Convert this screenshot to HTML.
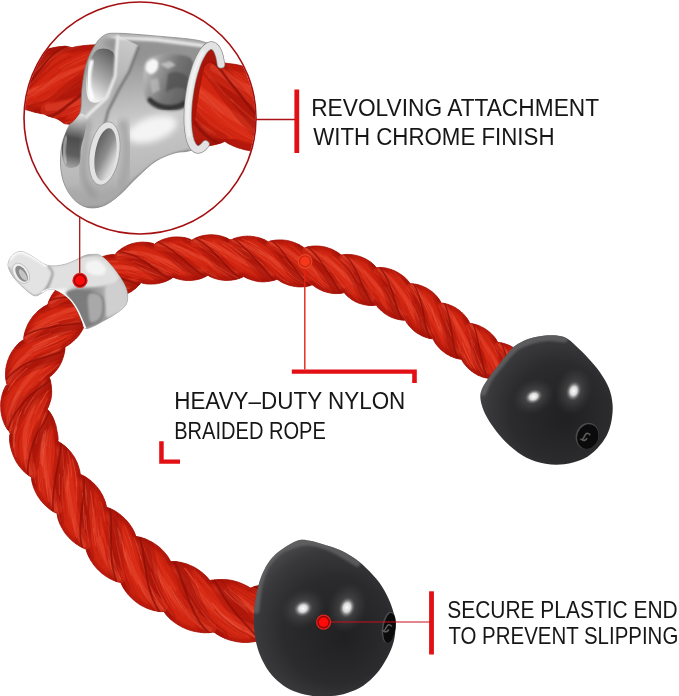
<!DOCTYPE html>
<html><head><meta charset="utf-8"><title>Tricep rope features</title>
<style>html,body{margin:0;padding:0;background:#fff}svg{display:block}</style></head>
<body><svg width="679" height="696" viewBox="0 0 679 696">
<rect width="679" height="696" fill="#fff"/>
<defs>
<clipPath id="insetclip"><circle cx="140" cy="118" r="115.2"/></clipPath>
<radialGradient id="capg1" gradientUnits="userSpaceOnUse" cx="556" cy="408" r="82" fx="566" fy="420">
<stop offset="0" stop-color="#202022"/><stop offset="0.6" stop-color="#2b2b2d"/><stop offset="0.85" stop-color="#39393b"/><stop offset="1" stop-color="#4a4a4c"/></radialGradient>
<radialGradient id="capg2" gradientUnits="userSpaceOnUse" cx="332" cy="625" r="90" fx="345" fy="638">
<stop offset="0" stop-color="#202022"/><stop offset="0.6" stop-color="#2b2b2d"/><stop offset="0.85" stop-color="#39393b"/><stop offset="1" stop-color="#4a4a4c"/></radialGradient>
<radialGradient id="hl"><stop offset="0" stop-color="#fff" stop-opacity="1"/><stop offset="0.45" stop-color="#eee" stop-opacity="0.85"/><stop offset="0.75" stop-color="#aaa" stop-opacity="0.35"/><stop offset="1" stop-color="#777" stop-opacity="0"/></radialGradient>
<radialGradient id="glow"><stop offset="0" stop-color="#8a8a8c" stop-opacity="0.55"/><stop offset="1" stop-color="#555" stop-opacity="0"/></radialGradient>
<linearGradient id="chrome1" gradientUnits="userSpaceOnUse" x1="40" y1="250" x2="70" y2="300"><stop offset="0" stop-color="#f0f0f0"/><stop offset="0.5" stop-color="#d2d2d2"/><stop offset="1" stop-color="#adadad"/></linearGradient>
<linearGradient id="sleeve1" gradientUnits="userSpaceOnUse" x1="66" y1="300" x2="124" y2="282"><stop offset="0" stop-color="#f4f4f4"/><stop offset="0.12" stop-color="#d8d8d8"/><stop offset="0.4" stop-color="#8f8f8f"/><stop offset="0.6" stop-color="#a5a5a5"/><stop offset="0.82" stop-color="#d6d6d6"/><stop offset="1" stop-color="#c4c4c4"/></linearGradient>
<linearGradient id="ich" gradientUnits="userSpaceOnUse" x1="120" y1="30" x2="140" y2="210"><stop offset="0" stop-color="#bcbcbc"/><stop offset="0.2" stop-color="#9c9c9c"/><stop offset="0.5" stop-color="#cacaca"/><stop offset="0.8" stop-color="#b8b8b8"/><stop offset="1" stop-color="#989898"/></linearGradient>
<linearGradient id="iband" gradientUnits="userSpaceOnUse" x1="125" y1="40" x2="90" y2="130"><stop offset="0" stop-color="#c9c9c9"/><stop offset="0.5" stop-color="#b0b0b0"/><stop offset="1" stop-color="#c4c4c4"/></linearGradient>
<linearGradient id="ishoulder" gradientUnits="userSpaceOnUse" x1="146" y1="54" x2="140" y2="104"><stop offset="0" stop-color="#ffffff"/><stop offset="0.35" stop-color="#d8d8d8"/><stop offset="0.75" stop-color="#8a8a8a"/><stop offset="1" stop-color="#b5b5b5"/></linearGradient>
<linearGradient id="ihollow" gradientUnits="userSpaceOnUse" x1="88" y1="95" x2="116" y2="55"><stop offset="0" stop-color="#f2f2f2"/><stop offset="0.4" stop-color="#b0b0b0"/><stop offset="1" stop-color="#5f5f5f"/></linearGradient>
<linearGradient id="ipatch" gradientUnits="userSpaceOnUse" x1="143" y1="70" x2="193" y2="90"><stop offset="0" stop-color="#c2c2c2"/><stop offset="0.25" stop-color="#9a9a9a"/><stop offset="0.55" stop-color="#747474"/><stop offset="1" stop-color="#5d5d5d"/></linearGradient>
<linearGradient id="ilobe" gradientUnits="userSpaceOnUse" x1="78" y1="114" x2="68" y2="168"><stop offset="0" stop-color="#e2e2e2"/><stop offset="0.22" stop-color="#9a9a9a"/><stop offset="0.45" stop-color="#4e4e4e"/><stop offset="0.75" stop-color="#5e5e5e"/><stop offset="1" stop-color="#a8a8a8"/></linearGradient>
<linearGradient id="ihole" gradientUnits="userSpaceOnUse" x1="92" y1="150" x2="116" y2="158"><stop offset="0" stop-color="#5e5e5e"/><stop offset="0.55" stop-color="#8c8c8c"/><stop offset="1" stop-color="#d8d8d8"/></linearGradient>
<filter id="b1" x="-20%" y="-20%" width="140%" height="140%"><feGaussianBlur stdDeviation="1.2"/></filter>
<filter id="b3" x="-30%" y="-30%" width="160%" height="160%"><feGaussianBlur stdDeviation="3"/></filter>
</defs>
<g clip-path="url(#insetclip)">
<clipPath id="rc2"><path d="M5.4 102.1L6.8 102.9L8.3 103.6L9.8 104.3L11.3 104.9L12.8 105.6L14.3 106.2L15.9 106.7L17.4 107.3L19.0 107.8L20.6 108.3L22.3 108.8L23.9 109.2L25.6 109.6L27.3 110.1L29.0 110.6L30.6 111.1L32.3 111.6L33.9 112.0L35.5 112.4L37.1 112.8L38.7 113.1L40.3 113.4L41.8 113.7L43.3 113.9L44.7 114.2L46.4 115.3L48.1 116.1L50.2 116.7L52.2 117.3L54.1 117.8L55.7 118.3L57.0 118.8L58.0 119.4L59.0 119.9L59.9 120.5L60.7 121.1L61.5 121.7L62.3 122.3L63.2 122.9L64.3 123.5L65.3 123.8L66.5 123.9L67.6 124.1L68.9 124.2L70.2 124.4L71.6 124.6L73.0 124.7L74.4 124.8L75.7 125.0L77.1 125.1L78.5 125.2L80.0 125.3L81.4 125.4L82.9 125.5L84.4 125.5L85.9 125.6L87.4 125.7L88.9 125.7L90.4 125.7L91.9 125.7L93.4 125.7L95.0 125.7L96.5 125.7L98.1 125.6L99.6 125.6L101.2 125.5L106.5 44.5L105.1 44.5L103.6 44.5L102.1 44.6L100.7 44.6L99.2 44.6L97.7 44.7L96.2 44.7L94.7 44.8L93.2 44.9L91.7 44.9L90.2 45.0L88.6 45.2L87.1 45.3L85.5 45.4L84.0 45.6L82.4 45.8L80.8 46.0L79.1 46.2L77.5 46.4L75.9 46.7L74.3 47.1L72.6 47.5L70.9 47.4L69.1 46.9L67.4 46.5L65.3 46.2L63.5 46.3L61.4 46.5L59.2 46.7L57.0 47.0L54.9 47.4L52.8 47.8L50.7 48.3L48.7 48.8L46.9 49.3L45.5 49.8L44.5 50.3L43.5 50.8L42.6 51.2L41.3 51.9L39.9 52.7L38.3 53.6L36.9 54.4L35.4 55.3L34.0 56.2L32.7 57.1L31.3 58.0L29.9 59.0L28.6 59.9L27.3 60.9L26.0 61.9L24.7 62.8L23.4 63.7L22.1 64.5L20.8 65.3L19.4 66.1L18.0 66.9L16.6 67.8L15.1 68.6L13.7 69.7L12.2 69.7L10.7 69.9L9.2 70.2L7.7 70.5L6.2 70.9L4.6 71.3Z"/></clipPath>
<path d="M5.4 102.1L6.8 102.9L8.3 103.6L9.8 104.3L11.3 104.9L12.8 105.6L14.3 106.2L15.9 106.7L17.4 107.3L19.0 107.8L20.6 108.3L22.3 108.8L23.9 109.2L25.6 109.6L27.3 110.1L29.0 110.6L30.6 111.1L32.3 111.6L33.9 112.0L35.5 112.4L37.1 112.8L38.7 113.1L40.3 113.4L41.8 113.7L43.3 113.9L44.7 114.2L46.4 115.3L48.1 116.1L50.2 116.7L52.2 117.3L54.1 117.8L55.7 118.3L57.0 118.8L58.0 119.4L59.0 119.9L59.9 120.5L60.7 121.1L61.5 121.7L62.3 122.3L63.2 122.9L64.3 123.5L65.3 123.8L66.5 123.9L67.6 124.1L68.9 124.2L70.2 124.4L71.6 124.6L73.0 124.7L74.4 124.8L75.7 125.0L77.1 125.1L78.5 125.2L80.0 125.3L81.4 125.4L82.9 125.5L84.4 125.5L85.9 125.6L87.4 125.7L88.9 125.7L90.4 125.7L91.9 125.7L93.4 125.7L95.0 125.7L96.5 125.7L98.1 125.6L99.6 125.6L101.2 125.5L106.5 44.5L105.1 44.5L103.6 44.5L102.1 44.6L100.7 44.6L99.2 44.6L97.7 44.7L96.2 44.7L94.7 44.8L93.2 44.9L91.7 44.9L90.2 45.0L88.6 45.2L87.1 45.3L85.5 45.4L84.0 45.6L82.4 45.8L80.8 46.0L79.1 46.2L77.5 46.4L75.9 46.7L74.3 47.1L72.6 47.5L70.9 47.4L69.1 46.9L67.4 46.5L65.3 46.2L63.5 46.3L61.4 46.5L59.2 46.7L57.0 47.0L54.9 47.4L52.8 47.8L50.7 48.3L48.7 48.8L46.9 49.3L45.5 49.8L44.5 50.3L43.5 50.8L42.6 51.2L41.3 51.9L39.9 52.7L38.3 53.6L36.9 54.4L35.4 55.3L34.0 56.2L32.7 57.1L31.3 58.0L29.9 59.0L28.6 59.9L27.3 60.9L26.0 61.9L24.7 62.8L23.4 63.7L22.1 64.5L20.8 65.3L19.4 66.1L18.0 66.9L16.6 67.8L15.1 68.6L13.7 69.7L12.2 69.7L10.7 69.9L9.2 70.2L7.7 70.5L6.2 70.9L4.6 71.3Z" fill="#cf2511" stroke="#a8150a" stroke-width="0.8"/>
<g clip-path="url(#rc2)" fill="none" stroke-linecap="round" stroke-linejoin="round">
<path d="M5.4 102.1L6.8 102.9L8.3 103.6L9.8 104.3L11.3 104.9L12.8 105.6L14.3 106.2L15.9 106.7L17.4 107.3L19.0 107.8L20.6 108.3L22.3 108.8L23.9 109.2L25.6 109.6L27.3 110.1L29.0 110.6L30.6 111.1L32.3 111.6L33.9 112.0L35.5 112.4L37.1 112.8L38.7 113.1L40.3 113.4L41.8 113.7L43.3 113.9L44.7 114.2L46.4 115.3L48.1 116.1L50.2 116.7L52.2 117.3L54.1 117.8L55.7 118.3L57.0 118.8L58.0 119.4L59.0 119.9L59.9 120.5L60.7 121.1L61.5 121.7L62.3 122.3L63.2 122.9L64.3 123.5L65.3 123.8L66.5 123.9L67.6 124.1L68.9 124.2L70.2 124.4L71.6 124.6L73.0 124.7L74.4 124.8L75.7 125.0L77.1 125.1L78.5 125.2L80.0 125.3L81.4 125.4L82.9 125.5L84.4 125.5L85.9 125.6L87.4 125.7L88.9 125.7L90.4 125.7L91.9 125.7L93.4 125.7L95.0 125.7L96.5 125.7L98.1 125.6L99.6 125.6L101.2 125.5" stroke="#8a0f06" stroke-opacity="0.30" stroke-width="9.9" filter="url(#b1)"/>
<path d="M4.6 71.3L6.2 70.9L7.7 70.5L9.2 70.2L10.7 69.9L12.2 69.7L13.7 69.7L15.1 68.6L16.6 67.8L18.0 66.9L19.4 66.1L20.8 65.3L22.1 64.5L23.4 63.7L24.7 62.8L26.0 61.9L27.3 60.9L28.6 59.9L29.9 59.0L31.3 58.0L32.7 57.1L34.0 56.2L35.4 55.3L36.9 54.4L38.3 53.6L39.9 52.7L41.3 51.9L42.6 51.2L43.5 50.8L44.5 50.3L45.5 49.8L46.9 49.3L48.7 48.8L50.7 48.3L52.8 47.8L54.9 47.4L57.0 47.0L59.2 46.7L61.4 46.5L63.5 46.3L65.3 46.2L67.4 46.5L69.1 46.9L70.9 47.4L72.6 47.5L74.3 47.1L75.9 46.7L77.5 46.4L79.1 46.2L80.8 46.0L82.4 45.8L84.0 45.6L85.5 45.4L87.1 45.3L88.6 45.2L90.2 45.0L91.7 44.9L93.2 44.9L94.7 44.8L96.2 44.7L97.7 44.7L99.2 44.6L100.7 44.6L102.1 44.6L103.6 44.5L105.1 44.5L106.5 44.5" stroke="#8a0f06" stroke-opacity="0.38" stroke-width="11.3" filter="url(#b1)"/>
<path d="M-3.2 77.7L1.3 76.3L5.9 74.8" stroke="#e2361f" stroke-opacity="0.45" stroke-width="6.5"/>
<path d="M-3.5 76.7L1.0 75.3L5.6 73.8" stroke="#ec5038" stroke-opacity="0.4" stroke-width="2.9"/>
<path d="M-2.2 78.8L0.7 76.3L3.7 74.1L6.8 71.5L10.1 68.8" stroke="#a01208" stroke-opacity="0.38" stroke-width="10.2"/>
<path d="M-2.2 78.8L0.7 76.3L3.7 74.1L6.8 71.5L10.1 68.8" stroke="#a01208" stroke-opacity="0.50" stroke-width="5.5"/>
<path d="M-4.4 91.4L0.1 89.2L4.6 87.0L9.4 84.6L14.6 81.7L20.3 78.3L26.4 74.3L33.2 69.0L41.5 62.9L50.1 57.1" stroke="#e2361f" stroke-opacity="0.45" stroke-width="6.5"/>
<path d="M-4.8 90.4L-0.3 88.3L4.2 86.0L8.8 83.6L14.0 80.7L19.7 77.4L25.7 73.4L32.6 68.1L40.9 62.0L49.5 56.2" stroke="#ec5038" stroke-opacity="0.4" stroke-width="2.9"/>
<path d="M-1.6 103.4L1.4 101.8L4.4 100.0L7.4 98.2L10.6 96.2L14.1 93.7L17.8 90.5L21.8 86.6L25.9 82.2L30.3 76.9L35.0 70.8L40.4 64.1L45.3 57.4L52.1 50.8L62.4 44.8" stroke="#a01208" stroke-opacity="0.38" stroke-width="15.3"/>
<path d="M-1.6 103.4L1.4 101.8L4.4 100.0L7.4 98.2L10.6 96.2L14.1 93.7L17.8 90.5L21.8 86.6L25.9 82.2L30.3 76.9L35.0 70.8L40.4 64.1L45.3 57.4L52.1 50.8L62.4 44.8" stroke="#a01208" stroke-opacity="0.50" stroke-width="8.2"/>
<path d="M3.4 98.9L8.0 98.4L13.0 98.1L18.8 97.1L25.3 95.5L32.5 93.1L40.6 89.5L49.8 84.5L60.2 78.4L72.3 73.1L84.5 68.8L96.5 65.0L108.4 61.6" stroke="#e2361f" stroke-opacity="0.45" stroke-width="9.9"/>
<path d="M3.2 97.3L7.8 96.8L12.9 96.4L18.5 95.5L24.8 93.9L31.9 91.6L39.9 88.1L49.0 83.1L59.4 76.9L71.7 71.6L83.9 67.3L96.1 63.4L107.9 60.0" stroke="#ec5038" stroke-opacity="0.4" stroke-width="4.4"/>
<path d="M38.6 114.5L44.4 114.1L51.6 111.9L57.6 108.0L62.6 103.5L69.6 97.6L77.5 91.2L85.7 84.6L94.0 78.1L102.3 71.6L110.5 65.4" stroke="#a01208" stroke-opacity="0.38" stroke-width="26.2"/>
<path d="M38.6 114.5L44.4 114.1L51.6 111.9L57.6 108.0L62.6 103.5L69.6 97.6L77.5 91.2L85.7 84.6L94.0 78.1L102.3 71.6L110.5 65.4" stroke="#a01208" stroke-opacity="0.50" stroke-width="14.0"/>
<path d="M48.9 110.3L58.7 109.1L67.1 107.6L78.2 104.3L90.0 100.7L102.2 96.7L114.4 92.1" stroke="#e2361f" stroke-opacity="0.45" stroke-width="16.9"/>
<path d="M48.6 107.5L58.2 106.4L66.5 104.8L77.4 101.6L89.2 98.1L101.2 94.0L113.4 89.5" stroke="#ec5038" stroke-opacity="0.4" stroke-width="7.5"/>
<path d="M7.2 79.5L10.4 76.9L13.8 74.2L17.3 71.4L21.0 68.4" stroke="#a4140a" stroke-opacity="0.18" stroke-width="0.8"/>
<path d="M65.2 92.9L73.4 87.9L82.0 82.9L90.8 78.0L99.5 73.2" stroke="#ee6248" stroke-opacity="0.11" stroke-width="1.4"/>
<path d="M19.3 105.6L27.0 104.8L35.7 103.0L45.3 99.2L56.2 92.1" stroke="#ee6248" stroke-opacity="0.18" stroke-width="1.0"/>
<path d="M41.6 91.6L50.0 85.3L59.5 77.7L70.9 70.6L82.4 64.7" stroke="#ee6248" stroke-opacity="0.15" stroke-width="1.0"/>
<path d="M15.7 102.6L19.4 101.9L23.4 100.8L27.7 99.4L32.3 97.6" stroke="#a4140a" stroke-opacity="0.26" stroke-width="0.7"/>
<path d="M-3.8 98.2L0.7 95.6L5.2 92.8L9.9 90.2" stroke="#a4140a" stroke-opacity="0.09" stroke-width="0.6"/>
<path d="M-1.0 86.7L3.3 83.7L7.7 80.5" stroke="#a4140a" stroke-opacity="0.14" stroke-width="0.7"/>
<path d="M89.1 61.1L95.2 58.4L101.3 55.8L107.2 53.3L113.3 51.3" stroke="#ee6248" stroke-opacity="0.30" stroke-width="1.1"/>
<path d="M65.2 95.7L77.3 88.5L90.1 81.3L102.9 74.2L115.7 67.3" stroke="#ee6248" stroke-opacity="0.10" stroke-width="0.9"/>
<path d="M-4.4 100.1L0.9 97.4L6.3 94.5L12.0 91.5L18.6 87.3" stroke="#a4140a" stroke-opacity="0.24" stroke-width="0.7"/>
<path d="M37.4 80.9L47.1 71.9L60.3 61.6L75.7 54.2L90.0 49.2" stroke="#a4140a" stroke-opacity="0.24" stroke-width="0.9"/>
<path d="M15.3 105.8L20.8 105.8L27.0 105.1L33.8 104.0L41.1 101.7" stroke="#a4140a" stroke-opacity="0.10" stroke-width="0.8"/>
<path d="M13.7 101.8L19.9 100.3L27.0 97.7L34.9 93.8L43.8 87.9" stroke="#ee6248" stroke-opacity="0.22" stroke-width="0.9"/>
<path d="M30.9 75.7L40.0 66.8L49.6 57.0L66.4 47.8L81.9 44.1" stroke="#ee6248" stroke-opacity="0.27" stroke-width="1.1"/>
<path d="M-2.3 95.5L1.6 93.1L5.5 90.5L9.6 87.9L14.1 84.8" stroke="#a4140a" stroke-opacity="0.16" stroke-width="0.4"/>
<path d="M75.5 120.1L85.2 117.1L95.4 113.4L105.9 108.9" stroke="#a4140a" stroke-opacity="0.18" stroke-width="1.2"/>
<path d="M65.5 123.0L74.8 120.6L85.3 117.4L96.3 113.5L107.5 108.6" stroke="#ee6248" stroke-opacity="0.30" stroke-width="1.4"/>
<path d="M-1.1 98.0L2.6 96.0L6.3 93.9L10.2 91.8" stroke="#a4140a" stroke-opacity="0.15" stroke-width="0.6"/>
<path d="M90.7 62.9L100.2 58.5L109.7 54.5" stroke="#a4140a" stroke-opacity="0.15" stroke-width="0.9"/>
<path d="M26.6 89.4L34.7 83.2L44.1 74.8L54.9 65.0L70.2 56.4" stroke="#a4140a" stroke-opacity="0.23" stroke-width="1.4"/>
<path d="M49.8 84.9L60.7 76.3L73.6 68.6L86.5 62.1L99.2 56.4" stroke="#a4140a" stroke-opacity="0.16" stroke-width="0.9"/>
<path d="M7.7 99.3L11.4 98.3L15.6 96.9L20.1 94.8L24.9 92.1" stroke="#a4140a" stroke-opacity="0.10" stroke-width="0.7"/>
<path d="M75.4 108.9L81.8 105.9L88.4 102.7L95.2 99.3L101.9 95.7" stroke="#ee6248" stroke-opacity="0.11" stroke-width="1.4"/>
<path d="M0.4 100.6L5.2 98.3L10.3 96.7L16.1 94.2L22.6 90.5" stroke="#a4140a" stroke-opacity="0.20" stroke-width="0.9"/>
<path d="M-1.6 76.7L2.5 74.6L6.6 72.2L11.1 69.1" stroke="#ee6248" stroke-opacity="0.26" stroke-width="0.7"/>
<path d="M94.3 122.6L105.6 119.4" stroke="#ee6248" stroke-opacity="0.23" stroke-width="1.0"/>
<path d="M-2.5 88.1L0.9 85.8L4.3 83.4L7.8 80.7" stroke="#a4140a" stroke-opacity="0.17" stroke-width="0.6"/>
<path d="M38.0 97.1L48.6 90.6L60.3 81.5L74.5 72.8L89.1 65.2" stroke="#a4140a" stroke-opacity="0.18" stroke-width="1.0"/>
<path d="M35.9 83.3L44.6 75.7L54.4 66.7L68.3 58.4L81.6 53.0" stroke="#a4140a" stroke-opacity="0.13" stroke-width="1.1"/>
<path d="M22.3 99.8L27.5 97.9L33.1 95.2L39.1 91.6L45.8 86.9" stroke="#ee6248" stroke-opacity="0.20" stroke-width="0.9"/>
<path d="M2.3 96.2L5.0 94.5L7.8 93.2L10.7 91.6L13.8 89.7" stroke="#ee6248" stroke-opacity="0.23" stroke-width="0.7"/>
<path d="M98.6 94.6L109.6 88.5" stroke="#a4140a" stroke-opacity="0.22" stroke-width="1.3"/>
<path d="M39.3 88.1L45.9 83.0L52.8 76.8L61.6 70.3L71.3 64.8" stroke="#a4140a" stroke-opacity="0.20" stroke-width="1.1"/>
<path d="M8.3 102.4L12.0 102.2L16.1 101.5L20.7 100.3L25.7 98.4" stroke="#ee6248" stroke-opacity="0.12" stroke-width="0.6"/>
<path d="M8.7 97.2L13.4 95.4L18.7 92.7L24.4 89.2L30.7 84.6" stroke="#a4140a" stroke-opacity="0.20" stroke-width="0.7"/>
<path d="M83.4 79.7L93.8 73.9L104.2 68.3L114.6 63.1" stroke="#a4140a" stroke-opacity="0.18" stroke-width="1.0"/>
<path d="M39.2 69.3L47.5 60.6L61.3 51.7L75.8 46.5L88.8 43.7" stroke="#ee6248" stroke-opacity="0.12" stroke-width="1.5"/>
<path d="M81.6 81.0L94.4 73.9L107.0 67.1" stroke="#ee6248" stroke-opacity="0.26" stroke-width="1.0"/>
<path d="M4.4 92.8L6.7 91.4L9.1 90.0L11.6 88.4L14.3 86.6" stroke="#a4140a" stroke-opacity="0.12" stroke-width="0.8"/>
<path d="M35.1 81.1L42.8 74.1L50.7 66.3L62.7 58.1L75.2 52.7" stroke="#a4140a" stroke-opacity="0.16" stroke-width="1.2"/>
<path d="M15.1 83.0L19.1 79.9L23.4 76.3L27.8 72.0L32.7 67.0" stroke="#a4140a" stroke-opacity="0.11" stroke-width="0.8"/>
<path d="M25.5 105.7L30.3 105.3L35.4 104.3L40.8 102.7L46.7 100.3" stroke="#a4140a" stroke-opacity="0.16" stroke-width="0.9"/>
<path d="M72.5 92.5L83.9 86.0L95.6 79.5L107.2 73.0" stroke="#a4140a" stroke-opacity="0.22" stroke-width="1.0"/>
<path d="M-0.5 85.6L4.0 82.6L8.7 79.0" stroke="#a4140a" stroke-opacity="0.12" stroke-width="0.7"/>
<path d="M91.8 112.7L100.6 109.0L109.3 104.7" stroke="#ee6248" stroke-opacity="0.21" stroke-width="1.5"/>
<path d="M34.6 75.3L42.5 67.5L50.7 59.3L64.6 51.2L77.5 47.1" stroke="#ee6248" stroke-opacity="0.15" stroke-width="1.1"/>
<path d="M68.5 114.1L75.2 111.2L82.1 108.1L89.4 104.7L96.8 101.1" stroke="#ee6248" stroke-opacity="0.23" stroke-width="1.1"/>
<path d="M7.3 95.5L10.0 94.3L12.9 92.8L16.0 91.1L19.3 89.1" stroke="#ee6248" stroke-opacity="0.26" stroke-width="0.7"/>
<path d="M25.8 108.4L31.1 108.7L36.8 108.4L42.8 107.5L49.9 105.3" stroke="#ee6248" stroke-opacity="0.10" stroke-width="1.3"/>
<path d="M59.3 68.3L67.1 63.5L74.8 59.9L82.3 56.6L89.6 53.7" stroke="#ee6248" stroke-opacity="0.28" stroke-width="1.1"/>
<path d="M98.3 59.3L104.3 56.6L110.4 54.1L116.6 52.0" stroke="#ee6248" stroke-opacity="0.21" stroke-width="1.1"/>
<path d="M19.1 97.4L23.3 95.4L27.8 93.1L32.6 90.1L37.8 86.3" stroke="#ee6248" stroke-opacity="0.24" stroke-width="1.2"/>
<path d="M-2.9 79.3L1.1 77.0L5.2 74.8L9.4 71.6" stroke="#ee6248" stroke-opacity="0.10" stroke-width="0.6"/>
<path d="M-0.5 96.9L2.7 95.0L5.8 93.1L9.1 91.3L12.6 89.2" stroke="#a4140a" stroke-opacity="0.17" stroke-width="0.5"/>
<path d="M88.1 64.9L100.4 59.0L112.5 54.0" stroke="#ee6248" stroke-opacity="0.28" stroke-width="1.1"/>
<path d="M62.9 81.2L74.6 74.2L86.5 67.9L98.2 62.0L109.8 56.8" stroke="#a4140a" stroke-opacity="0.24" stroke-width="1.2"/>
<path d="M28.7 108.2L34.8 108.0L41.2 107.0L48.5 104.9L56.2 100.8" stroke="#a4140a" stroke-opacity="0.13" stroke-width="1.4"/>
<path d="M64.0 117.1L74.8 112.6L87.0 107.2L99.8 101.1L112.7 94.1" stroke="#a4140a" stroke-opacity="0.27" stroke-width="1.1"/>
<path d="M62.6 69.4L72.5 63.9L82.1 59.4L91.6 55.4L100.8 51.8" stroke="#ee6248" stroke-opacity="0.17" stroke-width="1.3"/>
<path d="M9.0 79.9L12.7 77.0L16.5 73.9L20.5 70.5L24.6 66.9" stroke="#a4140a" stroke-opacity="0.15" stroke-width="0.8"/>
<path d="M76.8 99.4L88.1 93.2L99.7 86.8L111.3 80.2" stroke="#ee6248" stroke-opacity="0.19" stroke-width="0.9"/>
<path d="M32.5 95.7L38.1 92.5L44.2 88.3L50.8 83.0L58.2 77.0" stroke="#ee6248" stroke-opacity="0.16" stroke-width="1.0"/>
<path d="M12.4 83.9L18.6 79.0L25.4 73.1L32.9 65.3L42.1 56.1" stroke="#a4140a" stroke-opacity="0.17" stroke-width="1.1"/>
<path d="M40.1 63.9L44.8 59.0L50.0 54.2L58.7 49.3L67.5 45.5" stroke="#a4140a" stroke-opacity="0.20" stroke-width="1.2"/>
<path d="M55.1 75.5L68.6 66.7L82.3 60.1L95.6 54.4L108.5 49.8" stroke="#ee6248" stroke-opacity="0.17" stroke-width="1.3"/>
<path d="M-2.7 80.6L1.5 78.1L5.6 75.5L10.1 72.2" stroke="#ee6248" stroke-opacity="0.22" stroke-width="0.8"/>
<path d="M73.2 81.7L81.1 77.2L89.1 72.8L97.1 68.6L104.9 64.5" stroke="#a4140a" stroke-opacity="0.16" stroke-width="1.5"/>
<path d="M24.2 88.8L31.8 82.9L40.7 74.9L50.3 65.5L65.2 55.7" stroke="#ee6248" stroke-opacity="0.15" stroke-width="1.0"/>
<path d="M-3.1 95.1L2.0 91.8L7.2 88.4L13.0 84.3" stroke="#ee6248" stroke-opacity="0.11" stroke-width="0.8"/>
<path d="M25.7 96.3L32.8 92.5L40.7 87.0L49.4 79.8L60.1 71.3" stroke="#a4140a" stroke-opacity="0.13" stroke-width="1.0"/>
<path d="M16.9 82.2L23.7 76.6L31.2 69.2L40.2 60.0L49.9 50.9" stroke="#ee6248" stroke-opacity="0.23" stroke-width="1.0"/>
<path d="M82.4 109.4L90.8 105.5L99.4 101.4L108.0 96.8" stroke="#ee6248" stroke-opacity="0.27" stroke-width="1.0"/>
<path d="M6.6 100.2L12.3 98.9L18.8 96.5L26.2 92.7L34.5 87.2" stroke="#ee6248" stroke-opacity="0.16" stroke-width="0.9"/>
<path d="M2.3 89.5L5.9 87.0L9.7 84.3L13.9 81.1L18.4 77.5" stroke="#ee6248" stroke-opacity="0.22" stroke-width="0.6"/>
<path d="M2.3 79.5L7.4 76.0L12.9 71.8L18.9 67.2L25.1 62.2" stroke="#ee6248" stroke-opacity="0.16" stroke-width="0.5"/>
<path d="M58.4 110.0L65.3 106.7L74.7 101.5L85.0 96.0L95.6 90.2" stroke="#a4140a" stroke-opacity="0.23" stroke-width="1.0"/>
<path d="M-0.3 82.1L2.2 80.6L4.6 79.0L7.1 77.1L9.8 75.0" stroke="#ee6248" stroke-opacity="0.10" stroke-width="0.5"/>
<path d="M-2.2 81.5L0.8 78.7L3.8 76.2L6.8 73.4L10.1 70.4L13.6 67.5" stroke="#8e1007" stroke-opacity="0.8" stroke-width="1.1"/>
<path d="M1.4 103.3L4.4 101.8L7.4 100.5L10.6 99.0L14.1 96.8L17.9 94.1L21.9 90.6L26.2 86.4L30.6 81.4L35.4 75.6L40.7 68.8L45.8 61.9L52.5 54.8L62.4 48.2L72.0 44.1" stroke="#8e1007" stroke-opacity="0.8" stroke-width="1.6"/>
<path d="M44.6 117.0L52.0 115.7L58.0 112.8L62.7 109.3L69.3 104.1L77.1 98.1L85.2 91.8L93.5 85.2L101.8 78.6L110.1 72.1" stroke="#8e1007" stroke-opacity="0.8" stroke-width="2.8"/>
</g>
<ellipse cx="204.7" cy="97.5" rx="15.5" ry="52.5" fill="#a8160b" transform="rotate(8 204.7 97.5)"/>
<clipPath id="rc3"><path d="M204.2 62.2L206.1 63.1L208.2 62.6L210.2 62.4L212.2 62.3L214.1 62.3L215.9 62.3L217.6 62.4L219.2 62.5L220.7 62.6L222.1 62.7L223.5 62.9L224.8 63.0L226.0 63.2L227.2 63.3L228.2 63.5L229.4 63.6L230.7 63.8L231.9 63.9L233.2 64.1L234.6 64.3L235.9 64.5L237.3 64.8L238.7 65.1L240.1 65.4L241.4 65.7L242.9 66.0L244.2 66.4L245.6 66.8L247.0 67.2L248.3 67.6L249.7 68.1L251.0 68.6L252.4 69.1L253.7 69.6L255.0 70.1L256.3 70.7L257.6 71.2L258.9 71.8L260.1 72.4L261.3 73.0L262.6 73.6L263.9 74.3L265.3 75.0L266.6 75.7L268.0 76.4L269.4 77.2L270.9 78.0L272.4 78.9L273.8 79.9L275.3 80.9L267.5 151.8L266.0 151.9L264.6 151.9L263.1 151.9L261.7 151.9L260.2 151.9L258.7 151.8L257.1 151.7L255.5 151.5L253.8 151.3L252.2 151.1L250.5 150.9L248.8 150.6L247.1 150.2L245.6 149.9L243.9 149.5L242.3 149.1L240.8 148.6L239.3 148.2L237.7 147.7L236.3 147.2L234.7 146.6L233.3 146.0L231.8 145.3L230.3 144.6L228.8 143.9L227.3 143.0L225.9 141.9L224.4 141.5L222.6 142.4L220.9 143.1L219.2 143.6L217.4 144.1L215.6 144.5L213.8 144.9L211.8 145.3L209.8 145.6L207.9 145.9L206.0 146.1L204.2 146.4L202.5 146.6L200.8 146.8L199.2 147.1L197.7 147.3L196.3 147.5L195.0 147.7L193.8 147.9L192.8 148.2L191.8 148.4L190.8 148.7L189.8 148.8Z"/></clipPath>
<path d="M204.2 62.2L206.1 63.1L208.2 62.6L210.2 62.4L212.2 62.3L214.1 62.3L215.9 62.3L217.6 62.4L219.2 62.5L220.7 62.6L222.1 62.7L223.5 62.9L224.8 63.0L226.0 63.2L227.2 63.3L228.2 63.5L229.4 63.6L230.7 63.8L231.9 63.9L233.2 64.1L234.6 64.3L235.9 64.5L237.3 64.8L238.7 65.1L240.1 65.4L241.4 65.7L242.9 66.0L244.2 66.4L245.6 66.8L247.0 67.2L248.3 67.6L249.7 68.1L251.0 68.6L252.4 69.1L253.7 69.6L255.0 70.1L256.3 70.7L257.6 71.2L258.9 71.8L260.1 72.4L261.3 73.0L262.6 73.6L263.9 74.3L265.3 75.0L266.6 75.7L268.0 76.4L269.4 77.2L270.9 78.0L272.4 78.9L273.8 79.9L275.3 80.9L267.5 151.8L266.0 151.9L264.6 151.9L263.1 151.9L261.7 151.9L260.2 151.9L258.7 151.8L257.1 151.7L255.5 151.5L253.8 151.3L252.2 151.1L250.5 150.9L248.8 150.6L247.1 150.2L245.6 149.9L243.9 149.5L242.3 149.1L240.8 148.6L239.3 148.2L237.7 147.7L236.3 147.2L234.7 146.6L233.3 146.0L231.8 145.3L230.3 144.6L228.8 143.9L227.3 143.0L225.9 141.9L224.4 141.5L222.6 142.4L220.9 143.1L219.2 143.6L217.4 144.1L215.6 144.5L213.8 144.9L211.8 145.3L209.8 145.6L207.9 145.9L206.0 146.1L204.2 146.4L202.5 146.6L200.8 146.8L199.2 147.1L197.7 147.3L196.3 147.5L195.0 147.7L193.8 147.9L192.8 148.2L191.8 148.4L190.8 148.7L189.8 148.8Z" fill="#cf2511" stroke="#a8150a" stroke-width="0.8"/>
<g clip-path="url(#rc3)" fill="none" stroke-linecap="round" stroke-linejoin="round">
<path d="M204.2 62.2L206.1 63.1L208.2 62.6L210.2 62.4L212.2 62.3L214.1 62.3L215.9 62.3L217.6 62.4L219.2 62.5L220.7 62.6L222.1 62.7L223.5 62.9L224.8 63.0L226.0 63.2L227.2 63.3L228.2 63.5L229.4 63.6L230.7 63.8L231.9 63.9L233.2 64.1L234.6 64.3L235.9 64.5L237.3 64.8L238.7 65.1L240.1 65.4L241.4 65.7L242.9 66.0L244.2 66.4L245.6 66.8L247.0 67.2L248.3 67.6L249.7 68.1L251.0 68.6L252.4 69.1L253.7 69.6L255.0 70.1L256.3 70.7L257.6 71.2L258.9 71.8L260.1 72.4L261.3 73.0L262.6 73.6L263.9 74.3L265.3 75.0L266.6 75.7L268.0 76.4L269.4 77.2L270.9 78.0L272.4 78.9L273.8 79.9L275.3 80.9" stroke="#8a0f06" stroke-opacity="0.30" stroke-width="13.3" filter="url(#b1)"/>
<path d="M189.8 148.8L190.8 148.7L191.8 148.4L192.8 148.2L193.8 147.9L195.0 147.7L196.3 147.5L197.7 147.3L199.2 147.1L200.8 146.8L202.5 146.6L204.2 146.4L206.0 146.1L207.9 145.9L209.8 145.6L211.8 145.3L213.8 144.9L215.6 144.5L217.4 144.1L219.2 143.6L220.9 143.1L222.6 142.4L224.4 141.5L225.9 141.9L227.3 143.0L228.8 143.9L230.3 144.6L231.8 145.3L233.3 146.0L234.7 146.6L236.3 147.2L237.7 147.7L239.3 148.2L240.8 148.6L242.3 149.1L243.9 149.5L245.6 149.9L247.1 150.2L248.8 150.6L250.5 150.9L252.2 151.1L253.8 151.3L255.5 151.5L257.1 151.7L258.7 151.8L260.2 151.9L261.7 151.9L263.1 151.9L264.6 151.9L266.0 151.9L267.5 151.8" stroke="#8a0f06" stroke-opacity="0.38" stroke-width="15.2" filter="url(#b1)"/>
<path d="M194.8 131.2L205.6 135.1" stroke="#e2361f" stroke-opacity="0.45" stroke-width="19.0"/>
<path d="M195.9 128.3L206.6 132.1" stroke="#ec5038" stroke-opacity="0.4" stroke-width="8.5"/>
<path d="M187.4 122.5L193.8 130.0L199.5 136.1L206.9 141.5L215.8 145.8" stroke="#a01208" stroke-opacity="0.38" stroke-width="29.6"/>
<path d="M187.4 122.5L193.8 130.0L199.5 136.1L206.9 141.5L215.8 145.8" stroke="#a01208" stroke-opacity="0.50" stroke-width="15.9"/>
<path d="M197.2 94.6L208.8 103.1L219.6 111.2L230.5 118.2L241.2 124.4L252.0 129.7L262.8 134.1L272.7 137.8" stroke="#e2361f" stroke-opacity="0.45" stroke-width="19.0"/>
<path d="M199.1 92.0L210.7 100.5L221.5 108.6L232.2 115.5L242.7 121.6L253.3 126.8L263.9 131.2L273.8 134.9" stroke="#ec5038" stroke-opacity="0.4" stroke-width="8.5"/>
<path d="M195.9 55.5L205.7 61.3L214.8 69.3L221.3 77.6L226.8 85.7L233.0 93.8L239.3 101.9L245.6 109.9L252.1 117.5L258.7 124.6L265.2 131.0L271.4 136.8L277.7 142.3" stroke="#a01208" stroke-opacity="0.38" stroke-width="24.3"/>
<path d="M195.9 55.5L205.7 61.3L214.8 69.3L221.3 77.6L226.8 85.7L233.0 93.8L239.3 101.9L245.6 109.9L252.1 117.5L258.7 124.6L265.2 131.0L271.4 136.8L277.7 142.3" stroke="#a01208" stroke-opacity="0.50" stroke-width="13.0"/>
<path d="M211.8 69.9L222.9 77.0L232.5 83.3L242.7 89.7L252.8 96.0L262.5 102.2L272.5 108.2" stroke="#e2361f" stroke-opacity="0.45" stroke-width="15.6"/>
<path d="M213.2 67.7L224.3 74.8L233.9 81.2L244.1 87.5L254.1 93.8L263.9 99.9L273.9 106.0" stroke="#ec5038" stroke-opacity="0.4" stroke-width="7.0"/>
<path d="M270.9 76.6L277.7 81.0L284.1 85.7" stroke="#a01208" stroke-opacity="0.38" stroke-width="23.2"/>
<path d="M270.9 76.6L277.7 81.0L284.1 85.7" stroke="#a01208" stroke-opacity="0.50" stroke-width="12.4"/>
<path d="M186.8 122.8L194.9 129.5L202.7 135.1" stroke="#a4140a" stroke-opacity="0.27" stroke-width="1.2"/>
<path d="M228.1 69.3L234.5 74.4L241.4 79.7L248.2 85.2L254.7 90.8" stroke="#ee6248" stroke-opacity="0.23" stroke-width="1.4"/>
<path d="M216.4 64.1L223.6 70.4L229.6 76.4L236.5 82.3L243.4 88.3" stroke="#a4140a" stroke-opacity="0.13" stroke-width="1.2"/>
<path d="M263.8 75.3L273.2 80.1L282.5 85.1" stroke="#a4140a" stroke-opacity="0.13" stroke-width="1.2"/>
<path d="M262.5 79.1L271.0 84.6L279.8 90.2" stroke="#a4140a" stroke-opacity="0.21" stroke-width="1.2"/>
<path d="M196.2 93.1L205.0 101.4L212.9 109.6L221.1 117.1" stroke="#ee6248" stroke-opacity="0.17" stroke-width="1.4"/>
<path d="M247.7 84.7L256.4 92.0L265.0 99.3L273.9 106.6" stroke="#ee6248" stroke-opacity="0.19" stroke-width="1.1"/>
<path d="M237.8 87.1L245.9 94.4L253.9 101.6L261.9 108.5L270.0 115.2" stroke="#a4140a" stroke-opacity="0.16" stroke-width="1.5"/>
<path d="M189.9 113.6L198.1 121.1L206.2 128.0L215.9 134.2" stroke="#ee6248" stroke-opacity="0.22" stroke-width="1.2"/>
<path d="M223.4 65.4L228.1 69.8L233.5 74.0L239.1 78.4L244.7 82.9" stroke="#a4140a" stroke-opacity="0.18" stroke-width="1.3"/>
<path d="M269.8 118.0L274.9 122.3L280.1 126.4" stroke="#ee6248" stroke-opacity="0.21" stroke-width="1.0"/>
<path d="M257.7 127.3L268.7 134.6" stroke="#ee6248" stroke-opacity="0.27" stroke-width="0.9"/>
<path d="M193.4 79.7L206.4 90.6L217.0 101.9L227.5 112.1L238.1 121.2" stroke="#ee6248" stroke-opacity="0.12" stroke-width="1.1"/>
<path d="M208.4 76.5L215.5 83.4L221.3 89.9L227.2 96.1L233.4 102.1" stroke="#ee6248" stroke-opacity="0.18" stroke-width="1.4"/>
<path d="M250.0 100.1L258.0 107.2L266.2 114.0L274.1 120.5" stroke="#a4140a" stroke-opacity="0.25" stroke-width="1.3"/>
<path d="M252.7 133.6L258.4 136.9L263.9 139.9L269.0 142.5L274.2 145.3" stroke="#a4140a" stroke-opacity="0.14" stroke-width="1.2"/>
<path d="M252.5 117.9L258.7 122.7L264.8 127.2L270.6 131.4L276.5 135.6" stroke="#a4140a" stroke-opacity="0.10" stroke-width="1.1"/>
<path d="M250.7 92.3L259.4 100.0L268.5 107.5L277.4 115.0" stroke="#a4140a" stroke-opacity="0.24" stroke-width="1.4"/>
<path d="M192.2 100.2L201.3 108.8" stroke="#ee6248" stroke-opacity="0.20" stroke-width="1.3"/>
<path d="M254.3 133.2L260.6 136.8L266.5 140.1L272.2 143.2L278.1 146.3" stroke="#ee6248" stroke-opacity="0.23" stroke-width="0.9"/>
<path d="M191.7 95.6L199.0 102.1L205.6 108.8L212.1 115.1L219.0 121.0" stroke="#a4140a" stroke-opacity="0.24" stroke-width="0.9"/>
<path d="M211.4 108.8L224.2 120.3L236.8 130.0L249.6 138.0L262.6 144.0" stroke="#ee6248" stroke-opacity="0.13" stroke-width="1.5"/>
<path d="M263.2 82.7L271.3 88.2L279.4 93.8" stroke="#a4140a" stroke-opacity="0.24" stroke-width="1.0"/>
<path d="M232.1 117.8L241.3 125.3L250.8 131.9L260.3 137.5L269.0 142.2" stroke="#ee6248" stroke-opacity="0.10" stroke-width="1.0"/>
<path d="M260.5 78.1L265.3 81.1L270.4 84.4L275.6 87.7L280.6 91.0" stroke="#ee6248" stroke-opacity="0.10" stroke-width="0.9"/>
<path d="M194.6 111.0L204.6 120.6" stroke="#ee6248" stroke-opacity="0.12" stroke-width="1.1"/>
<path d="M215.3 120.7L228.7 130.7L241.7 138.7L255.3 144.8L267.7 148.9" stroke="#ee6248" stroke-opacity="0.09" stroke-width="1.4"/>
<path d="M258.8 94.2L269.0 102.6L279.1 110.9" stroke="#a4140a" stroke-opacity="0.20" stroke-width="1.5"/>
<path d="M194.3 86.5L202.9 94.0" stroke="#ee6248" stroke-opacity="0.28" stroke-width="0.9"/>
<path d="M243.1 73.0L250.6 78.1L257.6 83.4L264.7 88.8L272.3 94.4" stroke="#ee6248" stroke-opacity="0.13" stroke-width="1.2"/>
<path d="M222.9 77.1L232.3 86.5L242.4 95.7L252.3 104.9L262.4 113.4" stroke="#ee6248" stroke-opacity="0.13" stroke-width="1.1"/>
<path d="M201.7 62.3L217.3 73.6L227.8 84.8L239.1 95.4L250.4 105.8" stroke="#a4140a" stroke-opacity="0.11" stroke-width="1.1"/>
<path d="M192.3 83.8L201.0 91.1L208.9 98.9L216.0 106.5L223.3 113.4" stroke="#ee6248" stroke-opacity="0.28" stroke-width="1.1"/>
<path d="M230.3 98.9L240.7 108.6L251.0 117.6L261.6 125.7L271.6 132.9" stroke="#ee6248" stroke-opacity="0.25" stroke-width="1.5"/>
<path d="M230.3 78.2L239.9 86.5L249.5 95.0L258.8 103.3L268.4 111.3" stroke="#a4140a" stroke-opacity="0.21" stroke-width="0.9"/>
<path d="M264.5 132.1L272.3 137.2" stroke="#a4140a" stroke-opacity="0.10" stroke-width="1.5"/>
<path d="M246.9 104.8L257.2 113.8L267.5 122.0L277.5 129.8" stroke="#ee6248" stroke-opacity="0.15" stroke-width="1.0"/>
<path d="M228.4 66.7L239.3 74.5L250.5 82.9L261.0 91.6L272.1 100.5" stroke="#ee6248" stroke-opacity="0.18" stroke-width="0.9"/>
<path d="M233.0 117.8L242.8 125.7L252.8 132.6L262.8 138.4L272.0 143.4" stroke="#ee6248" stroke-opacity="0.25" stroke-width="0.9"/>
<path d="M254.8 106.8L261.8 112.7L268.7 118.3L275.5 123.8" stroke="#ee6248" stroke-opacity="0.22" stroke-width="1.0"/>
<path d="M250.1 89.1L260.7 98.3L271.8 107.5" stroke="#a4140a" stroke-opacity="0.11" stroke-width="1.3"/>
<path d="M193.7 107.0L202.8 115.8L212.3 124.2L222.6 131.4L232.4 137.5" stroke="#ee6248" stroke-opacity="0.28" stroke-width="0.9"/>
<path d="M234.1 87.4L239.3 92.2L244.5 96.9L249.6 101.6L254.7 106.2" stroke="#a4140a" stroke-opacity="0.19" stroke-width="1.5"/>
<path d="M225.3 77.0L236.7 87.6L248.4 98.3L260.0 108.6L271.7 118.2" stroke="#ee6248" stroke-opacity="0.10" stroke-width="1.4"/>
<path d="M188.3 115.3L195.0 123.5L200.8 130.5L207.9 136.9L216.4 142.3L224.2 146.5" stroke="#8e1007" stroke-opacity="0.8" stroke-width="3.2"/>
<path d="M206.4 57.4L215.9 64.7L222.5 72.2L227.9 79.8L234.1 87.4L240.4 95.3L246.6 103.2L252.9 110.9L259.4 118.3L265.8 125.1L272.0 131.5L278.3 137.6" stroke="#8e1007" stroke-opacity="0.8" stroke-width="2.6"/>
<path d="M278.0 77.8L284.6 81.7" stroke="#8e1007" stroke-opacity="0.8" stroke-width="2.5"/>
</g>
<path d="M104.3 35.2C108.5 32.9 110.3 33.2 118.9 33.3C127.5 33.4 144.1 35.0 156.0 36.0C167.9 37.0 182.3 38.2 190.5 39.2C198.7 40.2 201.9 41.2 205.0 42.3C208.1 43.4 209.2 44.7 209.2 45.9C209.2 47.1 206.4 47.7 204.9 49.4C203.5 51.1 202.0 53.3 200.6 56.0C199.2 58.6 197.8 61.9 196.5 65.3C195.3 68.8 194.1 72.7 193.0 76.8C192.0 80.8 191.0 85.2 190.3 89.6C189.5 94.0 188.9 98.5 188.5 102.9C188.0 107.3 187.8 111.8 187.7 115.9C187.7 120.0 187.8 124.1 188.1 127.7C188.4 131.3 188.9 134.6 189.6 137.5C190.2 140.3 191.1 142.7 192.0 144.6C193.0 146.5 196.3 147.5 195.3 148.7C194.3 149.8 189.5 150.8 186.0 151.5C182.5 152.2 179.6 151.4 174.6 153.0C169.6 154.6 162.2 157.0 156.0 161.0C149.8 165.0 143.7 171.2 137.5 176.9C131.3 182.6 124.7 190.6 118.9 195.4C113.2 200.2 108.3 204.0 103.0 206.0C97.7 208.0 91.9 208.5 87.1 207.4C82.2 206.3 77.7 203.2 73.9 199.4C70.2 195.6 66.8 190.3 64.6 184.8C62.4 179.3 61.0 172.9 60.6 166.3C60.2 159.7 60.6 151.6 61.9 145.0C63.2 138.4 66.6 130.4 68.6 126.5C70.6 122.5 71.9 123.9 73.9 121.3C75.9 118.7 79.2 116.0 80.5 110.7C81.8 105.4 80.9 97.0 81.8 89.5C82.7 82.0 83.8 72.8 85.8 65.7C87.8 58.6 90.6 52.1 93.7 47.0C96.8 41.9 100.1 37.5 104.3 35.2Z" fill="url(#ich)" stroke="#7c7c7c" stroke-width="0.7"/>
<clipPath id="sclip"><path d="M104.3 35.2C108.5 32.9 110.3 33.2 118.9 33.3C127.5 33.4 144.1 35.0 156.0 36.0C167.9 37.0 182.3 38.2 190.5 39.2C198.7 40.2 201.9 41.2 205.0 42.3C208.1 43.4 209.2 44.7 209.2 45.9C209.2 47.1 206.4 47.7 204.9 49.4C203.5 51.1 202.0 53.3 200.6 56.0C199.2 58.6 197.8 61.9 196.5 65.3C195.3 68.8 194.1 72.7 193.0 76.8C192.0 80.8 191.0 85.2 190.3 89.6C189.5 94.0 188.9 98.5 188.5 102.9C188.0 107.3 187.8 111.8 187.7 115.9C187.7 120.0 187.8 124.1 188.1 127.7C188.4 131.3 188.9 134.6 189.6 137.5C190.2 140.3 191.1 142.7 192.0 144.6C193.0 146.5 196.3 147.5 195.3 148.7C194.3 149.8 189.5 150.8 186.0 151.5C182.5 152.2 179.6 151.4 174.6 153.0C169.6 154.6 162.2 157.0 156.0 161.0C149.8 165.0 143.7 171.2 137.5 176.9C131.3 182.6 124.7 190.6 118.9 195.4C113.2 200.2 108.3 204.0 103.0 206.0C97.7 208.0 91.9 208.5 87.1 207.4C82.2 206.3 77.7 203.2 73.9 199.4C70.2 195.6 66.8 190.3 64.6 184.8C62.4 179.3 61.0 172.9 60.6 166.3C60.2 159.7 60.6 151.6 61.9 145.0C63.2 138.4 66.6 130.4 68.6 126.5C70.6 122.5 71.9 123.9 73.9 121.3C75.9 118.7 79.2 116.0 80.5 110.7C81.8 105.4 80.9 97.0 81.8 89.5C82.7 82.0 83.8 72.8 85.8 65.7C87.8 58.6 90.6 52.1 93.7 47.0C96.8 41.9 100.1 37.5 104.3 35.2Z"/></clipPath><g clip-path="url(#sclip)">
<path d="M100 40 L120 37 L160 40 L212 47 L205 62 L190 62 L165 56 L150 58 L140 64 L128 60 L110 50 Z" fill="#939393" filter="url(#b3)"/>
<ellipse cx="152" cy="130" rx="26" ry="12" fill="#f4f4f4" filter="url(#b3)" transform="rotate(-18 150 130)"/>
<path d="M190 152 L174 156 L156 164 L137 180 L119 198 L103 209 L87 210" fill="none" stroke="#8f8f8f" stroke-width="6" filter="url(#b1)"/>
<path d="M122 120 C 128 140 130 165 120 190" fill="none" stroke="#a6a6a6" stroke-width="9" filter="url(#b3)"/>
<path d="M70 190 C 80 204 100 206 118 192" fill="none" stroke="#a9a9a9" stroke-width="9" filter="url(#b3)"/>
<path d="M96.0 51.0C99.1 48.2 103.8 48.2 107.0 49.0C110.2 49.8 113.6 51.5 115.0 56.0C116.4 60.5 116.3 70.0 115.5 76.0C114.7 82.0 112.8 87.7 110.0 92.0C107.2 96.3 102.5 100.7 99.0 102.0C95.5 103.3 91.2 103.0 89.0 100.0C86.8 97.0 86.1 89.7 86.0 84.0C85.9 78.3 86.8 71.5 88.5 66.0C90.2 60.5 92.9 53.8 96.0 51.0Z" fill="url(#ihollow)"/>
<path d="M92 60 C 88 75 88 90 93 99" fill="none" stroke="#fff" stroke-width="4" filter="url(#b1)"/>
<path d="M117.6 35.2L138.8 45.8L129.5 71.0L119.0 89.5L108.3 110.7L103.0 131.0L73.9 131.0L89.8 113.4L107.0 97.5L115.0 76.3L116.3 52.4" fill="url(#iband)"/>
<path d="M138.8 45.8 L129.5 71 L119 89.5 L108.3 110.7 L103 131" fill="none" stroke="#6f6f6f" stroke-width="2.2" filter="url(#b1)"/>
<path d="M117.6 35.2 L116.3 52.4 L115 76.3 L107 97.5 L89.8 113.4 L73.9 131" fill="none" stroke="#f4f4f4" stroke-width="2.6" filter="url(#b1)"/>
<path d="M146.0 62.0C148.1 58.3 151.7 57.2 156.0 56.0C160.3 54.8 167.0 54.5 172.0 54.5C177.0 54.5 182.5 54.8 186.0 56.0C189.5 57.2 191.8 58.0 193.0 62.0C194.2 66.0 193.8 74.0 193.5 80.0C193.2 86.0 192.6 93.3 191.0 98.0C189.4 102.7 187.8 105.9 184.0 108.0C180.2 110.1 173.3 110.8 168.0 110.5C162.7 110.2 155.8 108.9 152.0 106.5C148.2 104.1 146.4 100.8 145.0 96.0C143.6 91.2 143.3 83.7 143.5 78.0C143.7 72.3 143.9 65.7 146.0 62.0Z" fill="url(#ipatch)" filter="url(#b1)"/>
<path d="M150 100 C 160 110 180 111 190 98" fill="none" stroke="#353535" stroke-width="5" stroke-linecap="round" filter="url(#b1)"/>
<path d="M168 74 C 174 70 184 72 188 78 L187 90 C 180 86 172 88 166 92 Z" fill="#4d4d4d" opacity="0.7" filter="url(#b1)"/>
<path d="M147.0 63.0C148.2 61.2 151.2 59.2 153.0 59.0C154.8 58.8 157.3 60.2 158.0 62.0C158.7 63.8 158.2 68.0 157.0 70.0C155.8 72.0 152.8 74.0 151.0 74.0C149.2 74.0 146.7 71.8 146.0 70.0C145.3 68.2 145.8 64.8 147.0 63.0Z" fill="#f6f6f6" filter="url(#b1)"/>
<path d="M160 64 L170 61 L176 65 L168 69 Z" fill="#c9c9c9" opacity="0.8" filter="url(#b1)"/>
<path d="M150 80 L158 78 L160 90 L152 94 Z" fill="#bdbdbd" opacity="0.7" filter="url(#b1)"/>
<path d="M106 36 L156 37.5 L209 44.5 L207 48 L156 41.5 L120 39.5 Z" fill="#e6e6e6" filter="url(#b1)"/>
<path d="M81.3 113.8C83.5 113.4 85.4 115.6 86.0 118.6C86.6 121.6 85.8 127.0 85.0 131.8C84.2 136.7 81.9 142.4 81.0 147.7C80.1 153.0 81.0 160.2 79.5 163.6C78.0 167.0 74.5 167.8 72.0 168.0C69.5 168.2 66.3 167.9 64.6 164.5C62.9 161.1 61.6 153.1 61.7 147.7C61.9 142.2 63.7 136.2 65.5 131.8C67.3 127.4 69.9 124.2 72.5 121.2C75.1 118.2 79.0 114.2 81.3 113.8Z" fill="url(#ilobe)"/>
<path d="M66.5 136 C 63.5 146 63.5 156 66 164" fill="none" stroke="#d9d9d9" stroke-width="1.8" filter="url(#b1)"/>
<path d="M88 120 C 88 135 84 150 83 168 C 83 180 88 190 96 196" fill="none" stroke="#8e8e8e" stroke-width="4" filter="url(#b3)"/>
</g>
<path d="M221.0 64.3L220.3 60.0L219.5 56.1L218.4 52.8L217.2 50.0L215.8 47.9L214.2 46.4L212.6 45.6L210.8 45.5L208.9 46.1L207.0 47.3L205.1 49.2L203.1 51.7L201.2 54.9L199.3 58.5L197.5 62.7L195.8 67.4L194.2 72.4L192.7 77.8L191.4 83.5L190.3 89.3L189.4 95.2L188.6 101.2L188.1 107.1L187.8 112.9L187.7 118.4L187.8 123.7L188.2 128.7L188.8 133.3L189.5 137.4L190.5 140.9L191.7 143.9L193.0 146.3L194.5 148.0L196.1 149.1L197.9 149.5L199.7 149.3L201.6 148.3L203.5 146.7L205.5 144.4" fill="none" stroke="#8a8a8a" stroke-width="8.2" stroke-linecap="round"/>
<path d="M221.0 64.3L220.3 60.0L219.5 56.1L218.4 52.8L217.2 50.0L215.8 47.9L214.2 46.4L212.6 45.6L210.8 45.5L208.9 46.1L207.0 47.3L205.1 49.2L203.1 51.7L201.2 54.9L199.3 58.5L197.5 62.7L195.8 67.4L194.2 72.4L192.7 77.8L191.4 83.5L190.3 89.3L189.4 95.2L188.6 101.2L188.1 107.1L187.8 112.9L187.7 118.4L187.8 123.7L188.2 128.7L188.8 133.3L189.5 137.4L190.5 140.9L191.7 143.9L193.0 146.3L194.5 148.0L196.1 149.1L197.9 149.5L199.7 149.3L201.6 148.3L203.5 146.7L205.5 144.4" fill="none" stroke="#e2e2e2" stroke-width="6.8" stroke-linecap="round"/>
<path d="M203.4 51.4L202.5 52.6L201.7 54.0L200.9 55.4L200.1 57.0L199.3 58.7L198.5 60.4L197.7 62.3L197.0 64.2L196.2 66.2L195.5 68.3L194.8 70.4L194.1 72.6L193.5 74.9L192.9 77.3L192.3 79.6L191.7 82.1L191.2 84.5L190.7 87.0L190.3 89.6L189.8 92.1L189.5 94.6L189.1 97.2L188.8 99.8L188.5 102.3L188.3 104.9L188.1 107.4L187.9 109.9L187.8 112.4L187.7 114.8L187.7 117.2L187.7 119.5L187.8 121.8L187.9 124.1L188.0 126.2L188.2 128.3L188.4 130.4L188.6 132.3L188.9 134.2L189.2 135.9" fill="none" stroke="#f8f8f8" stroke-width="2.5" stroke-linecap="round" filter="url(#b1)"/>
<ellipse cx="104.5" cy="153.5" rx="15" ry="32" fill="#e2e2e2" stroke="#9a9a9a" stroke-width="0.8" transform="rotate(9 104.5 153.5)"/>
<ellipse cx="105.5" cy="154.5" rx="10.5" ry="26.5" fill="url(#ihole)" transform="rotate(9 105.5 154.5)"/>
</g>
<circle cx="140" cy="118" r="116" fill="none" stroke="#a50f10" stroke-width="1.6"/>
<clipPath id="rc1"><path d="M265.8 638.4L264.7 639.3L263.5 640.0L261.7 640.5L259.5 640.9L257.6 641.2L255.7 641.5L254.1 641.7L252.7 641.9L251.4 642.1L250.4 642.2L249.1 642.3L248.0 642.4L246.6 642.5L245.2 642.5L243.7 642.5L242.2 642.4L240.6 642.2L238.9 642.0L237.2 641.8L235.5 641.5L233.8 641.1L232.1 640.7L230.3 640.2L228.5 639.7L226.8 639.1L225.0 638.4L223.6 637.7L221.8 636.9L220.0 636.0L218.3 635.0L216.5 633.9L214.8 632.5L212.9 632.1L210.8 632.5L208.7 632.7L206.7 632.7L205.1 632.8L203.1 632.7L201.2 632.5L199.4 632.3L197.6 632.0L195.9 631.7L194.4 631.4L192.7 631.0L191.1 630.6L189.4 630.1L188.0 629.6L186.4 629.0L184.8 628.3L183.2 627.6L181.9 627.0L180.3 626.1L178.8 625.3L177.5 624.5L176.1 623.5L174.7 622.5L173.2 621.5L172.1 620.5L170.7 619.4L169.4 618.2L168.3 617.0L167.0 615.7L165.8 614.3L164.8 612.8L163.6 611.5L161.6 611.6L160.0 611.6L158.1 611.4L156.3 611.0L154.8 610.7L153.0 610.3L151.3 609.8L149.8 609.3L148.1 608.7L146.4 608.0L144.8 607.2L143.4 606.6L141.8 605.8L140.3 604.9L139.0 604.1L137.5 603.1L136.1 602.0L134.9 601.1L133.6 599.9L132.2 598.7L131.0 597.5L129.9 596.4L128.7 595.1L127.5 593.8L126.6 592.5L125.5 591.1L124.5 589.6L123.6 588.3L122.7 586.7L121.9 585.0L121.3 583.4L119.9 582.3L118.1 582.0L116.5 581.5L114.8 580.9L113.2 580.2L111.8 579.6L110.2 578.8L108.7 578.0L107.4 577.2L106.0 576.3L104.5 575.3L103.3 574.4L102.0 573.4L100.7 572.3L99.6 571.3L98.4 570.1L97.2 568.9L96.2 567.8L95.1 566.5L94.0 565.2L93.1 563.9L92.2 562.5L91.2 561.1L90.4 559.8L89.6 558.2L88.7 556.7L88.1 555.2L87.4 553.5L86.8 552.0L86.3 550.1L85.4 548.6L83.7 548.2L82.0 547.4L80.4 546.6L79.0 545.8L77.5 544.8L76.2 544.0L74.9 543.0L73.5 541.9L72.3 540.9L71.1 539.8L70.0 538.7L68.8 537.5L67.7 536.3L66.8 535.2L65.7 533.9L64.8 532.7L63.9 531.3L63.1 530.0L62.3 528.6L61.5 527.2L60.8 525.8L60.1 524.3L59.5 522.9L58.9 521.3L58.3 519.8L57.9 518.2L57.5 516.5L57.2 514.8L56.9 513.1L55.1 512.5L53.6 511.8L52.2 510.9L50.8 510.0L49.5 509.1L48.3 508.1L47.1 507.1L45.9 506.0L44.8 504.9L43.7 503.9L42.7 502.7L41.7 501.5L40.7 500.4L39.8 499.1L38.9 497.8L38.0 496.5L37.2 495.2L36.5 493.8L35.7 492.3L35.0 490.8L34.3 489.3L33.8 487.8L33.2 486.2L32.7 484.6L32.2 482.9L31.9 481.2L31.6 479.4L31.5 477.5L30.3 476.4L28.8 475.5L27.4 474.5L26.1 473.5L24.8 472.3L23.6 471.2L22.4 470.0L21.2 468.6L20.2 467.4L19.1 466.1L18.2 464.7L17.3 463.4L16.4 462.0L15.6 460.6L14.9 459.1L14.2 457.6L13.5 456.1L12.9 454.6L12.3 452.8L11.7 451.1L11.1 449.1L10.6 446.9L10.1 444.7L9.8 442.4L9.6 440.1L9.6 437.9L9.7 435.4L10.2 433.2L9.3 431.6L8.2 430.3L7.3 429.2L6.5 427.9L5.6 426.5L4.9 425.0L4.1 423.3L3.5 421.7L2.9 420.0L2.3 418.2L1.9 416.5L1.5 414.7L1.2 413.0L0.9 411.2L0.8 409.3L0.7 407.5L0.6 405.6L0.7 403.5L0.8 401.5L1.1 399.7L1.5 397.8L1.9 395.7L2.4 393.8L3.1 391.7L3.8 389.9L4.7 388.1L5.7 386.1L7.1 384.5L6.4 382.3L6.0 380.4L5.7 378.5L5.5 376.7L5.5 374.8L5.5 373.0L5.6 371.2L5.7 369.4L6.0 367.6L6.3 365.7L6.8 363.9L7.3 362.1L7.9 360.2L8.6 358.4L9.3 356.6L10.2 354.8L11.1 353.1L12.1 351.4L13.1 349.9L14.3 348.3L15.5 346.8L16.6 345.5L17.9 344.1L19.3 342.8L20.6 341.7L22.2 340.6L23.9 339.8L23.8 337.8L24.0 336.0L24.3 334.3L24.7 332.7L25.2 331.0L25.7 329.5L26.3 327.9L26.9 326.4L27.5 325.0L28.2 323.6L29.0 322.2L29.8 320.9L30.6 319.6L31.5 318.4L32.4 317.1L33.4 315.8L34.5 314.6L35.6 313.4L36.8 312.2L38.0 311.0L39.4 309.8L40.9 308.7L42.3 307.7L43.9 306.6L45.5 305.7L47.4 304.9L48.2 303.3L48.8 301.3L49.5 299.6L50.4 297.9L51.2 296.3L52.2 294.7L53.2 293.2L54.3 291.7L55.3 290.4L56.5 289.0L57.7 287.8L58.9 286.5L60.2 285.4L61.4 284.4L62.8 283.3L64.1 282.3L65.6 281.4L67.0 280.6L68.5 279.8L70.0 279.0L71.5 278.4L73.1 277.8L74.7 277.2L76.3 276.7L78.0 276.4L79.9 276.3L80.7 274.8L81.5 273.2L82.4 271.8L83.3 270.5L84.3 269.2L85.3 268.0L86.5 266.7L87.7 265.6L88.8 264.5L90.1 263.5L91.4 262.5L92.8 261.4L94.2 260.6L95.6 259.7L97.1 258.9L98.7 258.2L100.4 257.4L102.0 256.8L103.7 256.2L105.4 255.8L107.4 255.2L109.2 254.9L111.0 254.7L113.1 254.6L115.1 254.9L116.3 253.1L117.5 251.8L119.0 250.5L120.4 249.4L122.1 248.3L123.6 247.3L125.4 246.4L127.0 245.6L128.8 244.8L130.7 244.1L132.3 243.6L134.0 243.2L135.9 242.8L137.5 242.5L139.4 242.3L141.0 242.2L142.7 242.1L144.4 242.2L146.1 242.3L147.8 242.4L149.5 242.7L151.2 243.0L152.9 243.4L154.7 244.3L156.1 243.0L157.6 242.0L159.1 241.2L160.6 240.5L162.1 239.8L163.7 239.2L165.2 238.7L166.8 238.3L168.2 237.9L169.8 237.6L171.3 237.3L172.9 237.1L174.5 237.0L176.1 236.9L177.6 236.9L179.1 237.0L180.7 237.1L182.3 237.3L183.9 237.5L185.5 237.8L187.0 238.2L188.6 238.7L190.3 239.3L191.9 240.3L193.4 239.2L194.9 238.4L196.5 237.6L198.1 237.0L199.7 236.5L201.3 236.0L202.9 235.6L204.6 235.3L206.2 235.1L207.9 234.9L209.5 234.8L211.2 234.8L212.8 234.8L214.4 234.9L216.0 235.1L217.6 235.3L219.2 235.6L220.8 236.0L222.3 236.4L223.9 236.9L225.4 237.5L226.9 238.1L228.4 238.9L229.9 239.8L231.4 239.8L232.9 239.0L234.4 238.4L235.9 237.9L237.3 237.5L238.7 237.2L240.2 236.9L241.6 236.6L243.0 236.4L244.5 236.3L245.9 236.2L247.4 236.1L248.9 236.2L250.4 236.2L251.9 236.4L253.5 236.6L255.1 236.9L256.8 237.2L258.4 237.6L260.1 238.1L261.8 238.7L263.5 239.3L265.2 240.1L266.7 241.0L268.4 241.9L270.2 241.1L272.0 240.7L273.8 240.4L275.4 240.1L277.2 240.0L278.8 239.9L280.5 239.9L282.0 239.9L283.6 240.1L285.1 240.2L286.6 240.4L288.0 240.7L289.4 241.0L290.8 241.4L292.1 241.8L293.5 242.3L294.9 242.8L296.2 243.3L297.6 243.9L299.0 244.6L300.4 245.4L301.8 246.2L303.2 247.2L304.6 248.0L306.2 247.3L307.9 246.8L309.5 246.5L311.1 246.3L312.8 246.1L314.4 246.0L316.0 246.0L317.7 246.0L319.3 246.1L320.8 246.3L322.3 246.5L323.8 246.8L325.3 247.1L326.8 247.5L328.3 248.0L329.8 248.5L331.4 249.1L332.9 249.8L334.3 250.6L335.9 251.4L337.4 252.3L338.9 253.3L340.2 254.5L341.8 255.0L343.7 254.7L345.6 254.5L347.3 254.4L349.1 254.5L350.9 254.6L352.6 254.8L354.2 255.0L355.9 255.4L357.5 255.8L359.0 256.2L360.6 256.7L362.1 257.3L363.5 257.9L365.0 258.6L366.3 259.3L367.7 260.1L369.0 260.9L370.3 261.8L371.5 262.8L372.7 263.8L373.9 264.9L375.0 266.1L376.1 267.5L377.6 267.7L379.4 267.5L381.0 267.5L382.7 267.7L384.3 267.8L385.9 268.1L387.6 268.4L389.2 268.9L390.7 269.3L392.3 269.9L393.9 270.5L395.4 271.2L396.9 272.0L398.3 272.8L399.7 273.7L401.1 274.6L402.4 275.5L403.7 276.5L405.0 277.6L406.1 278.8L407.3 280.0L408.4 281.3L409.4 282.8L410.6 283.8L412.4 283.8L414.2 284.0L415.8 284.2L417.4 284.6L419.0 285.0L420.6 285.5L422.1 286.1L423.6 286.7L425.0 287.3L426.5 288.1L427.9 288.9L429.2 289.7L430.6 290.7L431.9 291.6L433.2 292.7L434.4 293.8L435.5 294.9L436.7 296.2L437.7 297.4L438.7 298.7L439.7 300.2L440.6 301.7L441.4 303.2L443.2 303.2L444.9 303.5L446.5 303.9L448.0 304.4L449.5 304.9L450.9 305.5L452.3 306.1L453.7 306.8L455.0 307.5L456.3 308.2L457.5 309.1L458.8 309.9L460.0 310.9L461.2 311.9L462.3 313.0L463.5 314.1L464.5 315.2L465.5 316.4L466.5 317.7L467.4 318.9L468.3 320.3L469.1 321.8L469.6 323.5L471.4 323.6L473.1 323.9L474.6 324.2L476.1 324.7L477.5 325.1L478.9 325.7L480.3 326.2L481.6 326.9L482.8 327.5L484.1 328.2L485.3 328.9L486.5 329.7L487.6 330.6L488.8 331.5L489.9 332.4L491.0 333.4L492.0 334.4L493.0 335.5L494.1 336.7L495.0 337.9L496.0 339.2L496.8 340.6L497.6 342.2L499.1 342.6L500.8 342.8L502.4 343.1L504.0 343.5L505.6 344.0L507.1 344.5L508.6 345.1L510.1 345.8L511.5 346.5L512.9 347.3L514.3 348.2L515.7 349.1L516.9 350.1L518.2 351.1L519.3 352.2L520.4 353.2L521.4 354.3L522.4 355.4L523.3 356.6L499.2 390.1L498.0 389.1L496.9 387.9L495.8 386.8L494.8 385.6L493.9 384.5L493.1 383.3L492.2 382.0L491.5 380.7L490.8 379.2L489.6 378.4L488.0 378.3L486.5 378.0L485.0 377.7L483.5 377.3L482.1 376.9L480.7 376.3L479.3 375.8L477.9 375.2L476.6 374.5L475.3 373.7L474.0 372.9L472.8 372.1L471.5 371.2L470.3 370.2L469.2 369.2L468.0 368.1L466.9 367.0L465.9 365.8L464.8 364.6L463.8 363.3L462.9 361.8L462.0 360.3L461.0 359.2L459.1 359.0L457.5 358.6L455.8 358.2L454.3 357.7L452.8 357.1L451.3 356.5L449.9 355.9L448.6 355.1L447.2 354.4L445.9 353.6L444.7 352.7L443.5 351.8L442.3 350.9L441.2 349.9L440.1 348.9L439.1 347.8L438.1 346.7L437.1 345.5L436.2 344.4L435.3 343.1L434.5 341.7L433.7 340.3L432.9 338.7L431.1 338.7L429.5 338.4L427.9 338.0L426.4 337.5L424.9 337.0L423.5 336.5L422.1 335.9L420.8 335.2L419.5 334.5L418.2 333.8L417.0 333.1L415.9 332.3L414.7 331.4L413.6 330.5L412.6 329.6L411.6 328.6L410.6 327.6L409.7 326.6L408.7 325.4L407.8 324.3L406.9 323.1L406.1 321.7L405.4 320.1L403.7 320.2L402.1 320.1L400.6 319.9L399.1 319.6L397.7 319.3L396.3 319.0L394.8 318.5L393.5 318.1L392.2 317.6L390.8 317.0L389.6 316.4L388.3 315.8L387.2 315.1L385.9 314.3L384.8 313.5L383.6 312.7L382.6 311.8L381.5 310.9L380.5 309.9L379.4 308.9L378.4 307.9L377.4 306.7L376.6 305.3L375.2 305.2L373.5 305.4L372.0 305.5L370.6 305.5L369.0 305.4L367.6 305.2L366.2 305.1L364.7 304.8L363.3 304.5L361.8 304.1L360.4 303.7L359.0 303.2L357.6 302.7L356.2 302.1L354.8 301.4L353.5 300.6L352.2 299.9L351.0 299.0L349.8 298.1L348.6 297.2L347.4 296.2L346.3 295.1L345.3 294.0L344.3 292.5L342.6 293.1L341.1 293.3L339.6 293.5L338.2 293.5L336.8 293.6L335.5 293.6L334.1 293.5L332.9 293.4L331.6 293.3L330.4 293.1L329.0 292.8L327.8 292.6L326.5 292.2L325.3 291.8L323.9 291.4L322.6 290.9L321.3 290.3L320.0 289.7L318.7 289.0L317.4 288.3L316.0 287.5L314.7 286.6L313.4 285.6L312.0 284.8L310.4 285.5L308.9 285.9L307.5 286.2L306.0 286.5L304.5 286.7L303.1 286.8L301.6 286.9L300.1 286.9L298.6 286.9L297.2 286.8L295.7 286.6L294.2 286.4L292.7 286.1L291.2 285.8L289.7 285.4L288.2 284.9L286.7 284.4L285.2 283.8L283.7 283.2L282.2 282.5L280.7 281.7L279.4 280.8L278.0 279.7L276.6 279.4L275.0 280.0L273.4 280.4L272.0 280.8L270.5 281.1L269.1 281.3L267.7 281.5L266.4 281.6L265.1 281.8L263.9 281.8L262.7 281.9L261.3 281.8L260.1 281.7L258.9 281.6L257.6 281.4L256.4 281.2L255.1 280.9L253.7 280.5L252.4 280.2L250.9 279.7L249.5 279.2L248.0 278.7L246.5 278.0L245.0 277.2L243.5 276.5L241.9 277.4L240.3 278.1L238.7 278.6L237.1 279.1L235.5 279.5L233.9 279.8L232.4 280.0L230.8 280.2L229.3 280.3L227.8 280.4L226.3 280.4L224.8 280.4L223.4 280.3L221.9 280.1L220.5 279.9L219.1 279.6L217.7 279.3L216.3 278.9L214.9 278.5L213.5 278.0L212.2 277.5L210.8 276.9L209.4 276.2L208.0 275.2L206.6 275.9L205.3 276.7L203.9 277.3L202.6 277.9L201.2 278.4L199.9 278.9L198.5 279.3L197.1 279.6L195.7 279.9L194.3 280.1L192.9 280.3L191.5 280.5L190.1 280.5L188.6 280.6L187.1 280.5L185.7 280.4L184.3 280.3L182.8 280.1L181.3 279.8L179.8 279.5L178.3 279.1L176.9 278.7L175.4 278.2L173.9 277.4L172.4 277.7L171.0 278.7L169.7 279.5L168.3 280.2L167.0 280.8L165.7 281.4L164.3 281.9L163.0 282.3L161.6 282.7L160.3 283.1L159.0 283.3L157.6 283.6L156.3 283.8L155.0 283.9L153.6 284.0L152.3 284.1L150.9 284.1L149.5 284.1L148.1 284.1L146.9 283.9L145.5 283.8L144.2 283.5L142.8 283.2L141.3 282.7L140.3 283.3L139.6 284.4L138.6 285.5L137.8 286.3L136.8 287.2L136.0 288.0L134.9 288.9L134.1 289.6L133.0 290.3L132.1 291.0L131.0 291.7L130.0 292.2L128.9 292.8L127.8 293.4L127.0 293.8L125.8 294.3L124.6 294.7L123.4 295.2L122.3 295.5L121.0 295.9L119.6 296.3L118.2 296.6L116.7 296.9L115.2 297.0L113.8 297.3L113.2 298.9L112.5 300.4L111.7 301.7L111.0 303.0L110.1 304.2L109.2 305.4L108.3 306.6L107.3 307.7L106.3 308.8L105.3 309.8L104.3 310.8L103.2 311.7L102.0 312.6L101.0 313.4L99.8 314.2L98.6 314.9L97.5 315.6L96.2 316.3L94.9 316.9L93.7 317.5L92.4 318.0L91.1 318.5L89.7 318.9L88.2 319.3L86.7 319.5L86.0 320.8L85.6 322.2L85.1 323.6L84.7 324.9L84.1 326.2L83.7 327.3L83.1 328.5L82.6 329.5L82.0 330.6L81.5 331.6L80.8 332.6L80.2 333.5L79.5 334.6L78.8 335.5L77.9 336.5L77.2 337.4L76.3 338.2L75.4 339.2L74.4 340.1L73.4 341.1L72.3 342.0L71.2 342.9L69.9 343.9L68.7 344.8L67.3 345.7L65.7 346.4L65.0 347.7L64.9 349.4L64.7 350.9L64.4 352.5L64.1 353.9L63.8 355.4L63.4 356.7L62.9 358.1L62.5 359.4L62.0 360.7L61.5 361.9L60.9 363.1L60.4 364.3L59.7 365.5L59.1 366.5L58.5 367.5L57.8 368.5L57.1 369.4L56.5 370.3L55.7 371.3L55.0 372.1L54.2 372.9L53.4 373.8L52.5 374.6L51.6 375.5L50.5 376.3L49.2 377.1L49.7 378.5L50.2 379.9L50.5 381.2L50.8 382.5L51.0 383.9L51.2 385.2L51.4 386.4L51.5 387.7L51.5 388.9L51.6 390.1L51.7 391.0L51.7 392.1L51.7 392.9L51.6 394.0L51.6 395.0L51.5 395.8L51.3 396.9L51.2 397.8L51.0 398.9L50.7 400.0L50.4 401.2L50.1 402.1L49.7 403.3L49.3 404.5L48.8 405.8L48.3 407.1L47.6 408.4L47.6 409.7L48.7 410.8L49.6 411.9L50.4 413.0L51.1 414.2L51.8 415.3L52.5 416.5L53.2 417.9L53.8 419.4L54.4 421.0L54.9 422.4L55.3 423.6L55.6 424.4L55.8 424.9L56.0 425.5L56.1 426.2L56.3 426.9L56.4 427.6L56.5 428.4L56.7 429.3L56.9 430.6L57.1 431.7L57.4 433.1L57.7 434.6L57.9 436.0L58.0 437.5L58.1 439.0L58.0 440.7L58.7 441.9L60.2 442.7L61.5 443.5L62.7 444.4L63.8 445.2L64.9 446.1L66.0 447.1L67.0 448.1L68.0 449.0L69.1 450.2L70.0 451.2L70.9 452.2L71.7 453.3L72.5 454.4L73.2 455.5L74.0 456.6L74.7 457.8L75.3 459.0L76.0 460.3L76.6 461.6L77.2 462.8L77.7 464.2L78.2 465.5L78.7 467.0L79.1 468.4L79.5 469.9L79.9 471.5L80.1 473.2L80.6 474.6L82.3 475.2L83.8 476.0L85.2 476.7L86.5 477.6L87.8 478.5L89.0 479.4L90.2 480.3L91.4 481.3L92.5 482.2L93.6 483.3L94.6 484.3L95.6 485.3L96.6 486.4L97.5 487.5L98.4 488.7L99.2 489.8L100.0 491.0L100.8 492.3L101.5 493.5L102.3 494.8L102.9 496.1L103.5 497.4L104.1 498.8L104.6 500.1L105.2 501.6L105.6 503.1L106.0 504.6L106.3 506.2L107.0 507.4L108.7 507.9L110.1 508.5L111.6 509.2L112.9 509.8L114.1 510.5L115.5 511.3L116.6 512.0L117.9 512.9L119.0 513.7L120.0 514.4L121.2 515.4L122.1 516.2L123.1 517.0L124.2 518.1L125.1 518.9L126.1 520.0L127.0 521.0L127.8 522.0L128.8 523.1L129.6 524.2L130.4 525.3L131.2 526.6L132.0 527.7L132.7 528.9L133.4 530.3L134.1 531.6L134.6 532.9L135.3 534.5L135.6 536.1L137.0 536.6L138.7 536.9L140.2 537.2L141.6 537.6L143.1 538.2L144.5 538.6L145.8 539.1L147.2 539.7L148.4 540.3L149.6 540.9L151.0 541.6L152.1 542.2L153.2 542.8L154.5 543.7L155.6 544.4L156.6 545.1L157.8 546.0L158.8 546.8L159.8 547.6L160.9 548.6L161.8 549.5L162.7 550.4L163.8 551.5L164.6 552.5L165.5 553.5L166.3 554.5L167.3 555.8L168.0 556.9L168.7 558.1L169.6 559.5L170.2 560.9L171.3 561.5L173.1 561.5L174.5 561.5L175.9 561.6L177.3 561.7L178.8 562.0L180.1 562.2L181.4 562.5L182.9 562.9L184.1 563.2L185.4 563.5L186.8 564.0L188.0 564.4L189.2 564.9L190.5 565.5L191.7 566.0L192.8 566.5L194.2 567.2L195.3 567.8L196.4 568.5L197.7 569.3L198.7 570.0L199.8 570.8L200.8 571.6L202.1 572.5L203.1 573.4L204.1 574.3L205.3 575.3L206.3 576.3L207.3 577.4L208.2 578.5L209.3 579.9L210.5 580.5L212.0 580.1L213.5 579.9L215.2 579.8L216.6 579.7L217.9 579.6L219.2 579.5L220.4 579.5L221.6 579.5L223.1 579.6L224.2 579.6L225.2 579.6L226.2 579.7L227.1 579.7L228.1 579.8L229.1 580.0L230.1 580.1L231.1 580.3L232.2 580.5L233.6 580.8L234.7 581.1L235.8 581.5L237.0 581.8L238.1 582.2L239.3 582.6L240.6 583.1L241.8 583.6L243.1 584.2L244.4 584.7L245.8 585.4L247.2 586.1L248.7 587.0L250.1 588.1L251.8 587.6L253.7 586.8L255.5 586.2L257.5 585.8L259.2 585.5L260.9 585.2L262.4 584.9L263.6 584.6L264.7 584.4L265.5 584.1L266.7 583.9L268.7 583.8L270.8 583.8Z"/></clipPath>
<path d="M265.8 638.4L264.7 639.3L263.5 640.0L261.7 640.5L259.5 640.9L257.6 641.2L255.7 641.5L254.1 641.7L252.7 641.9L251.4 642.1L250.4 642.2L249.1 642.3L248.0 642.4L246.6 642.5L245.2 642.5L243.7 642.5L242.2 642.4L240.6 642.2L238.9 642.0L237.2 641.8L235.5 641.5L233.8 641.1L232.1 640.7L230.3 640.2L228.5 639.7L226.8 639.1L225.0 638.4L223.6 637.7L221.8 636.9L220.0 636.0L218.3 635.0L216.5 633.9L214.8 632.5L212.9 632.1L210.8 632.5L208.7 632.7L206.7 632.7L205.1 632.8L203.1 632.7L201.2 632.5L199.4 632.3L197.6 632.0L195.9 631.7L194.4 631.4L192.7 631.0L191.1 630.6L189.4 630.1L188.0 629.6L186.4 629.0L184.8 628.3L183.2 627.6L181.9 627.0L180.3 626.1L178.8 625.3L177.5 624.5L176.1 623.5L174.7 622.5L173.2 621.5L172.1 620.5L170.7 619.4L169.4 618.2L168.3 617.0L167.0 615.7L165.8 614.3L164.8 612.8L163.6 611.5L161.6 611.6L160.0 611.6L158.1 611.4L156.3 611.0L154.8 610.7L153.0 610.3L151.3 609.8L149.8 609.3L148.1 608.7L146.4 608.0L144.8 607.2L143.4 606.6L141.8 605.8L140.3 604.9L139.0 604.1L137.5 603.1L136.1 602.0L134.9 601.1L133.6 599.9L132.2 598.7L131.0 597.5L129.9 596.4L128.7 595.1L127.5 593.8L126.6 592.5L125.5 591.1L124.5 589.6L123.6 588.3L122.7 586.7L121.9 585.0L121.3 583.4L119.9 582.3L118.1 582.0L116.5 581.5L114.8 580.9L113.2 580.2L111.8 579.6L110.2 578.8L108.7 578.0L107.4 577.2L106.0 576.3L104.5 575.3L103.3 574.4L102.0 573.4L100.7 572.3L99.6 571.3L98.4 570.1L97.2 568.9L96.2 567.8L95.1 566.5L94.0 565.2L93.1 563.9L92.2 562.5L91.2 561.1L90.4 559.8L89.6 558.2L88.7 556.7L88.1 555.2L87.4 553.5L86.8 552.0L86.3 550.1L85.4 548.6L83.7 548.2L82.0 547.4L80.4 546.6L79.0 545.8L77.5 544.8L76.2 544.0L74.9 543.0L73.5 541.9L72.3 540.9L71.1 539.8L70.0 538.7L68.8 537.5L67.7 536.3L66.8 535.2L65.7 533.9L64.8 532.7L63.9 531.3L63.1 530.0L62.3 528.6L61.5 527.2L60.8 525.8L60.1 524.3L59.5 522.9L58.9 521.3L58.3 519.8L57.9 518.2L57.5 516.5L57.2 514.8L56.9 513.1L55.1 512.5L53.6 511.8L52.2 510.9L50.8 510.0L49.5 509.1L48.3 508.1L47.1 507.1L45.9 506.0L44.8 504.9L43.7 503.9L42.7 502.7L41.7 501.5L40.7 500.4L39.8 499.1L38.9 497.8L38.0 496.5L37.2 495.2L36.5 493.8L35.7 492.3L35.0 490.8L34.3 489.3L33.8 487.8L33.2 486.2L32.7 484.6L32.2 482.9L31.9 481.2L31.6 479.4L31.5 477.5L30.3 476.4L28.8 475.5L27.4 474.5L26.1 473.5L24.8 472.3L23.6 471.2L22.4 470.0L21.2 468.6L20.2 467.4L19.1 466.1L18.2 464.7L17.3 463.4L16.4 462.0L15.6 460.6L14.9 459.1L14.2 457.6L13.5 456.1L12.9 454.6L12.3 452.8L11.7 451.1L11.1 449.1L10.6 446.9L10.1 444.7L9.8 442.4L9.6 440.1L9.6 437.9L9.7 435.4L10.2 433.2L9.3 431.6L8.2 430.3L7.3 429.2L6.5 427.9L5.6 426.5L4.9 425.0L4.1 423.3L3.5 421.7L2.9 420.0L2.3 418.2L1.9 416.5L1.5 414.7L1.2 413.0L0.9 411.2L0.8 409.3L0.7 407.5L0.6 405.6L0.7 403.5L0.8 401.5L1.1 399.7L1.5 397.8L1.9 395.7L2.4 393.8L3.1 391.7L3.8 389.9L4.7 388.1L5.7 386.1L7.1 384.5L6.4 382.3L6.0 380.4L5.7 378.5L5.5 376.7L5.5 374.8L5.5 373.0L5.6 371.2L5.7 369.4L6.0 367.6L6.3 365.7L6.8 363.9L7.3 362.1L7.9 360.2L8.6 358.4L9.3 356.6L10.2 354.8L11.1 353.1L12.1 351.4L13.1 349.9L14.3 348.3L15.5 346.8L16.6 345.5L17.9 344.1L19.3 342.8L20.6 341.7L22.2 340.6L23.9 339.8L23.8 337.8L24.0 336.0L24.3 334.3L24.7 332.7L25.2 331.0L25.7 329.5L26.3 327.9L26.9 326.4L27.5 325.0L28.2 323.6L29.0 322.2L29.8 320.9L30.6 319.6L31.5 318.4L32.4 317.1L33.4 315.8L34.5 314.6L35.6 313.4L36.8 312.2L38.0 311.0L39.4 309.8L40.9 308.7L42.3 307.7L43.9 306.6L45.5 305.7L47.4 304.9L48.2 303.3L48.8 301.3L49.5 299.6L50.4 297.9L51.2 296.3L52.2 294.7L53.2 293.2L54.3 291.7L55.3 290.4L56.5 289.0L57.7 287.8L58.9 286.5L60.2 285.4L61.4 284.4L62.8 283.3L64.1 282.3L65.6 281.4L67.0 280.6L68.5 279.8L70.0 279.0L71.5 278.4L73.1 277.8L74.7 277.2L76.3 276.7L78.0 276.4L79.9 276.3L80.7 274.8L81.5 273.2L82.4 271.8L83.3 270.5L84.3 269.2L85.3 268.0L86.5 266.7L87.7 265.6L88.8 264.5L90.1 263.5L91.4 262.5L92.8 261.4L94.2 260.6L95.6 259.7L97.1 258.9L98.7 258.2L100.4 257.4L102.0 256.8L103.7 256.2L105.4 255.8L107.4 255.2L109.2 254.9L111.0 254.7L113.1 254.6L115.1 254.9L116.3 253.1L117.5 251.8L119.0 250.5L120.4 249.4L122.1 248.3L123.6 247.3L125.4 246.4L127.0 245.6L128.8 244.8L130.7 244.1L132.3 243.6L134.0 243.2L135.9 242.8L137.5 242.5L139.4 242.3L141.0 242.2L142.7 242.1L144.4 242.2L146.1 242.3L147.8 242.4L149.5 242.7L151.2 243.0L152.9 243.4L154.7 244.3L156.1 243.0L157.6 242.0L159.1 241.2L160.6 240.5L162.1 239.8L163.7 239.2L165.2 238.7L166.8 238.3L168.2 237.9L169.8 237.6L171.3 237.3L172.9 237.1L174.5 237.0L176.1 236.9L177.6 236.9L179.1 237.0L180.7 237.1L182.3 237.3L183.9 237.5L185.5 237.8L187.0 238.2L188.6 238.7L190.3 239.3L191.9 240.3L193.4 239.2L194.9 238.4L196.5 237.6L198.1 237.0L199.7 236.5L201.3 236.0L202.9 235.6L204.6 235.3L206.2 235.1L207.9 234.9L209.5 234.8L211.2 234.8L212.8 234.8L214.4 234.9L216.0 235.1L217.6 235.3L219.2 235.6L220.8 236.0L222.3 236.4L223.9 236.9L225.4 237.5L226.9 238.1L228.4 238.9L229.9 239.8L231.4 239.8L232.9 239.0L234.4 238.4L235.9 237.9L237.3 237.5L238.7 237.2L240.2 236.9L241.6 236.6L243.0 236.4L244.5 236.3L245.9 236.2L247.4 236.1L248.9 236.2L250.4 236.2L251.9 236.4L253.5 236.6L255.1 236.9L256.8 237.2L258.4 237.6L260.1 238.1L261.8 238.7L263.5 239.3L265.2 240.1L266.7 241.0L268.4 241.9L270.2 241.1L272.0 240.7L273.8 240.4L275.4 240.1L277.2 240.0L278.8 239.9L280.5 239.9L282.0 239.9L283.6 240.1L285.1 240.2L286.6 240.4L288.0 240.7L289.4 241.0L290.8 241.4L292.1 241.8L293.5 242.3L294.9 242.8L296.2 243.3L297.6 243.9L299.0 244.6L300.4 245.4L301.8 246.2L303.2 247.2L304.6 248.0L306.2 247.3L307.9 246.8L309.5 246.5L311.1 246.3L312.8 246.1L314.4 246.0L316.0 246.0L317.7 246.0L319.3 246.1L320.8 246.3L322.3 246.5L323.8 246.8L325.3 247.1L326.8 247.5L328.3 248.0L329.8 248.5L331.4 249.1L332.9 249.8L334.3 250.6L335.9 251.4L337.4 252.3L338.9 253.3L340.2 254.5L341.8 255.0L343.7 254.7L345.6 254.5L347.3 254.4L349.1 254.5L350.9 254.6L352.6 254.8L354.2 255.0L355.9 255.4L357.5 255.8L359.0 256.2L360.6 256.7L362.1 257.3L363.5 257.9L365.0 258.6L366.3 259.3L367.7 260.1L369.0 260.9L370.3 261.8L371.5 262.8L372.7 263.8L373.9 264.9L375.0 266.1L376.1 267.5L377.6 267.7L379.4 267.5L381.0 267.5L382.7 267.7L384.3 267.8L385.9 268.1L387.6 268.4L389.2 268.9L390.7 269.3L392.3 269.9L393.9 270.5L395.4 271.2L396.9 272.0L398.3 272.8L399.7 273.7L401.1 274.6L402.4 275.5L403.7 276.5L405.0 277.6L406.1 278.8L407.3 280.0L408.4 281.3L409.4 282.8L410.6 283.8L412.4 283.8L414.2 284.0L415.8 284.2L417.4 284.6L419.0 285.0L420.6 285.5L422.1 286.1L423.6 286.7L425.0 287.3L426.5 288.1L427.9 288.9L429.2 289.7L430.6 290.7L431.9 291.6L433.2 292.7L434.4 293.8L435.5 294.9L436.7 296.2L437.7 297.4L438.7 298.7L439.7 300.2L440.6 301.7L441.4 303.2L443.2 303.2L444.9 303.5L446.5 303.9L448.0 304.4L449.5 304.9L450.9 305.5L452.3 306.1L453.7 306.8L455.0 307.5L456.3 308.2L457.5 309.1L458.8 309.9L460.0 310.9L461.2 311.9L462.3 313.0L463.5 314.1L464.5 315.2L465.5 316.4L466.5 317.7L467.4 318.9L468.3 320.3L469.1 321.8L469.6 323.5L471.4 323.6L473.1 323.9L474.6 324.2L476.1 324.7L477.5 325.1L478.9 325.7L480.3 326.2L481.6 326.9L482.8 327.5L484.1 328.2L485.3 328.9L486.5 329.7L487.6 330.6L488.8 331.5L489.9 332.4L491.0 333.4L492.0 334.4L493.0 335.5L494.1 336.7L495.0 337.9L496.0 339.2L496.8 340.6L497.6 342.2L499.1 342.6L500.8 342.8L502.4 343.1L504.0 343.5L505.6 344.0L507.1 344.5L508.6 345.1L510.1 345.8L511.5 346.5L512.9 347.3L514.3 348.2L515.7 349.1L516.9 350.1L518.2 351.1L519.3 352.2L520.4 353.2L521.4 354.3L522.4 355.4L523.3 356.6L499.2 390.1L498.0 389.1L496.9 387.9L495.8 386.8L494.8 385.6L493.9 384.5L493.1 383.3L492.2 382.0L491.5 380.7L490.8 379.2L489.6 378.4L488.0 378.3L486.5 378.0L485.0 377.7L483.5 377.3L482.1 376.9L480.7 376.3L479.3 375.8L477.9 375.2L476.6 374.5L475.3 373.7L474.0 372.9L472.8 372.1L471.5 371.2L470.3 370.2L469.2 369.2L468.0 368.1L466.9 367.0L465.9 365.8L464.8 364.6L463.8 363.3L462.9 361.8L462.0 360.3L461.0 359.2L459.1 359.0L457.5 358.6L455.8 358.2L454.3 357.7L452.8 357.1L451.3 356.5L449.9 355.9L448.6 355.1L447.2 354.4L445.9 353.6L444.7 352.7L443.5 351.8L442.3 350.9L441.2 349.9L440.1 348.9L439.1 347.8L438.1 346.7L437.1 345.5L436.2 344.4L435.3 343.1L434.5 341.7L433.7 340.3L432.9 338.7L431.1 338.7L429.5 338.4L427.9 338.0L426.4 337.5L424.9 337.0L423.5 336.5L422.1 335.9L420.8 335.2L419.5 334.5L418.2 333.8L417.0 333.1L415.9 332.3L414.7 331.4L413.6 330.5L412.6 329.6L411.6 328.6L410.6 327.6L409.7 326.6L408.7 325.4L407.8 324.3L406.9 323.1L406.1 321.7L405.4 320.1L403.7 320.2L402.1 320.1L400.6 319.9L399.1 319.6L397.7 319.3L396.3 319.0L394.8 318.5L393.5 318.1L392.2 317.6L390.8 317.0L389.6 316.4L388.3 315.8L387.2 315.1L385.9 314.3L384.8 313.5L383.6 312.7L382.6 311.8L381.5 310.9L380.5 309.9L379.4 308.9L378.4 307.9L377.4 306.7L376.6 305.3L375.2 305.2L373.5 305.4L372.0 305.5L370.6 305.5L369.0 305.4L367.6 305.2L366.2 305.1L364.7 304.8L363.3 304.5L361.8 304.1L360.4 303.7L359.0 303.2L357.6 302.7L356.2 302.1L354.8 301.4L353.5 300.6L352.2 299.9L351.0 299.0L349.8 298.1L348.6 297.2L347.4 296.2L346.3 295.1L345.3 294.0L344.3 292.5L342.6 293.1L341.1 293.3L339.6 293.5L338.2 293.5L336.8 293.6L335.5 293.6L334.1 293.5L332.9 293.4L331.6 293.3L330.4 293.1L329.0 292.8L327.8 292.6L326.5 292.2L325.3 291.8L323.9 291.4L322.6 290.9L321.3 290.3L320.0 289.7L318.7 289.0L317.4 288.3L316.0 287.5L314.7 286.6L313.4 285.6L312.0 284.8L310.4 285.5L308.9 285.9L307.5 286.2L306.0 286.5L304.5 286.7L303.1 286.8L301.6 286.9L300.1 286.9L298.6 286.9L297.2 286.8L295.7 286.6L294.2 286.4L292.7 286.1L291.2 285.8L289.7 285.4L288.2 284.9L286.7 284.4L285.2 283.8L283.7 283.2L282.2 282.5L280.7 281.7L279.4 280.8L278.0 279.7L276.6 279.4L275.0 280.0L273.4 280.4L272.0 280.8L270.5 281.1L269.1 281.3L267.7 281.5L266.4 281.6L265.1 281.8L263.9 281.8L262.7 281.9L261.3 281.8L260.1 281.7L258.9 281.6L257.6 281.4L256.4 281.2L255.1 280.9L253.7 280.5L252.4 280.2L250.9 279.7L249.5 279.2L248.0 278.7L246.5 278.0L245.0 277.2L243.5 276.5L241.9 277.4L240.3 278.1L238.7 278.6L237.1 279.1L235.5 279.5L233.9 279.8L232.4 280.0L230.8 280.2L229.3 280.3L227.8 280.4L226.3 280.4L224.8 280.4L223.4 280.3L221.9 280.1L220.5 279.9L219.1 279.6L217.7 279.3L216.3 278.9L214.9 278.5L213.5 278.0L212.2 277.5L210.8 276.9L209.4 276.2L208.0 275.2L206.6 275.9L205.3 276.7L203.9 277.3L202.6 277.9L201.2 278.4L199.9 278.9L198.5 279.3L197.1 279.6L195.7 279.9L194.3 280.1L192.9 280.3L191.5 280.5L190.1 280.5L188.6 280.6L187.1 280.5L185.7 280.4L184.3 280.3L182.8 280.1L181.3 279.8L179.8 279.5L178.3 279.1L176.9 278.7L175.4 278.2L173.9 277.4L172.4 277.7L171.0 278.7L169.7 279.5L168.3 280.2L167.0 280.8L165.7 281.4L164.3 281.9L163.0 282.3L161.6 282.7L160.3 283.1L159.0 283.3L157.6 283.6L156.3 283.8L155.0 283.9L153.6 284.0L152.3 284.1L150.9 284.1L149.5 284.1L148.1 284.1L146.9 283.9L145.5 283.8L144.2 283.5L142.8 283.2L141.3 282.7L140.3 283.3L139.6 284.4L138.6 285.5L137.8 286.3L136.8 287.2L136.0 288.0L134.9 288.9L134.1 289.6L133.0 290.3L132.1 291.0L131.0 291.7L130.0 292.2L128.9 292.8L127.8 293.4L127.0 293.8L125.8 294.3L124.6 294.7L123.4 295.2L122.3 295.5L121.0 295.9L119.6 296.3L118.2 296.6L116.7 296.9L115.2 297.0L113.8 297.3L113.2 298.9L112.5 300.4L111.7 301.7L111.0 303.0L110.1 304.2L109.2 305.4L108.3 306.6L107.3 307.7L106.3 308.8L105.3 309.8L104.3 310.8L103.2 311.7L102.0 312.6L101.0 313.4L99.8 314.2L98.6 314.9L97.5 315.6L96.2 316.3L94.9 316.9L93.7 317.5L92.4 318.0L91.1 318.5L89.7 318.9L88.2 319.3L86.7 319.5L86.0 320.8L85.6 322.2L85.1 323.6L84.7 324.9L84.1 326.2L83.7 327.3L83.1 328.5L82.6 329.5L82.0 330.6L81.5 331.6L80.8 332.6L80.2 333.5L79.5 334.6L78.8 335.5L77.9 336.5L77.2 337.4L76.3 338.2L75.4 339.2L74.4 340.1L73.4 341.1L72.3 342.0L71.2 342.9L69.9 343.9L68.7 344.8L67.3 345.7L65.7 346.4L65.0 347.7L64.9 349.4L64.7 350.9L64.4 352.5L64.1 353.9L63.8 355.4L63.4 356.7L62.9 358.1L62.5 359.4L62.0 360.7L61.5 361.9L60.9 363.1L60.4 364.3L59.7 365.5L59.1 366.5L58.5 367.5L57.8 368.5L57.1 369.4L56.5 370.3L55.7 371.3L55.0 372.1L54.2 372.9L53.4 373.8L52.5 374.6L51.6 375.5L50.5 376.3L49.2 377.1L49.7 378.5L50.2 379.9L50.5 381.2L50.8 382.5L51.0 383.9L51.2 385.2L51.4 386.4L51.5 387.7L51.5 388.9L51.6 390.1L51.7 391.0L51.7 392.1L51.7 392.9L51.6 394.0L51.6 395.0L51.5 395.8L51.3 396.9L51.2 397.8L51.0 398.9L50.7 400.0L50.4 401.2L50.1 402.1L49.7 403.3L49.3 404.5L48.8 405.8L48.3 407.1L47.6 408.4L47.6 409.7L48.7 410.8L49.6 411.9L50.4 413.0L51.1 414.2L51.8 415.3L52.5 416.5L53.2 417.9L53.8 419.4L54.4 421.0L54.9 422.4L55.3 423.6L55.6 424.4L55.8 424.9L56.0 425.5L56.1 426.2L56.3 426.9L56.4 427.6L56.5 428.4L56.7 429.3L56.9 430.6L57.1 431.7L57.4 433.1L57.7 434.6L57.9 436.0L58.0 437.5L58.1 439.0L58.0 440.7L58.7 441.9L60.2 442.7L61.5 443.5L62.7 444.4L63.8 445.2L64.9 446.1L66.0 447.1L67.0 448.1L68.0 449.0L69.1 450.2L70.0 451.2L70.9 452.2L71.7 453.3L72.5 454.4L73.2 455.5L74.0 456.6L74.7 457.8L75.3 459.0L76.0 460.3L76.6 461.6L77.2 462.8L77.7 464.2L78.2 465.5L78.7 467.0L79.1 468.4L79.5 469.9L79.9 471.5L80.1 473.2L80.6 474.6L82.3 475.2L83.8 476.0L85.2 476.7L86.5 477.6L87.8 478.5L89.0 479.4L90.2 480.3L91.4 481.3L92.5 482.2L93.6 483.3L94.6 484.3L95.6 485.3L96.6 486.4L97.5 487.5L98.4 488.7L99.2 489.8L100.0 491.0L100.8 492.3L101.5 493.5L102.3 494.8L102.9 496.1L103.5 497.4L104.1 498.8L104.6 500.1L105.2 501.6L105.6 503.1L106.0 504.6L106.3 506.2L107.0 507.4L108.7 507.9L110.1 508.5L111.6 509.2L112.9 509.8L114.1 510.5L115.5 511.3L116.6 512.0L117.9 512.9L119.0 513.7L120.0 514.4L121.2 515.4L122.1 516.2L123.1 517.0L124.2 518.1L125.1 518.9L126.1 520.0L127.0 521.0L127.8 522.0L128.8 523.1L129.6 524.2L130.4 525.3L131.2 526.6L132.0 527.7L132.7 528.9L133.4 530.3L134.1 531.6L134.6 532.9L135.3 534.5L135.6 536.1L137.0 536.6L138.7 536.9L140.2 537.2L141.6 537.6L143.1 538.2L144.5 538.6L145.8 539.1L147.2 539.7L148.4 540.3L149.6 540.9L151.0 541.6L152.1 542.2L153.2 542.8L154.5 543.7L155.6 544.4L156.6 545.1L157.8 546.0L158.8 546.8L159.8 547.6L160.9 548.6L161.8 549.5L162.7 550.4L163.8 551.5L164.6 552.5L165.5 553.5L166.3 554.5L167.3 555.8L168.0 556.9L168.7 558.1L169.6 559.5L170.2 560.9L171.3 561.5L173.1 561.5L174.5 561.5L175.9 561.6L177.3 561.7L178.8 562.0L180.1 562.2L181.4 562.5L182.9 562.9L184.1 563.2L185.4 563.5L186.8 564.0L188.0 564.4L189.2 564.9L190.5 565.5L191.7 566.0L192.8 566.5L194.2 567.2L195.3 567.8L196.4 568.5L197.7 569.3L198.7 570.0L199.8 570.8L200.8 571.6L202.1 572.5L203.1 573.4L204.1 574.3L205.3 575.3L206.3 576.3L207.3 577.4L208.2 578.5L209.3 579.9L210.5 580.5L212.0 580.1L213.5 579.9L215.2 579.8L216.6 579.7L217.9 579.6L219.2 579.5L220.4 579.5L221.6 579.5L223.1 579.6L224.2 579.6L225.2 579.6L226.2 579.7L227.1 579.7L228.1 579.8L229.1 580.0L230.1 580.1L231.1 580.3L232.2 580.5L233.6 580.8L234.7 581.1L235.8 581.5L237.0 581.8L238.1 582.2L239.3 582.6L240.6 583.1L241.8 583.6L243.1 584.2L244.4 584.7L245.8 585.4L247.2 586.1L248.7 587.0L250.1 588.1L251.8 587.6L253.7 586.8L255.5 586.2L257.5 585.8L259.2 585.5L260.9 585.2L262.4 584.9L263.6 584.6L264.7 584.4L265.5 584.1L266.7 583.9L268.7 583.8L270.8 583.8Z" fill="#cf2511" stroke="#a8150a" stroke-width="0.8"/>
<g clip-path="url(#rc1)" fill="none" stroke-linecap="round" stroke-linejoin="round">
<path d="M265.8 638.4L264.7 639.3L263.5 640.0L261.7 640.5L259.5 640.9L257.6 641.2L255.7 641.5L254.1 641.7L252.7 641.9L251.4 642.1L250.4 642.2L249.1 642.3L248.0 642.4L246.6 642.5L245.2 642.5L243.7 642.5L242.2 642.4L240.6 642.2L238.9 642.0L237.2 641.8L235.5 641.5L233.8 641.1L232.1 640.7L230.3 640.2L228.5 639.7L226.8 639.1L225.0 638.4L223.6 637.7L221.8 636.9L220.0 636.0L218.3 635.0L216.5 633.9L214.8 632.5L212.9 632.1L210.8 632.5L208.7 632.7L206.7 632.7L205.1 632.8L203.1 632.7L201.2 632.5L199.4 632.3L197.6 632.0L195.9 631.7L194.4 631.4L192.7 631.0L191.1 630.6L189.4 630.1L188.0 629.6L186.4 629.0L184.8 628.3L183.2 627.6L181.9 627.0L180.3 626.1L178.8 625.3L177.5 624.5L176.1 623.5L174.7 622.5L173.2 621.5L172.1 620.5L170.7 619.4L169.4 618.2L168.3 617.0L167.0 615.7L165.8 614.3L164.8 612.8L163.6 611.5L161.6 611.6L160.0 611.6L158.1 611.4L156.3 611.0L154.8 610.7L153.0 610.3L151.3 609.8L149.8 609.3L148.1 608.7L146.4 608.0L144.8 607.2L143.4 606.6L141.8 605.8L140.3 604.9L139.0 604.1L137.5 603.1L136.1 602.0L134.9 601.1L133.6 599.9L132.2 598.7L131.0 597.5L129.9 596.4L128.7 595.1L127.5 593.8L126.6 592.5L125.5 591.1L124.5 589.6L123.6 588.3L122.7 586.7L121.9 585.0L121.3 583.4L119.9 582.3L118.1 582.0L116.5 581.5L114.8 580.9L113.2 580.2L111.8 579.6L110.2 578.8L108.7 578.0L107.4 577.2L106.0 576.3L104.5 575.3L103.3 574.4L102.0 573.4L100.7 572.3L99.6 571.3L98.4 570.1L97.2 568.9L96.2 567.8L95.1 566.5L94.0 565.2L93.1 563.9L92.2 562.5L91.2 561.1L90.4 559.8L89.6 558.2L88.7 556.7L88.1 555.2L87.4 553.5L86.8 552.0L86.3 550.1L85.4 548.6L83.7 548.2L82.0 547.4L80.4 546.6L79.0 545.8L77.5 544.8L76.2 544.0L74.9 543.0L73.5 541.9L72.3 540.9L71.1 539.8L70.0 538.7L68.8 537.5L67.7 536.3L66.8 535.2L65.7 533.9L64.8 532.7L63.9 531.3L63.1 530.0L62.3 528.6L61.5 527.2L60.8 525.8L60.1 524.3L59.5 522.9L58.9 521.3L58.3 519.8L57.9 518.2L57.5 516.5L57.2 514.8L56.9 513.1L55.1 512.5L53.6 511.8L52.2 510.9L50.8 510.0L49.5 509.1L48.3 508.1L47.1 507.1L45.9 506.0L44.8 504.9L43.7 503.9L42.7 502.7L41.7 501.5L40.7 500.4L39.8 499.1L38.9 497.8L38.0 496.5L37.2 495.2L36.5 493.8L35.7 492.3L35.0 490.8L34.3 489.3L33.8 487.8L33.2 486.2L32.7 484.6L32.2 482.9L31.9 481.2L31.6 479.4L31.5 477.5L30.3 476.4L28.8 475.5L27.4 474.5L26.1 473.5L24.8 472.3L23.6 471.2L22.4 470.0L21.2 468.6L20.2 467.4L19.1 466.1L18.2 464.7L17.3 463.4L16.4 462.0L15.6 460.6L14.9 459.1L14.2 457.6L13.5 456.1L12.9 454.6L12.3 452.8L11.7 451.1L11.1 449.1L10.6 446.9L10.1 444.7L9.8 442.4L9.6 440.1L9.6 437.9L9.7 435.4L10.2 433.2L9.3 431.6L8.2 430.3L7.3 429.2L6.5 427.9L5.6 426.5L4.9 425.0L4.1 423.3L3.5 421.7L2.9 420.0L2.3 418.2L1.9 416.5L1.5 414.7L1.2 413.0L0.9 411.2L0.8 409.3L0.7 407.5L0.6 405.6L0.7 403.5L0.8 401.5L1.1 399.7L1.5 397.8L1.9 395.7L2.4 393.8L3.1 391.7L3.8 389.9L4.7 388.1L5.7 386.1L7.1 384.5L6.4 382.3L6.0 380.4L5.7 378.5L5.5 376.7L5.5 374.8L5.5 373.0L5.6 371.2L5.7 369.4L6.0 367.6L6.3 365.7L6.8 363.9L7.3 362.1L7.9 360.2L8.6 358.4L9.3 356.6L10.2 354.8L11.1 353.1L12.1 351.4L13.1 349.9L14.3 348.3L15.5 346.8L16.6 345.5L17.9 344.1L19.3 342.8L20.6 341.7L22.2 340.6L23.9 339.8L23.8 337.8L24.0 336.0L24.3 334.3L24.7 332.7L25.2 331.0L25.7 329.5L26.3 327.9L26.9 326.4L27.5 325.0L28.2 323.6L29.0 322.2L29.8 320.9L30.6 319.6L31.5 318.4L32.4 317.1L33.4 315.8L34.5 314.6L35.6 313.4L36.8 312.2L38.0 311.0L39.4 309.8L40.9 308.7L42.3 307.7L43.9 306.6L45.5 305.7L47.4 304.9L48.2 303.3L48.8 301.3L49.5 299.6L50.4 297.9L51.2 296.3L52.2 294.7L53.2 293.2L54.3 291.7L55.3 290.4L56.5 289.0L57.7 287.8L58.9 286.5L60.2 285.4L61.4 284.4L62.8 283.3L64.1 282.3L65.6 281.4L67.0 280.6L68.5 279.8L70.0 279.0L71.5 278.4L73.1 277.8L74.7 277.2L76.3 276.7L78.0 276.4L79.9 276.3L80.7 274.8L81.5 273.2L82.4 271.8L83.3 270.5L84.3 269.2L85.3 268.0L86.5 266.7L87.7 265.6L88.8 264.5L90.1 263.5L91.4 262.5L92.8 261.4L94.2 260.6L95.6 259.7L97.1 258.9L98.7 258.2L100.4 257.4L102.0 256.8L103.7 256.2L105.4 255.8L107.4 255.2L109.2 254.9L111.0 254.7L113.1 254.6L115.1 254.9L116.3 253.1L117.5 251.8L119.0 250.5L120.4 249.4L122.1 248.3L123.6 247.3L125.4 246.4L127.0 245.6L128.8 244.8L130.7 244.1L132.3 243.6L134.0 243.2L135.9 242.8L137.5 242.5L139.4 242.3L141.0 242.2L142.7 242.1L144.4 242.2L146.1 242.3L147.8 242.4L149.5 242.7L151.2 243.0L152.9 243.4L154.7 244.3L156.1 243.0L157.6 242.0L159.1 241.2L160.6 240.5L162.1 239.8L163.7 239.2L165.2 238.7L166.8 238.3L168.2 237.9L169.8 237.6L171.3 237.3L172.9 237.1L174.5 237.0L176.1 236.9L177.6 236.9L179.1 237.0L180.7 237.1L182.3 237.3L183.9 237.5L185.5 237.8L187.0 238.2L188.6 238.7L190.3 239.3L191.9 240.3L193.4 239.2L194.9 238.4L196.5 237.6L198.1 237.0L199.7 236.5L201.3 236.0L202.9 235.6L204.6 235.3L206.2 235.1L207.9 234.9L209.5 234.8L211.2 234.8L212.8 234.8L214.4 234.9L216.0 235.1L217.6 235.3L219.2 235.6L220.8 236.0L222.3 236.4L223.9 236.9L225.4 237.5L226.9 238.1L228.4 238.9L229.9 239.8L231.4 239.8L232.9 239.0L234.4 238.4L235.9 237.9L237.3 237.5L238.7 237.2L240.2 236.9L241.6 236.6L243.0 236.4L244.5 236.3L245.9 236.2L247.4 236.1L248.9 236.2L250.4 236.2L251.9 236.4L253.5 236.6L255.1 236.9L256.8 237.2L258.4 237.6L260.1 238.1L261.8 238.7L263.5 239.3L265.2 240.1L266.7 241.0L268.4 241.9L270.2 241.1L272.0 240.7L273.8 240.4L275.4 240.1L277.2 240.0L278.8 239.9L280.5 239.9L282.0 239.9L283.6 240.1L285.1 240.2L286.6 240.4L288.0 240.7L289.4 241.0L290.8 241.4L292.1 241.8L293.5 242.3L294.9 242.8L296.2 243.3L297.6 243.9L299.0 244.6L300.4 245.4L301.8 246.2L303.2 247.2L304.6 248.0L306.2 247.3L307.9 246.8L309.5 246.5L311.1 246.3L312.8 246.1L314.4 246.0L316.0 246.0L317.7 246.0L319.3 246.1L320.8 246.3L322.3 246.5L323.8 246.8L325.3 247.1L326.8 247.5L328.3 248.0L329.8 248.5L331.4 249.1L332.9 249.8L334.3 250.6L335.9 251.4L337.4 252.3L338.9 253.3L340.2 254.5L341.8 255.0L343.7 254.7L345.6 254.5L347.3 254.4L349.1 254.5L350.9 254.6L352.6 254.8L354.2 255.0L355.9 255.4L357.5 255.8L359.0 256.2L360.6 256.7L362.1 257.3L363.5 257.9L365.0 258.6L366.3 259.3L367.7 260.1L369.0 260.9L370.3 261.8L371.5 262.8L372.7 263.8L373.9 264.9L375.0 266.1L376.1 267.5L377.6 267.7L379.4 267.5L381.0 267.5L382.7 267.7L384.3 267.8L385.9 268.1L387.6 268.4L389.2 268.9L390.7 269.3L392.3 269.9L393.9 270.5L395.4 271.2L396.9 272.0L398.3 272.8L399.7 273.7L401.1 274.6L402.4 275.5L403.7 276.5L405.0 277.6L406.1 278.8L407.3 280.0L408.4 281.3L409.4 282.8L410.6 283.8L412.4 283.8L414.2 284.0L415.8 284.2L417.4 284.6L419.0 285.0L420.6 285.5L422.1 286.1L423.6 286.7L425.0 287.3L426.5 288.1L427.9 288.9L429.2 289.7L430.6 290.7L431.9 291.6L433.2 292.7L434.4 293.8L435.5 294.9L436.7 296.2L437.7 297.4L438.7 298.7L439.7 300.2L440.6 301.7L441.4 303.2L443.2 303.2L444.9 303.5L446.5 303.9L448.0 304.4L449.5 304.9L450.9 305.5L452.3 306.1L453.7 306.8L455.0 307.5L456.3 308.2L457.5 309.1L458.8 309.9L460.0 310.9L461.2 311.9L462.3 313.0L463.5 314.1L464.5 315.2L465.5 316.4L466.5 317.7L467.4 318.9L468.3 320.3L469.1 321.8L469.6 323.5L471.4 323.6L473.1 323.9L474.6 324.2L476.1 324.7L477.5 325.1L478.9 325.7L480.3 326.2L481.6 326.9L482.8 327.5L484.1 328.2L485.3 328.9L486.5 329.7L487.6 330.6L488.8 331.5L489.9 332.4L491.0 333.4L492.0 334.4L493.0 335.5L494.1 336.7L495.0 337.9L496.0 339.2L496.8 340.6L497.6 342.2L499.1 342.6L500.8 342.8L502.4 343.1L504.0 343.5L505.6 344.0L507.1 344.5L508.6 345.1L510.1 345.8L511.5 346.5L512.9 347.3L514.3 348.2L515.7 349.1L516.9 350.1L518.2 351.1L519.3 352.2L520.4 353.2L521.4 354.3L522.4 355.4L523.3 356.6" stroke="#8a0f06" stroke-opacity="0.30" stroke-width="7.2" filter="url(#b1)"/>
<path d="M270.8 583.8L268.7 583.8L266.7 583.9L265.5 584.1L264.7 584.4L263.6 584.6L262.4 584.9L260.9 585.2L259.2 585.5L257.5 585.8L255.5 586.2L253.7 586.8L251.8 587.6L250.1 588.1L248.7 587.0L247.2 586.1L245.8 585.4L244.4 584.7L243.1 584.2L241.8 583.6L240.6 583.1L239.3 582.6L238.1 582.2L237.0 581.8L235.8 581.5L234.7 581.1L233.6 580.8L232.2 580.5L231.1 580.3L230.1 580.1L229.1 580.0L228.1 579.8L227.1 579.7L226.2 579.7L225.2 579.6L224.2 579.6L223.1 579.6L221.6 579.5L220.4 579.5L219.2 579.5L217.9 579.6L216.6 579.7L215.2 579.8L213.5 579.9L212.0 580.1L210.5 580.5L209.3 579.9L208.2 578.5L207.3 577.4L206.3 576.3L205.3 575.3L204.1 574.3L203.1 573.4L202.1 572.5L200.8 571.6L199.8 570.8L198.7 570.0L197.7 569.3L196.4 568.5L195.3 567.8L194.2 567.2L192.8 566.5L191.7 566.0L190.5 565.5L189.2 564.9L188.0 564.4L186.8 564.0L185.4 563.5L184.1 563.2L182.9 562.9L181.4 562.5L180.1 562.2L178.8 562.0L177.3 561.7L175.9 561.6L174.5 561.5L173.1 561.5L171.3 561.5L170.2 560.9L169.6 559.5L168.7 558.1L168.0 556.9L167.3 555.8L166.3 554.5L165.5 553.5L164.6 552.5L163.8 551.5L162.7 550.4L161.8 549.5L160.9 548.6L159.8 547.6L158.8 546.8L157.8 546.0L156.6 545.1L155.6 544.4L154.5 543.7L153.2 542.8L152.1 542.2L151.0 541.6L149.6 540.9L148.4 540.3L147.2 539.7L145.8 539.1L144.5 538.6L143.1 538.2L141.6 537.6L140.2 537.2L138.7 536.9L137.0 536.6L135.6 536.1L135.3 534.5L134.6 532.9L134.1 531.6L133.4 530.3L132.7 528.9L132.0 527.7L131.2 526.6L130.4 525.3L129.6 524.2L128.8 523.1L127.8 522.0L127.0 521.0L126.1 520.0L125.1 518.9L124.2 518.1L123.1 517.0L122.1 516.2L121.2 515.4L120.0 514.4L119.0 513.7L117.9 512.9L116.6 512.0L115.5 511.3L114.1 510.5L112.9 509.8L111.6 509.2L110.1 508.5L108.7 507.9L107.0 507.4L106.3 506.2L106.0 504.6L105.6 503.1L105.2 501.6L104.6 500.1L104.1 498.8L103.5 497.4L102.9 496.1L102.3 494.8L101.5 493.5L100.8 492.3L100.0 491.0L99.2 489.8L98.4 488.7L97.5 487.5L96.6 486.4L95.6 485.3L94.6 484.3L93.6 483.3L92.5 482.2L91.4 481.3L90.2 480.3L89.0 479.4L87.8 478.5L86.5 477.6L85.2 476.7L83.8 476.0L82.3 475.2L80.6 474.6L80.1 473.2L79.9 471.5L79.5 469.9L79.1 468.4L78.7 467.0L78.2 465.5L77.7 464.2L77.2 462.8L76.6 461.6L76.0 460.3L75.3 459.0L74.7 457.8L74.0 456.6L73.2 455.5L72.5 454.4L71.7 453.3L70.9 452.2L70.0 451.2L69.1 450.2L68.0 449.0L67.0 448.1L66.0 447.1L64.9 446.1L63.8 445.2L62.7 444.4L61.5 443.5L60.2 442.7L58.7 441.9L58.0 440.7L58.1 439.0L58.0 437.5L57.9 436.0L57.7 434.6L57.4 433.1L57.1 431.7L56.9 430.6L56.7 429.3L56.5 428.4L56.4 427.6L56.3 426.9L56.1 426.2L56.0 425.5L55.8 424.9L55.6 424.4L55.3 423.6L54.9 422.4L54.4 421.0L53.8 419.4L53.2 417.9L52.5 416.5L51.8 415.3L51.1 414.2L50.4 413.0L49.6 411.9L48.7 410.8L47.6 409.7L47.6 408.4L48.3 407.1L48.8 405.8L49.3 404.5L49.7 403.3L50.1 402.1L50.4 401.2L50.7 400.0L51.0 398.9L51.2 397.8L51.3 396.9L51.5 395.8L51.6 395.0L51.6 394.0L51.7 392.9L51.7 392.1L51.7 391.0L51.6 390.1L51.5 388.9L51.5 387.7L51.4 386.4L51.2 385.2L51.0 383.9L50.8 382.5L50.5 381.2L50.2 379.9L49.7 378.5L49.2 377.1L50.5 376.3L51.6 375.5L52.5 374.6L53.4 373.8L54.2 372.9L55.0 372.1L55.7 371.3L56.5 370.3L57.1 369.4L57.8 368.5L58.5 367.5L59.1 366.5L59.7 365.5L60.4 364.3L60.9 363.1L61.5 361.9L62.0 360.7L62.5 359.4L62.9 358.1L63.4 356.7L63.8 355.4L64.1 353.9L64.4 352.5L64.7 350.9L64.9 349.4L65.0 347.7L65.7 346.4L67.3 345.7L68.7 344.8L69.9 343.9L71.2 342.9L72.3 342.0L73.4 341.1L74.4 340.1L75.4 339.2L76.3 338.2L77.2 337.4L77.9 336.5L78.8 335.5L79.5 334.6L80.2 333.5L80.8 332.6L81.5 331.6L82.0 330.6L82.6 329.5L83.1 328.5L83.7 327.3L84.1 326.2L84.7 324.9L85.1 323.6L85.6 322.2L86.0 320.8L86.7 319.5L88.2 319.3L89.7 318.9L91.1 318.5L92.4 318.0L93.7 317.5L94.9 316.9L96.2 316.3L97.5 315.6L98.6 314.9L99.8 314.2L101.0 313.4L102.0 312.6L103.2 311.7L104.3 310.8L105.3 309.8L106.3 308.8L107.3 307.7L108.3 306.6L109.2 305.4L110.1 304.2L111.0 303.0L111.7 301.7L112.5 300.4L113.2 298.9L113.8 297.3L115.2 297.0L116.7 296.9L118.2 296.6L119.6 296.3L121.0 295.9L122.3 295.5L123.4 295.2L124.6 294.7L125.8 294.3L127.0 293.8L127.8 293.4L128.9 292.8L130.0 292.2L131.0 291.7L132.1 291.0L133.0 290.3L134.1 289.6L134.9 288.9L136.0 288.0L136.8 287.2L137.8 286.3L138.6 285.5L139.6 284.4L140.3 283.3L141.3 282.7L142.8 283.2L144.2 283.5L145.5 283.8L146.9 283.9L148.1 284.1L149.5 284.1L150.9 284.1L152.3 284.1L153.6 284.0L155.0 283.9L156.3 283.8L157.6 283.6L159.0 283.3L160.3 283.1L161.6 282.7L163.0 282.3L164.3 281.9L165.7 281.4L167.0 280.8L168.3 280.2L169.7 279.5L171.0 278.7L172.4 277.7L173.9 277.4L175.4 278.2L176.9 278.7L178.3 279.1L179.8 279.5L181.3 279.8L182.8 280.1L184.3 280.3L185.7 280.4L187.1 280.5L188.6 280.6L190.1 280.5L191.5 280.5L192.9 280.3L194.3 280.1L195.7 279.9L197.1 279.6L198.5 279.3L199.9 278.9L201.2 278.4L202.6 277.9L203.9 277.3L205.3 276.7L206.6 275.9L208.0 275.2L209.4 276.2L210.8 276.9L212.2 277.5L213.5 278.0L214.9 278.5L216.3 278.9L217.7 279.3L219.1 279.6L220.5 279.9L221.9 280.1L223.4 280.3L224.8 280.4L226.3 280.4L227.8 280.4L229.3 280.3L230.8 280.2L232.4 280.0L233.9 279.8L235.5 279.5L237.1 279.1L238.7 278.6L240.3 278.1L241.9 277.4L243.5 276.5L245.0 277.2L246.5 278.0L248.0 278.7L249.5 279.2L250.9 279.7L252.4 280.2L253.7 280.5L255.1 280.9L256.4 281.2L257.6 281.4L258.9 281.6L260.1 281.7L261.3 281.8L262.7 281.9L263.9 281.8L265.1 281.8L266.4 281.6L267.7 281.5L269.1 281.3L270.5 281.1L272.0 280.8L273.4 280.4L275.0 280.0L276.6 279.4L278.0 279.7L279.4 280.8L280.7 281.7L282.2 282.5L283.7 283.2L285.2 283.8L286.7 284.4L288.2 284.9L289.7 285.4L291.2 285.8L292.7 286.1L294.2 286.4L295.7 286.6L297.2 286.8L298.6 286.9L300.1 286.9L301.6 286.9L303.1 286.8L304.5 286.7L306.0 286.5L307.5 286.2L308.9 285.9L310.4 285.5L312.0 284.8L313.4 285.6L314.7 286.6L316.0 287.5L317.4 288.3L318.7 289.0L320.0 289.7L321.3 290.3L322.6 290.9L323.9 291.4L325.3 291.8L326.5 292.2L327.8 292.6L329.0 292.8L330.4 293.1L331.6 293.3L332.9 293.4L334.1 293.5L335.5 293.6L336.8 293.6L338.2 293.5L339.6 293.5L341.1 293.3L342.6 293.1L344.3 292.5L345.3 294.0L346.3 295.1L347.4 296.2L348.6 297.2L349.8 298.1L351.0 299.0L352.2 299.9L353.5 300.6L354.8 301.4L356.2 302.1L357.6 302.7L359.0 303.2L360.4 303.7L361.8 304.1L363.3 304.5L364.7 304.8L366.2 305.1L367.6 305.2L369.0 305.4L370.6 305.5L372.0 305.5L373.5 305.4L375.2 305.2L376.6 305.3L377.4 306.7L378.4 307.9L379.4 308.9L380.5 309.9L381.5 310.9L382.6 311.8L383.6 312.7L384.8 313.5L385.9 314.3L387.2 315.1L388.3 315.8L389.6 316.4L390.8 317.0L392.2 317.6L393.5 318.1L394.8 318.5L396.3 319.0L397.7 319.3L399.1 319.6L400.6 319.9L402.1 320.1L403.7 320.2L405.4 320.1L406.1 321.7L406.9 323.1L407.8 324.3L408.7 325.4L409.7 326.6L410.6 327.6L411.6 328.6L412.6 329.6L413.6 330.5L414.7 331.4L415.9 332.3L417.0 333.1L418.2 333.8L419.5 334.5L420.8 335.2L422.1 335.9L423.5 336.5L424.9 337.0L426.4 337.5L427.9 338.0L429.5 338.4L431.1 338.7L432.9 338.7L433.7 340.3L434.5 341.7L435.3 343.1L436.2 344.4L437.1 345.5L438.1 346.7L439.1 347.8L440.1 348.9L441.2 349.9L442.3 350.9L443.5 351.8L444.7 352.7L445.9 353.6L447.2 354.4L448.6 355.1L449.9 355.9L451.3 356.5L452.8 357.1L454.3 357.7L455.8 358.2L457.5 358.6L459.1 359.0L461.0 359.2L462.0 360.3L462.9 361.8L463.8 363.3L464.8 364.6L465.9 365.8L466.9 367.0L468.0 368.1L469.2 369.2L470.3 370.2L471.5 371.2L472.8 372.1L474.0 372.9L475.3 373.7L476.6 374.5L477.9 375.2L479.3 375.8L480.7 376.3L482.1 376.9L483.5 377.3L485.0 377.7L486.5 378.0L488.0 378.3L489.6 378.4L490.8 379.2L491.5 380.7L492.2 382.0L493.1 383.3L493.9 384.5L494.8 385.6L495.8 386.8L496.9 387.9L498.0 389.1L499.2 390.1" stroke="#8a0f06" stroke-opacity="0.38" stroke-width="8.2" filter="url(#b1)"/>
<path d="M276.6 597.9L269.3 594.8L262.6 592.4" stroke="#e2361f" stroke-opacity="0.45" stroke-width="11.7"/>
<path d="M275.9 599.7L268.6 596.6L261.9 594.2" stroke="#ec5038" stroke-opacity="0.4" stroke-width="5.2"/>
<path d="M274.9 600.1L270.4 595.4L265.2 591.3L261.8 587.9L256.6 584.7" stroke="#a01208" stroke-opacity="0.38" stroke-width="18.1"/>
<path d="M274.9 600.1L270.4 595.4L265.2 591.3L261.8 587.9L256.6 584.7" stroke="#a01208" stroke-opacity="0.50" stroke-width="9.7"/>
<path d="M276.9 622.3L269.8 618.0L262.7 613.6L255.8 609.1L248.4 604.8L241.3 600.9L234.8 597.2L228.8 593.7L223.3 590.2L218.1 586.8" stroke="#e2361f" stroke-opacity="0.45" stroke-width="11.7"/>
<path d="M275.8 623.9L268.8 619.6L261.7 615.3L254.7 610.7L247.4 606.5L240.4 602.6L233.8 598.9L227.8 595.3L222.3 591.8L217.0 588.4" stroke="#ec5038" stroke-opacity="0.4" stroke-width="5.2"/>
<path d="M271.0 642.5L266.3 639.5L262.2 636.1L256.6 631.8L252.4 627.1L248.3 622.1L243.7 616.9L239.1 611.6L234.7 606.2L230.6 600.9L227.0 595.7L223.8 590.8L221.1 586.4L218.4 582.3L215.3 578.6" stroke="#a01208" stroke-opacity="0.38" stroke-width="18.0"/>
<path d="M271.0 642.5L266.3 639.5L262.2 636.1L256.6 631.8L252.4 627.1L248.3 622.1L243.7 616.9L239.1 611.6L234.7 606.2L230.6 600.9L227.0 595.7L223.8 590.8L221.1 586.4L218.4 582.3L215.3 578.6" stroke="#a01208" stroke-opacity="0.50" stroke-width="9.6"/>
<path d="M264.0 634.9L255.5 632.2L249.1 629.1L242.1 625.9L234.6 622.1L227.2 617.7L220.2 612.8L214.0 607.3L208.4 601.4L203.0 595.6L197.7 589.8L192.6 584.2L187.5 578.8L182.5 573.8L177.6 569.1" stroke="#e2361f" stroke-opacity="0.45" stroke-width="11.6"/>
<path d="M263.4 636.7L254.8 634.0L248.3 630.9L241.2 627.6L233.7 623.8L226.2 619.3L219.0 614.3L212.7 608.6L207.0 602.7L201.5 596.9L196.3 591.1L191.2 585.5L186.1 580.2L181.1 575.1L176.3 570.5" stroke="#ec5038" stroke-opacity="0.4" stroke-width="5.1"/>
<path d="M219.5 637.1L214.0 633.3L208.8 628.7L204.4 623.4L200.8 617.7L197.7 611.7L194.8 605.4L192.2 599.0L189.8 592.6L187.5 586.3L185.3 580.3L183.1 574.6L180.8 569.4L178.5 564.6L176.0 560.4" stroke="#a01208" stroke-opacity="0.38" stroke-width="17.7"/>
<path d="M219.5 637.1L214.0 633.3L208.8 628.7L204.4 623.4L200.8 617.7L197.7 611.7L194.8 605.4L192.2 599.0L189.8 592.6L187.5 586.3L185.3 580.3L183.1 574.6L180.8 569.4L178.5 564.6L176.0 560.4" stroke="#a01208" stroke-opacity="0.50" stroke-width="9.5"/>
<path d="M210.9 628.0L203.1 623.5L196.7 618.6L190.5 613.2L184.8 607.3L179.4 601.1L174.4 594.7L169.6 588.1L165.2 581.4L161.1 574.7L157.1 568.2L153.3 561.9L149.4 555.9L145.5 550.2L141.5 544.8" stroke="#e2361f" stroke-opacity="0.45" stroke-width="11.4"/>
<path d="M209.9 629.6L202.1 625.1L195.5 620.1L189.2 614.6L183.4 608.6L177.9 602.3L172.9 595.8L168.1 589.1L163.6 582.4L159.5 575.7L155.5 569.2L151.7 562.9L147.9 557.0L144.0 551.3L140.0 545.9" stroke="#ec5038" stroke-opacity="0.4" stroke-width="5.1"/>
<path d="M166.9 617.4L163.3 612.8L160.2 607.7L157.4 602.0L155.0 595.9L152.9 589.4L151.4 582.7L150.1 576.0L149.0 569.4L148.0 563.0L147.1 556.9L146.0 551.1L144.8 545.8L143.3 540.9L141.5 536.4" stroke="#a01208" stroke-opacity="0.38" stroke-width="17.3"/>
<path d="M166.9 617.4L163.3 612.8L160.2 607.7L157.4 602.0L155.0 595.9L152.9 589.4L151.4 582.7L150.1 576.0L149.0 569.4L148.0 563.0L147.1 556.9L146.0 551.1L144.8 545.8L143.3 540.9L141.5 536.4" stroke="#a01208" stroke-opacity="0.50" stroke-width="9.2"/>
<path d="M162.2 607.3L156.2 601.8L150.7 595.9L145.8 589.4L141.3 582.6L137.4 575.6L133.9 568.5L130.7 561.3L127.7 554.2L124.9 547.2L122.1 540.5L119.3 533.9L116.5 527.7L113.7 521.8L110.7 516.2" stroke="#e2361f" stroke-opacity="0.45" stroke-width="11.1"/>
<path d="M161.0 608.7L154.9 603.1L149.3 597.1L144.3 590.5L139.8 583.6L135.8 576.5L132.2 569.3L129.0 562.1L126.0 554.9L123.2 547.9L120.4 541.2L117.6 534.7L114.8 528.5L112.0 522.7L109.1 517.0" stroke="#ec5038" stroke-opacity="0.4" stroke-width="4.9"/>
<path d="M122.4 588.6L120.0 583.6L118.1 578.1L116.6 572.2L115.6 566.0L114.9 559.7L114.5 553.2L114.3 546.8L114.3 540.4L114.2 534.2L114.1 528.3L114.0 522.7L113.5 517.4L112.9 512.5L111.8 508.0" stroke="#a01208" stroke-opacity="0.38" stroke-width="16.4"/>
<path d="M122.4 588.6L120.0 583.6L118.1 578.1L116.6 572.2L115.6 566.0L114.9 559.7L114.5 553.2L114.3 546.8L114.3 540.4L114.2 534.2L114.1 528.3L114.0 522.7L113.5 517.4L112.9 512.5L111.8 508.0" stroke="#a01208" stroke-opacity="0.50" stroke-width="8.8"/>
<path d="M120.0 578.1L115.6 571.9L111.7 565.4L108.2 558.7L105.2 551.7L102.5 544.6L100.2 537.4L98.1 530.3L96.3 523.1L94.5 516.1L92.7 509.1L90.9 502.4L88.8 496.0L86.5 489.7L84.0 483.7" stroke="#e2361f" stroke-opacity="0.45" stroke-width="10.5"/>
<path d="M118.6 579.1L114.2 572.9L110.2 566.3L106.7 559.4L103.6 552.4L100.9 545.2L98.5 538.0L96.4 530.7L94.6 523.5L92.8 516.5L91.0 509.6L89.2 502.9L87.2 496.5L84.9 490.3L82.4 484.4" stroke="#ec5038" stroke-opacity="0.4" stroke-width="4.7"/>
<path d="M86.6 554.9L84.9 549.8L83.9 544.4L83.3 538.7L83.1 532.7L83.3 526.6L83.8 520.4L84.5 514.2L85.2 508.0L85.9 502.0L86.5 496.2L86.8 490.6L86.8 485.3L86.4 480.3L85.6 475.6" stroke="#a01208" stroke-opacity="0.38" stroke-width="15.9"/>
<path d="M86.6 554.9L84.9 549.8L83.9 544.4L83.3 538.7L83.1 532.7L83.3 526.6L83.8 520.4L84.5 514.2L85.2 508.0L85.9 502.0L86.5 496.2L86.8 490.6L86.8 485.3L86.4 480.3L85.6 475.6" stroke="#a01208" stroke-opacity="0.50" stroke-width="8.5"/>
<path d="M85.7 544.6L82.4 538.3L79.5 531.6L77.1 524.8L75.1 517.8L73.4 510.7L71.9 503.6L70.6 496.4L69.4 489.3L68.1 482.3L66.7 475.4L65.3 468.8L63.8 462.5L62.1 456.3L60.3 450.5" stroke="#e2361f" stroke-opacity="0.45" stroke-width="10.2"/>
<path d="M84.2 545.4L80.9 539.0L77.9 532.2L75.5 525.3L73.5 518.2L71.7 511.1L70.3 503.9L69.0 496.7L67.7 489.6L66.4 482.6L65.1 475.8L63.6 469.2L62.1 462.9L60.5 456.8L58.7 451.0" stroke="#ec5038" stroke-opacity="0.4" stroke-width="4.5"/>
<path d="M56.9 519.1L56.0 514.1L55.5 508.9L55.5 503.5L55.9 497.8L56.5 491.9L57.4 485.9L58.4 479.9L59.4 474.0L60.5 468.1L61.5 462.5L62.3 457.2L62.8 452.2L63.0 447.4L62.9 443.0" stroke="#a01208" stroke-opacity="0.38" stroke-width="15.5"/>
<path d="M56.9 519.1L56.0 514.1L55.5 508.9L55.5 503.5L55.9 497.8L56.5 491.9L57.4 485.9L58.4 479.9L59.4 474.0L60.5 468.1L61.5 462.5L62.3 457.2L62.8 452.2L63.0 447.4L62.9 443.0" stroke="#a01208" stroke-opacity="0.50" stroke-width="8.3"/>
<path d="M57.3 509.3L54.7 503.0L52.5 496.5L50.6 489.8L49.0 482.9L47.7 475.8L46.8 468.7L46.1 461.6L45.6 454.6L45.2 447.7L44.8 440.9L44.6 434.6L45.0 429.3L45.9 424.5L46.1 417.9" stroke="#e2361f" stroke-opacity="0.45" stroke-width="10.0"/>
<path d="M55.8 509.9L53.2 503.6L50.9 497.0L49.0 490.2L47.4 483.2L46.1 476.1L45.1 468.9L44.4 461.7L43.9 454.7L43.5 447.8L43.2 441.0L42.9 434.5L43.4 429.1L44.2 424.4L44.5 417.8" stroke="#ec5038" stroke-opacity="0.4" stroke-width="4.4"/>
<path d="M31.0 482.8L30.4 477.7L30.2 472.4L30.7 467.0L31.5 461.3L32.8 455.6L34.3 449.8L36.1 444.1L38.1 438.5L40.3 433.4L42.9 429.1L45.7 425.3L48.0 420.6L49.7 416.0L51.1 412.2" stroke="#a01208" stroke-opacity="0.38" stroke-width="15.3"/>
<path d="M31.0 482.8L30.4 477.7L30.2 472.4L30.7 467.0L31.5 461.3L32.8 455.6L34.3 449.8L36.1 444.1L38.1 438.5L40.3 433.4L42.9 429.1L45.7 425.3L48.0 420.6L49.7 416.0L51.1 412.2" stroke="#a01208" stroke-opacity="0.50" stroke-width="8.2"/>
<path d="M32.0 473.0L29.9 466.4L28.3 459.6L27.3 452.7L26.6 445.6L26.4 438.0L27.3 430.5L29.2 423.6L31.0 416.9L33.1 410.5L35.4 404.4L37.8 398.8L40.2 393.7L42.6 389.0L45.0 384.2" stroke="#e2361f" stroke-opacity="0.45" stroke-width="9.8"/>
<path d="M30.4 473.4L28.3 466.8L26.7 459.9L25.6 452.9L24.9 445.7L24.8 438.0L25.7 430.2L27.6 423.2L29.5 416.5L31.6 409.9L33.9 403.8L36.3 398.1L38.7 393.0L41.1 388.3L43.5 383.5" stroke="#ec5038" stroke-opacity="0.4" stroke-width="4.4"/>
<path d="M8.4 439.4L9.0 433.0L10.8 428.4L13.0 423.6L15.6 418.4L18.7 413.3L22.3 408.5L26.1 403.9L30.2 399.6L34.3 395.8L38.4 392.5L42.2 389.6L45.7 386.9L48.9 384.0L51.7 381.2" stroke="#a01208" stroke-opacity="0.38" stroke-width="15.3"/>
<path d="M8.4 439.4L9.0 433.0L10.8 428.4L13.0 423.6L15.6 418.4L18.7 413.3L22.3 408.5L26.1 403.9L30.2 399.6L34.3 395.8L38.4 392.5L42.2 389.6L45.7 386.9L48.9 384.0L51.7 381.2" stroke="#a01208" stroke-opacity="0.50" stroke-width="8.2"/>
<path d="M12.2 429.2L12.4 422.8L13.2 415.6L14.6 408.4L16.8 401.2L19.8 394.4L23.5 388.1L27.6 382.4L32.0 377.3L36.4 372.5L40.9 368.2L45.3 364.4L49.7 360.7L54.1 356.8L58.3 352.8" stroke="#e2361f" stroke-opacity="0.45" stroke-width="9.8"/>
<path d="M10.5 429.2L10.8 422.6L11.6 415.3L13.1 408.0L15.3 400.6L18.3 393.7L22.1 387.2L26.3 381.4L30.7 376.2L35.3 371.3L39.8 367.0L44.3 363.1L48.7 359.4L53.0 355.6L57.2 351.6" stroke="#ec5038" stroke-opacity="0.4" stroke-width="4.4"/>
<path d="M2.8 389.2L5.6 384.2L9.2 379.6L13.2 375.7L17.7 372.3L22.6 369.0L27.8 366.2L33.1 363.8L38.4 361.9L43.7 360.3L48.7 358.8L53.5 357.3L57.9 355.7L62.0 353.8L65.7 351.8" stroke="#a01208" stroke-opacity="0.38" stroke-width="14.6"/>
<path d="M2.8 389.2L5.6 384.2L9.2 379.6L13.2 375.7L17.7 372.3L22.6 369.0L27.8 366.2L33.1 363.8L38.4 361.9L43.7 360.3L48.7 358.8L53.5 357.3L57.9 355.7L62.0 353.8L65.7 351.8" stroke="#a01208" stroke-opacity="0.50" stroke-width="7.8"/>
<path d="M10.0 381.3L13.1 374.8L16.8 368.7L21.2 362.9L26.2 357.6L31.6 353.1L37.2 349.1L42.9 345.5L48.6 342.1L54.3 338.8L59.8 335.4L65.1 332.1L70.0 329.0L74.7 326.1L79.1 323.4" stroke="#e2361f" stroke-opacity="0.45" stroke-width="9.4"/>
<path d="M8.6 380.6L11.7 374.1L15.5 367.8L20.0 361.8L25.2 356.4L30.7 351.8L36.3 347.8L42.1 344.2L47.8 340.8L53.5 337.4L59.0 334.0L64.2 330.8L69.2 327.7L73.8 324.8L78.2 322.1" stroke="#ec5038" stroke-opacity="0.4" stroke-width="4.2"/>
<path d="M18.6 342.0L22.6 339.1L27.0 336.7L31.8 334.8L36.9 333.1L42.2 331.8L47.7 330.6L53.2 329.6L58.8 328.6L64.1 327.8L69.3 327.1L74.0 326.5L78.4 325.9L82.4 325.3L86.1 324.4" stroke="#a01208" stroke-opacity="0.38" stroke-width="14.4"/>
<path d="M18.6 342.0L22.6 339.1L27.0 336.7L31.8 334.8L36.9 333.1L42.2 331.8L47.7 330.6L53.2 329.6L58.8 328.6L64.1 327.8L69.3 327.1L74.0 326.5L78.4 325.9L82.4 325.3L86.1 324.4" stroke="#a01208" stroke-opacity="0.50" stroke-width="7.7"/>
<path d="M27.4 338.4L32.0 333.9L37.0 329.8L42.2 326.0L47.7 322.4L53.5 319.0L59.5 315.9L65.7 313.4L71.8 311.3L77.9 309.4L83.9 307.8L89.7 306.1L95.3 304.4L100.8 302.4L106.1 300.1" stroke="#e2361f" stroke-opacity="0.45" stroke-width="9.3"/>
<path d="M26.3 337.3L31.0 332.8L36.0 328.6L41.3 324.8L46.8 321.1L52.7 317.6L58.9 314.5L65.1 311.9L71.4 309.8L77.5 308.0L83.5 306.3L89.3 304.6L94.8 302.9L100.3 300.9L105.5 298.7" stroke="#ec5038" stroke-opacity="0.4" stroke-width="4.1"/>
<path d="M42.4 306.2L46.9 303.8L51.9 302.0L57.1 300.7L62.6 300.1L68.1 299.9L73.7 300.1L79.2 300.6L84.7 301.2L90.0 301.8L95.2 302.3L100.1 302.6L104.8 302.6L109.1 302.3L113.0 301.7" stroke="#a01208" stroke-opacity="0.38" stroke-width="14.1"/>
<path d="M42.4 306.2L46.9 303.8L51.9 302.0L57.1 300.7L62.6 300.1L68.1 299.9L73.7 300.1L79.2 300.6L84.7 301.2L90.0 301.8L95.2 302.3L100.1 302.6L104.8 302.6L109.1 302.3L113.0 301.7" stroke="#a01208" stroke-opacity="0.50" stroke-width="7.6"/>
<path d="M51.9 303.8L57.6 299.9L63.6 296.8L69.7 294.3L76.0 292.3L82.3 290.7L88.6 289.4L95.0 288.3L101.2 287.2L107.3 286.2L113.2 285.4L118.8 284.6L124.0 283.9L129.1 283.3L134.0 282.6" stroke="#e2361f" stroke-opacity="0.45" stroke-width="9.1"/>
<path d="M51.0 302.5L56.8 298.6L62.9 295.4L69.2 292.9L75.5 290.8L81.9 289.2L88.3 287.9L94.7 286.8L101.0 285.7L107.1 284.8L113.0 283.9L118.6 283.1L123.9 282.4L128.9 281.8L133.8 281.1" stroke="#ec5038" stroke-opacity="0.4" stroke-width="4.0"/>
<path d="M74.9 275.9L79.3 275.2L83.9 274.8L88.8 274.8L93.9 275.2L99.2 275.9L104.5 276.8L109.7 277.9L114.8 279.2L119.6 280.6L124.2 282.0L128.5 283.4L132.4 284.6L136.1 285.5L139.3 286.3" stroke="#a01208" stroke-opacity="0.38" stroke-width="13.5"/>
<path d="M74.9 275.9L79.3 275.2L83.9 274.8L88.8 274.8L93.9 275.2L99.2 275.9L104.5 276.8L109.7 277.9L114.8 279.2L119.6 280.6L124.2 282.0L128.5 283.4L132.4 284.6L136.1 285.5L139.3 286.3" stroke="#a01208" stroke-opacity="0.50" stroke-width="7.2"/>
<path d="M83.7 276.4L89.3 274.2L95.3 272.2L101.4 270.7L107.7 269.6L114.0 268.9L120.4 268.7L126.5 269.0L132.5 269.6L138.2 270.6L143.8 271.8L149.2 273.0L154.6 274.0L159.8 275.0L165.1 275.7" stroke="#e2361f" stroke-opacity="0.45" stroke-width="8.7"/>
<path d="M83.2 275.1L88.9 272.8L94.9 270.9L101.1 269.3L107.5 268.1L113.9 267.5L120.4 267.3L126.6 267.5L132.7 268.2L138.5 269.2L144.1 270.4L149.5 271.5L154.8 272.6L160.0 273.6L165.3 274.3" stroke="#ec5038" stroke-opacity="0.4" stroke-width="3.9"/>
<path d="M109.8 253.7L114.5 253.6L119.3 254.0L124.2 255.0L129.2 256.5L134.1 258.6L138.7 261.1L143.1 263.9L147.3 266.7L151.3 269.6L155.3 272.3L159.1 274.9L162.8 277.2L166.5 279.1L170.1 280.5" stroke="#a01208" stroke-opacity="0.38" stroke-width="13.1"/>
<path d="M109.8 253.7L114.5 253.6L119.3 254.0L124.2 255.0L129.2 256.5L134.1 258.6L138.7 261.1L143.1 263.9L147.3 266.7L151.3 269.6L155.3 272.3L159.1 274.9L162.8 277.2L166.5 279.1L170.1 280.5" stroke="#a01208" stroke-opacity="0.50" stroke-width="7.0"/>
<path d="M118.6 255.5L125.0 254.5L131.5 254.2L137.9 254.6L144.0 255.6L149.9 257.1L155.7 258.8L161.4 260.8L167.1 262.9L172.7 264.9L178.2 267.0L183.8 268.8L189.2 270.5L194.6 271.9L199.9 273.1" stroke="#e2361f" stroke-opacity="0.45" stroke-width="8.4"/>
<path d="M118.4 254.1L124.8 253.1L131.6 252.8L138.0 253.2L144.3 254.3L150.2 255.7L156.1 257.5L161.9 259.5L167.6 261.5L173.2 263.6L178.7 265.6L184.2 267.5L189.6 269.2L194.9 270.6L200.2 271.7" stroke="#ec5038" stroke-opacity="0.4" stroke-width="3.7"/>
<path d="M150.4 241.6L154.5 242.9L158.6 244.6L162.6 246.8L166.7 249.4L170.7 252.4L174.7 255.6L178.6 259.0L182.5 262.3L186.4 265.7L190.2 268.8L193.9 271.8L197.6 274.3L201.1 276.5L204.5 278.3" stroke="#a01208" stroke-opacity="0.38" stroke-width="13.3"/>
<path d="M150.4 241.6L154.5 242.9L158.6 244.6L162.6 246.8L166.7 249.4L170.7 252.4L174.7 255.6L178.6 259.0L182.5 262.3L186.4 265.7L190.2 268.8L193.9 271.8L197.6 274.3L201.1 276.5L204.5 278.3" stroke="#a01208" stroke-opacity="0.50" stroke-width="7.1"/>
<path d="M157.6 245.9L163.3 246.5L169.0 247.6L174.8 249.0L180.5 250.8L186.1 252.9L191.8 255.2L197.4 257.6L203.0 260.2L208.4 262.8L213.7 265.4L219.0 267.9L224.2 270.2L229.6 272.2L235.1 273.9" stroke="#e2361f" stroke-opacity="0.45" stroke-width="8.5"/>
<path d="M157.8 244.5L163.5 245.1L169.4 246.2L175.1 247.7L180.9 249.5L186.6 251.6L192.4 253.9L198.0 256.3L203.6 258.9L209.0 261.5L214.3 264.1L219.6 266.6L224.8 268.9L230.0 270.9L235.5 272.5" stroke="#ec5038" stroke-opacity="0.4" stroke-width="3.8"/>
<path d="M188.0 237.3L191.9 238.9L195.8 241.0L199.8 243.5L203.7 246.6L207.6 249.9L211.4 253.6L215.0 257.4L218.5 261.3L222.0 265.0L225.4 268.6L228.9 272.0L232.4 274.9L236.1 277.4L239.9 279.5" stroke="#a01208" stroke-opacity="0.38" stroke-width="13.4"/>
<path d="M188.0 237.3L191.9 238.9L195.8 241.0L199.8 243.5L203.7 246.6L207.6 249.9L211.4 253.6L215.0 257.4L218.5 261.3L222.0 265.0L225.4 268.6L228.9 272.0L232.4 274.9L236.1 277.4L239.9 279.5" stroke="#a01208" stroke-opacity="0.50" stroke-width="7.2"/>
<path d="M194.8 242.2L200.6 243.3L206.4 244.9L212.2 247.0L217.8 249.4L223.3 252.2L228.6 255.2L234.0 258.2L239.3 261.3L244.8 264.1L250.2 266.8L255.5 269.2L260.4 271.6L265.1 273.7L269.9 275.7" stroke="#e2361f" stroke-opacity="0.45" stroke-width="8.6"/>
<path d="M195.0 240.8L200.9 241.9L206.9 243.5L212.7 245.6L218.4 248.1L223.9 250.9L229.3 253.9L234.7 257.0L240.0 260.0L245.4 262.8L250.8 265.5L256.1 268.0L261.0 270.3L265.7 272.4L270.4 274.4" stroke="#ec5038" stroke-opacity="0.4" stroke-width="3.8"/>
<path d="M227.0 236.9L230.6 239.0L234.0 241.5L237.5 244.4L240.9 247.7L244.4 251.2L247.9 254.9L251.5 258.8L255.0 262.6L258.4 266.4L261.6 270.1L264.5 273.5L267.4 276.6L270.3 279.3L273.3 281.6" stroke="#a01208" stroke-opacity="0.38" stroke-width="13.4"/>
<path d="M227.0 236.9L230.6 239.0L234.0 241.5L237.5 244.4L240.9 247.7L244.4 251.2L247.9 254.9L251.5 258.8L255.0 262.6L258.4 266.4L261.6 270.1L264.5 273.5L267.4 276.6L270.3 279.3L273.3 281.6" stroke="#a01208" stroke-opacity="0.50" stroke-width="7.2"/>
<path d="M232.9 242.6L238.2 244.3L243.4 246.2L248.8 248.3L254.3 250.8L259.9 253.6L265.3 256.7L270.4 260.2L275.3 263.7L280.2 267.3L285.1 270.7L290.1 273.8L295.2 276.6L300.2 279.0L305.1 281.2" stroke="#e2361f" stroke-opacity="0.45" stroke-width="8.6"/>
<path d="M233.3 241.2L238.6 242.9L243.9 244.8L249.3 247.0L254.9 249.5L260.5 252.3L266.0 255.5L271.2 259.0L276.2 262.6L281.0 266.1L285.9 269.5L290.9 272.5L295.8 275.3L300.8 277.7L305.7 279.9" stroke="#ec5038" stroke-opacity="0.4" stroke-width="3.8"/>
<path d="M264.1 238.4L268.2 240.7L272.0 243.6L275.4 246.9L278.7 250.7L281.7 254.7L284.6 258.8L287.5 263.1L290.4 267.3L293.4 271.3L296.5 275.2L299.5 278.8L302.6 282.0L305.6 284.8L308.6 287.1" stroke="#a01208" stroke-opacity="0.38" stroke-width="13.0"/>
<path d="M264.1 238.4L268.2 240.7L272.0 243.6L275.4 246.9L278.7 250.7L281.7 254.7L284.6 258.8L287.5 263.1L290.4 267.3L293.4 271.3L296.5 275.2L299.5 278.8L302.6 282.0L305.6 284.8L308.6 287.1" stroke="#a01208" stroke-opacity="0.50" stroke-width="7.0"/>
<path d="M270.6 244.5L276.2 246.9L281.5 249.6L286.4 252.6L291.2 255.7L296.0 259.0L300.9 262.4L305.8 265.9L310.6 269.5L315.4 273.0L320.1 276.5L324.8 279.7L329.3 282.8L333.7 285.6L338.0 288.2" stroke="#e2361f" stroke-opacity="0.45" stroke-width="8.4"/>
<path d="M271.2 243.3L276.8 245.6L282.2 248.4L287.2 251.4L292.0 254.6L296.8 257.9L301.7 261.3L306.6 264.8L311.5 268.3L316.2 271.9L320.9 275.3L325.6 278.6L330.1 281.6L334.5 284.4L338.7 287.1" stroke="#ec5038" stroke-opacity="0.4" stroke-width="3.7"/>
<path d="M301.1 244.5L304.4 246.8L307.6 249.7L310.9 252.9L314.0 256.6L317.0 260.5L319.8 264.7L322.7 269.0L325.4 273.2L328.1 277.4L330.7 281.5L333.1 285.3L335.4 288.7L337.8 291.8L340.2 294.5" stroke="#a01208" stroke-opacity="0.38" stroke-width="13.0"/>
<path d="M301.1 244.5L304.4 246.8L307.6 249.7L310.9 252.9L314.0 256.6L317.0 260.5L319.8 264.7L322.7 269.0L325.4 273.2L328.1 277.4L330.7 281.5L333.1 285.3L335.4 288.7L337.8 291.8L340.2 294.5" stroke="#a01208" stroke-opacity="0.50" stroke-width="7.0"/>
<path d="M306.4 250.6L311.6 252.9L316.8 255.5L321.7 258.5L326.7 261.8L331.5 265.3L336.2 269.2L340.7 273.2L344.9 277.4L349.0 281.6L353.1 285.8L357.2 289.8L361.4 293.6L365.8 297.1L370.1 300.1" stroke="#e2361f" stroke-opacity="0.45" stroke-width="8.4"/>
<path d="M306.9 249.3L312.2 251.6L317.5 254.3L322.5 257.3L327.5 260.6L332.4 264.2L337.1 268.1L341.7 272.2L345.9 276.4L350.0 280.6L354.1 284.8L358.1 288.8L362.3 292.6L366.6 295.9L370.9 299.0" stroke="#ec5038" stroke-opacity="0.4" stroke-width="3.7"/>
<path d="M337.9 251.3L341.3 254.0L344.6 257.3L347.6 261.1L350.2 265.2L352.6 269.6L354.8 274.1L356.9 278.8L358.9 283.5L360.9 288.1L363.0 292.6L365.2 296.6L367.5 300.4L369.8 303.7L372.1 306.5" stroke="#a01208" stroke-opacity="0.38" stroke-width="13.0"/>
<path d="M337.9 251.3L341.3 254.0L344.6 257.3L347.6 261.1L350.2 265.2L352.6 269.6L354.8 274.1L356.9 278.8L358.9 283.5L360.9 288.1L363.0 292.6L365.2 296.6L367.5 300.4L369.8 303.7L372.1 306.5" stroke="#a01208" stroke-opacity="0.50" stroke-width="7.0"/>
<path d="M343.1 258.1L348.3 261.1L353.2 264.6L357.8 268.4L362.0 272.4L366.1 276.7L370.1 281.1L374.1 285.6L378.0 290.0L381.7 294.4L385.3 298.7L388.8 302.9L392.4 307.0L396.1 310.8L399.8 314.4" stroke="#e2361f" stroke-opacity="0.45" stroke-width="8.4"/>
<path d="M343.8 256.9L349.1 259.9L354.1 263.4L358.7 267.3L363.0 271.4L367.1 275.7L371.2 280.2L375.2 284.6L379.0 289.1L382.8 293.5L386.4 297.8L389.9 302.0L393.4 306.1L397.0 309.9L400.7 313.4" stroke="#ec5038" stroke-opacity="0.4" stroke-width="3.7"/>
<path d="M374.2 263.7L376.9 266.7L379.4 270.2L381.8 274.1L384.1 278.4L386.1 282.9L387.9 287.5L389.6 292.3L391.1 297.0L392.5 301.7L394.0 306.1L395.6 310.4L397.2 314.3L399.0 317.9L400.9 321.1" stroke="#a01208" stroke-opacity="0.38" stroke-width="12.7"/>
<path d="M374.2 263.7L376.9 266.7L379.4 270.2L381.8 274.1L384.1 278.4L386.1 282.9L387.9 287.5L389.6 292.3L391.1 297.0L392.5 301.7L394.0 306.1L395.6 310.4L397.2 314.3L399.0 317.9L400.9 321.1" stroke="#a01208" stroke-opacity="0.50" stroke-width="6.8"/>
<path d="M378.0 270.9L382.6 274.2L387.0 278.0L391.2 282.1L395.1 286.5L398.8 291.1L402.3 295.8L405.6 300.7L408.8 305.6L411.9 310.4L415.0 315.1L418.0 319.7L421.1 324.2L424.3 328.4L427.8 332.5" stroke="#e2361f" stroke-opacity="0.45" stroke-width="8.2"/>
<path d="M378.8 269.8L383.4 273.2L387.9 277.0L392.2 281.2L396.2 285.6L399.9 290.3L403.4 295.1L406.7 299.9L409.9 304.8L413.1 309.7L416.1 314.4L419.2 319.0L422.2 323.4L425.4 327.6L428.8 331.6" stroke="#ec5038" stroke-opacity="0.4" stroke-width="3.6"/>
<path d="M408.2 279.4L410.6 282.7L412.8 286.4L414.6 290.5L416.2 294.9L417.6 299.5L418.8 304.3L419.9 309.2L420.9 314.1L421.8 318.9L422.8 323.5L423.9 327.9L425.1 332.0L426.7 335.8L428.5 339.3" stroke="#a01208" stroke-opacity="0.38" stroke-width="12.7"/>
<path d="M408.2 279.4L410.6 282.7L412.8 286.4L414.6 290.5L416.2 294.9L417.6 299.5L418.8 304.3L419.9 309.2L420.9 314.1L421.8 318.9L422.8 323.5L423.9 327.9L425.1 332.0L426.7 335.8L428.5 339.3" stroke="#a01208" stroke-opacity="0.50" stroke-width="6.8"/>
<path d="M411.2 286.9L415.3 290.7L419.1 294.9L422.8 299.3L426.2 304.1L429.3 309.1L432.1 314.2L434.9 319.4L437.6 324.5L440.4 329.7L443.3 334.6L446.2 339.5L449.2 344.1L452.5 348.5L456.0 352.7" stroke="#e2361f" stroke-opacity="0.45" stroke-width="8.2"/>
<path d="M412.2 285.9L416.3 289.7L420.2 294.0L423.8 298.5L427.3 303.4L430.4 308.4L433.3 313.5L436.1 318.7L438.8 323.9L441.6 329.0L444.4 333.9L447.3 338.7L450.3 343.3L453.5 347.7L457.0 351.8" stroke="#ec5038" stroke-opacity="0.4" stroke-width="3.6"/>
<path d="M439.9 298.5L441.9 302.0L443.5 305.9L444.9 310.1L446.0 314.6L446.9 319.2L447.8 324.1L448.5 329.0L449.3 333.9L450.1 338.8L450.9 343.5L452.0 348.0L453.3 352.2L454.9 356.1L456.8 359.6" stroke="#a01208" stroke-opacity="0.38" stroke-width="12.7"/>
<path d="M439.9 298.5L441.9 302.0L443.5 305.9L444.9 310.1L446.0 314.6L446.9 319.2L447.8 324.1L448.5 329.0L449.3 333.9L450.1 338.8L450.9 343.5L452.0 348.0L453.3 352.2L454.9 356.1L456.8 359.6" stroke="#a01208" stroke-opacity="0.50" stroke-width="6.8"/>
<path d="M442.0 306.2L445.6 310.4L448.8 314.7L452.0 319.3L455.0 324.2L457.8 329.3L460.5 334.4L463.2 339.6L465.9 344.8L468.8 350.0L471.8 354.9L475.0 359.7L478.3 364.2L481.8 368.5L485.4 372.4" stroke="#e2361f" stroke-opacity="0.45" stroke-width="8.2"/>
<path d="M443.1 305.4L446.6 309.5L449.9 313.9L453.1 318.6L456.2 323.5L459.0 328.6L461.7 333.8L464.4 339.0L467.1 344.2L470.0 349.3L472.9 354.2L476.1 358.9L479.4 363.4L482.8 367.6L486.4 371.5" stroke="#ec5038" stroke-opacity="0.4" stroke-width="3.6"/>
<path d="M468.8 319.0L470.5 322.5L472.0 326.3L473.2 330.4L474.2 334.8L475.2 339.5L476.0 344.3L476.9 349.2L477.9 354.1L478.9 358.9L480.0 363.5L481.3 368.0L482.8 372.1L484.4 375.8L486.1 379.1" stroke="#a01208" stroke-opacity="0.38" stroke-width="12.7"/>
<path d="M468.8 319.0L470.5 322.5L472.0 326.3L473.2 330.4L474.2 334.8L475.2 339.5L476.0 344.3L476.9 349.2L477.9 354.1L478.9 358.9L480.0 363.5L481.3 368.0L482.8 372.1L484.4 375.8L486.1 379.1" stroke="#a01208" stroke-opacity="0.50" stroke-width="6.8"/>
<path d="M470.5 326.6L473.9 330.7L477.0 335.0L480.1 339.4L483.2 344.1L486.2 349.0L489.1 354.0L492.1 359.1L495.0 364.1L497.8 369.2L500.5 374.1L503.4 379.0L506.6 383.7L509.8 388.0" stroke="#e2361f" stroke-opacity="0.45" stroke-width="8.2"/>
<path d="M471.5 325.7L474.9 329.8L478.2 334.2L481.3 338.7L484.3 343.4L487.3 348.3L490.3 353.3L493.2 358.4L496.1 363.5L498.9 368.5L501.7 373.4L504.5 378.2L507.7 382.9L510.9 387.2" stroke="#ec5038" stroke-opacity="0.4" stroke-width="3.6"/>
<path d="M496.6 338.1L498.5 341.5L500.2 345.3L501.7 349.5L503.0 353.9L504.2 358.7L505.1 363.6L505.8 368.5L506.5 373.5L507.3 378.3L508.3 383.0L509.4 387.5L510.7 391.7" stroke="#a01208" stroke-opacity="0.38" stroke-width="12.7"/>
<path d="M496.6 338.1L498.5 341.5L500.2 345.3L501.7 349.5L503.0 353.9L504.2 358.7L505.1 363.6L505.8 368.5L506.5 373.5L507.3 378.3L508.3 383.0L509.4 387.5L510.7 391.7" stroke="#a01208" stroke-opacity="0.50" stroke-width="6.8"/>
<path d="M498.7 345.7L502.4 349.7L506.0 354.1L509.3 358.8L512.3 363.8L515.1 368.8L517.8 373.9" stroke="#e2361f" stroke-opacity="0.45" stroke-width="8.2"/>
<path d="M499.7 344.8L503.4 348.8L507.1 353.3L510.4 358.1L513.5 363.1L516.3 368.1L519.0 373.3" stroke="#ec5038" stroke-opacity="0.4" stroke-width="3.6"/>
<path d="M525.9 358.4L527.7 361.9L529.2 365.7" stroke="#a01208" stroke-opacity="0.38" stroke-width="12.7"/>
<path d="M525.9 358.4L527.7 361.9L529.2 365.7" stroke="#a01208" stroke-opacity="0.50" stroke-width="6.8"/>
<path d="M60.9 327.5L64.3 326.4L67.6 325.3L70.7 324.5L73.7 323.7" stroke="#ee6248" stroke-opacity="0.20" stroke-width="0.7"/>
<path d="M88.7 540.9L87.5 534.6L86.7 528.3L86.1 522.0L85.7 515.6" stroke="#ee6248" stroke-opacity="0.30" stroke-width="1.1"/>
<path d="M94.1 506.2L93.6 502.2L93.1 498.5L92.4 494.7L91.6 491.1" stroke="#a4140a" stroke-opacity="0.28" stroke-width="1.0"/>
<path d="M125.4 585.8L121.3 577.9L118.2 569.5L115.6 560.9L113.6 552.1" stroke="#a4140a" stroke-opacity="0.24" stroke-width="1.1"/>
<path d="M421.6 322.6L423.0 325.7L424.4 328.7L425.9 331.6L427.5 334.4" stroke="#ee6248" stroke-opacity="0.21" stroke-width="0.9"/>
<path d="M175.0 608.3L169.4 599.3L164.5 589.9L160.3 580.3L156.6 570.8" stroke="#ee6248" stroke-opacity="0.39" stroke-width="1.0"/>
<path d="M274.5 269.8L276.9 272.0L279.3 274.1L281.8 276.2L284.4 278.1" stroke="#a4140a" stroke-opacity="0.45" stroke-width="0.9"/>
<path d="M46.4 446.6L46.8 442.3L47.2 438.2L47.7 434.4L48.4 431.0" stroke="#ee6248" stroke-opacity="0.47" stroke-width="0.8"/>
<path d="M18.8 451.9L18.6 447.9L18.5 443.4L18.8 438.9L19.5 434.2" stroke="#a4140a" stroke-opacity="0.21" stroke-width="0.8"/>
<path d="M93.2 264.4L99.0 262.9L105.0 261.9L111.3 261.6L117.7 261.8" stroke="#ee6248" stroke-opacity="0.36" stroke-width="0.9"/>
<path d="M168.6 603.6L164.2 595.9L160.3 587.9L156.8 579.7L153.8 571.6" stroke="#ee6248" stroke-opacity="0.17" stroke-width="1.1"/>
<path d="M249.1 250.3L255.5 254.9L261.7 259.8L267.5 265.0L272.9 270.1" stroke="#a4140a" stroke-opacity="0.42" stroke-width="0.6"/>
<path d="M141.6 560.3L139.7 554.1L137.8 548.2L136.0 542.6L133.9 537.2" stroke="#ee6248" stroke-opacity="0.47" stroke-width="0.9"/>
<path d="M324.4 269.4L329.3 274.8L334.0 280.2L338.3 285.3L342.6 290.2" stroke="#a4140a" stroke-opacity="0.38" stroke-width="0.7"/>
<path d="M55.4 456.6L55.5 450.8L55.6 445.2L55.5 439.8L55.1 434.7" stroke="#a4140a" stroke-opacity="0.35" stroke-width="1.0"/>
<path d="M167.7 570.5L165.0 564.6L162.2 559.2L159.3 554.1L156.2 549.3" stroke="#a4140a" stroke-opacity="0.27" stroke-width="0.9"/>
<path d="M447.1 326.7L448.2 329.8L449.2 332.9L450.2 336.0L451.3 339.0" stroke="#a4140a" stroke-opacity="0.25" stroke-width="0.8"/>
<path d="M436.4 304.6L439.4 311.0L441.9 317.8L444.4 324.7L446.7 331.6" stroke="#a4140a" stroke-opacity="0.15" stroke-width="1.0"/>
<path d="M276.2 274.9L279.2 277.2L282.3 279.3L285.6 281.2L288.9 282.9" stroke="#ee6248" stroke-opacity="0.48" stroke-width="0.9"/>
<path d="M215.7 605.0L210.5 597.6L205.4 590.3L200.6 583.4L195.8 577.1" stroke="#a4140a" stroke-opacity="0.36" stroke-width="0.8"/>
<path d="M259.5 639.2L255.1 637.2L251.9 635.1L248.7 632.8L245.2 630.5" stroke="#ee6248" stroke-opacity="0.45" stroke-width="1.1"/>
<path d="M158.9 269.7L162.3 271.3L165.5 272.9L168.9 274.3L172.1 275.6" stroke="#ee6248" stroke-opacity="0.36" stroke-width="1.0"/>
<path d="M157.0 240.6L163.2 241.5L169.5 243.2L175.7 245.5L181.9 248.4" stroke="#ee6248" stroke-opacity="0.43" stroke-width="0.7"/>
<path d="M414.0 308.7L416.2 313.9L418.4 319.0L420.5 323.9L422.8 328.6" stroke="#ee6248" stroke-opacity="0.17" stroke-width="0.6"/>
<path d="M232.0 635.1L226.7 632.2L221.4 628.8L216.4 624.9L211.6 620.5" stroke="#a4140a" stroke-opacity="0.32" stroke-width="0.8"/>
<path d="M211.4 591.0L207.1 585.2L202.7 579.8L198.2 574.8L193.7 570.3" stroke="#ee6248" stroke-opacity="0.24" stroke-width="1.2"/>
<path d="M90.7 532.9L89.7 523.2L89.0 513.7L88.4 504.3L87.6 495.3" stroke="#a4140a" stroke-opacity="0.22" stroke-width="1.0"/>
<path d="M216.0 265.5L219.3 267.8L222.4 270.0L225.7 272.1L228.9 274.0" stroke="#ee6248" stroke-opacity="0.17" stroke-width="0.8"/>
<path d="M202.9 254.4L207.0 257.2L210.9 260.1L214.8 263.0L218.6 265.8" stroke="#a4140a" stroke-opacity="0.32" stroke-width="0.8"/>
<path d="M152.4 264.1L158.1 267.0L163.6 269.9L169.1 272.5L174.4 274.9" stroke="#ee6248" stroke-opacity="0.17" stroke-width="0.7"/>
<path d="M221.0 240.5L226.7 243.5L232.2 247.1L237.6 251.1L243.0 255.2" stroke="#ee6248" stroke-opacity="0.24" stroke-width="1.0"/>
<path d="M93.6 527.6L93.0 520.5L92.4 513.5L91.9 506.7L91.2 500.2" stroke="#a4140a" stroke-opacity="0.23" stroke-width="0.7"/>
<path d="M310.5 268.5L315.7 273.8L320.9 279.0L326.0 283.7L330.8 287.9" stroke="#a4140a" stroke-opacity="0.15" stroke-width="0.7"/>
<path d="M207.4 265.7L213.5 269.8L219.6 273.5L225.7 276.6L232.0 279.0" stroke="#a4140a" stroke-opacity="0.42" stroke-width="0.9"/>
<path d="M32.6 346.2L38.9 343.3L45.2 340.7L51.6 338.2L57.8 335.8" stroke="#ee6248" stroke-opacity="0.47" stroke-width="1.1"/>
<path d="M55.9 350.7L59.5 348.8L63.1 346.8L66.4 344.6L69.6 342.4" stroke="#ee6248" stroke-opacity="0.20" stroke-width="0.9"/>
<path d="M269.4 601.9L262.1 596.3L253.9 591.0L245.7 587.0L238.7 583.8" stroke="#ee6248" stroke-opacity="0.21" stroke-width="1.0"/>
<path d="M148.8 565.1L146.8 559.2L144.8 553.6L142.9 548.3L140.8 543.2" stroke="#a4140a" stroke-opacity="0.32" stroke-width="1.3"/>
<path d="M398.0 306.6L400.4 311.0L402.8 315.2L405.3 319.2L407.8 322.8" stroke="#ee6248" stroke-opacity="0.43" stroke-width="0.7"/>
<path d="M107.3 279.3L110.8 279.5L114.3 279.7L117.7 280.0L120.9 280.4" stroke="#a4140a" stroke-opacity="0.28" stroke-width="1.0"/>
<path d="M37.9 419.6L40.5 413.8L43.0 408.3L45.4 403.2L47.5 398.8" stroke="#ee6248" stroke-opacity="0.43" stroke-width="1.0"/>
<path d="M226.1 624.4L219.0 618.2L212.8 611.3L207.6 604.1L202.8 596.8" stroke="#a4140a" stroke-opacity="0.15" stroke-width="1.4"/>
<path d="M44.9 366.9L49.9 364.0L54.7 361.0L59.3 357.9L63.5 354.4" stroke="#a4140a" stroke-opacity="0.32" stroke-width="1.0"/>
<path d="M35.1 453.5L36.1 445.5L37.3 437.7L39.5 430.8L42.3 424.6" stroke="#a4140a" stroke-opacity="0.38" stroke-width="1.0"/>
<path d="M422.1 295.3L425.0 300.6L427.6 306.3L429.9 312.2L432.0 318.1" stroke="#ee6248" stroke-opacity="0.28" stroke-width="0.7"/>
<path d="M33.1 333.2L39.1 330.2L45.3 327.6L51.7 325.0L58.2 322.8" stroke="#ee6248" stroke-opacity="0.49" stroke-width="1.0"/>
<path d="M82.3 527.7L81.7 521.7L81.2 515.7L80.9 509.7L80.7 503.7" stroke="#a4140a" stroke-opacity="0.41" stroke-width="1.2"/>
<path d="M253.7 245.3L257.5 247.7L261.4 250.3L265.1 253.1L268.7 256.2" stroke="#a4140a" stroke-opacity="0.31" stroke-width="1.0"/>
<path d="M172.0 262.0L177.0 264.8L181.9 267.6L186.8 270.3L191.5 272.6" stroke="#a4140a" stroke-opacity="0.32" stroke-width="0.8"/>
<path d="M4.6 390.7L7.3 384.7L10.5 379.5L14.2 374.9L18.3 370.5" stroke="#ee6248" stroke-opacity="0.49" stroke-width="0.7"/>
<path d="M373.2 292.5L376.6 297.5L379.8 302.3L383.1 306.7L386.4 310.8" stroke="#a4140a" stroke-opacity="0.20" stroke-width="0.8"/>
<path d="M8.0 390.2L11.9 383.6L16.6 378.0L21.6 373.0L27.1 368.4" stroke="#ee6248" stroke-opacity="0.47" stroke-width="1.1"/>
<path d="M35.5 482.8L34.7 478.2L34.1 473.4L33.8 468.6L33.8 463.6" stroke="#ee6248" stroke-opacity="0.41" stroke-width="0.8"/>
<path d="M66.1 475.5L65.9 469.6L65.6 463.8L65.2 458.3L64.6 453.0" stroke="#a4140a" stroke-opacity="0.22" stroke-width="0.7"/>
<path d="M124.2 263.8L128.4 264.7L132.4 265.8L136.2 267.1L139.9 268.6" stroke="#a4140a" stroke-opacity="0.31" stroke-width="0.9"/>
<path d="M134.8 556.9L133.3 551.6L132.0 546.5L130.5 541.5L129.1 536.8" stroke="#ee6248" stroke-opacity="0.42" stroke-width="0.7"/>
<path d="M34.3 413.7L38.0 406.8L41.7 400.6L45.1 395.2L48.2 390.7" stroke="#ee6248" stroke-opacity="0.45" stroke-width="1.2"/>
<path d="M387.0 300.9L388.8 303.9L390.5 306.8L392.3 309.6L394.1 312.3" stroke="#a4140a" stroke-opacity="0.36" stroke-width="0.8"/>
<path d="M372.6 263.3L377.2 267.1L381.6 271.5L385.9 276.5L389.8 281.9" stroke="#a4140a" stroke-opacity="0.23" stroke-width="0.7"/>
<path d="M222.8 244.2L228.6 248.0L234.2 252.2L239.8 256.5L245.5 260.9" stroke="#ee6248" stroke-opacity="0.42" stroke-width="1.0"/>
<path d="M13.7 447.9L12.9 437.3L14.7 428.3L17.5 420.3L21.1 412.0" stroke="#ee6248" stroke-opacity="0.49" stroke-width="1.0"/>
<path d="M508.9 364.8L510.7 370.1L512.5 375.5L514.3 380.8" stroke="#ee6248" stroke-opacity="0.27" stroke-width="0.6"/>
<path d="M121.1 543.7L120.2 539.5L119.3 535.5L118.4 531.5L117.5 527.8" stroke="#ee6248" stroke-opacity="0.45" stroke-width="1.1"/>
<path d="M279.4 245.0L283.4 248.1L287.3 251.4L291.0 254.8L294.8 258.4" stroke="#a4140a" stroke-opacity="0.45" stroke-width="0.7"/>
<path d="M46.1 494.2L45.0 486.6L44.4 478.6L44.4 470.5L44.8 462.4" stroke="#ee6248" stroke-opacity="0.17" stroke-width="0.9"/>
<path d="M86.7 505.2L86.3 499.7L85.9 494.3L85.2 489.1L84.4 484.0" stroke="#ee6248" stroke-opacity="0.36" stroke-width="1.2"/>
<path d="M39.1 359.0L44.7 356.3L50.1 353.8L55.4 351.2L60.4 348.6" stroke="#ee6248" stroke-opacity="0.49" stroke-width="1.0"/>
<path d="M251.8 610.1L245.8 605.3L240.1 600.7L234.8 596.3L230.1 592.0" stroke="#a4140a" stroke-opacity="0.22" stroke-width="0.9"/>
<path d="M187.9 607.7L185.1 603.2L182.4 598.7L179.9 594.2L177.5 589.6" stroke="#a4140a" stroke-opacity="0.39" stroke-width="1.2"/>
<path d="M341.2 259.3L346.2 264.5L350.8 270.2L355.0 276.1L359.0 282.2" stroke="#ee6248" stroke-opacity="0.44" stroke-width="0.9"/>
<path d="M116.0 578.4L114.1 574.6L112.4 570.7L110.9 566.8L109.6 562.7" stroke="#ee6248" stroke-opacity="0.31" stroke-width="0.8"/>
<path d="M256.9 607.6L251.2 603.0L245.5 598.8L240.2 594.9L235.4 591.2" stroke="#a4140a" stroke-opacity="0.29" stroke-width="1.1"/>
<path d="M87.5 281.9L95.0 281.5L102.4 281.5L109.8 281.7L116.8 282.1" stroke="#ee6248" stroke-opacity="0.47" stroke-width="0.6"/>
<path d="M351.3 257.5L355.8 261.3L359.8 265.6L363.5 270.2L367.0 275.1" stroke="#ee6248" stroke-opacity="0.34" stroke-width="0.6"/>
<path d="M470.5 353.6L473.2 359.7L476.2 365.4L479.4 370.7L482.8 375.5" stroke="#a4140a" stroke-opacity="0.19" stroke-width="0.6"/>
<path d="M97.7 537.2L96.6 527.9L95.8 518.7L94.9 509.8L93.9 501.3" stroke="#a4140a" stroke-opacity="0.36" stroke-width="1.1"/>
<path d="M454.1 322.4L455.6 326.4L457.1 330.5L458.4 334.7L459.8 338.8" stroke="#ee6248" stroke-opacity="0.19" stroke-width="0.9"/>
<path d="M120.7 579.3L117.3 571.1L114.6 562.4L112.4 553.6L110.7 544.7" stroke="#ee6248" stroke-opacity="0.49" stroke-width="0.9"/>
<path d="M131.6 251.6L139.2 253.3L146.4 256.0L153.3 259.1L160.0 262.6" stroke="#ee6248" stroke-opacity="0.30" stroke-width="0.8"/>
<path d="M477.9 326.0L481.0 330.3L483.9 335.0L486.7 340.1L489.3 345.6" stroke="#a4140a" stroke-opacity="0.16" stroke-width="0.8"/>
<path d="M34.9 409.7L38.0 404.2L41.1 399.3L44.1 395.0L46.8 391.2" stroke="#a4140a" stroke-opacity="0.29" stroke-width="1.0"/>
<path d="M16.0 456.6L14.7 449.9L13.8 441.9L14.2 433.4L16.2 426.9" stroke="#ee6248" stroke-opacity="0.33" stroke-width="1.2"/>
<path d="M47.8 310.1L53.0 307.7L58.5 305.8L64.0 304.4L69.5 303.5" stroke="#a4140a" stroke-opacity="0.43" stroke-width="1.0"/>
<path d="M465.4 324.7L466.8 327.8L468.1 330.9L469.3 334.2L470.6 337.5" stroke="#ee6248" stroke-opacity="0.26" stroke-width="0.6"/>
<path d="M199.3 246.1L205.6 249.8L211.7 253.9L217.5 258.3L223.2 262.8" stroke="#ee6248" stroke-opacity="0.40" stroke-width="0.7"/>
<path d="M175.9 249.3L179.0 251.0L182.2 252.7L185.3 254.6L188.5 256.5" stroke="#ee6248" stroke-opacity="0.38" stroke-width="0.8"/>
<path d="M119.2 253.3L125.5 253.4L131.8 254.3L137.9 255.9L143.6 258.0" stroke="#a4140a" stroke-opacity="0.40" stroke-width="0.8"/>
<path d="M488.8 366.6L491.1 371.7L493.3 376.6L495.6 381.2L498.3 385.6" stroke="#ee6248" stroke-opacity="0.18" stroke-width="0.6"/>
<path d="M63.5 295.5L71.9 293.8L80.4 292.9L88.9 292.5L97.3 292.3" stroke="#ee6248" stroke-opacity="0.49" stroke-width="1.0"/>
<path d="M386.5 288.3L389.5 293.8L392.4 299.3L395.2 304.7L398.0 309.8" stroke="#ee6248" stroke-opacity="0.15" stroke-width="0.7"/>
<path d="M107.3 282.7L112.9 282.9L118.2 283.2L123.2 283.7L128.0 284.1" stroke="#ee6248" stroke-opacity="0.20" stroke-width="0.6"/>
<path d="M333.1 256.1L339.0 261.3L344.4 267.1L349.2 273.5L353.7 280.0" stroke="#ee6248" stroke-opacity="0.27" stroke-width="0.8"/>
<path d="M334.8 265.5L337.4 268.5L339.9 271.5L342.3 274.6L344.6 277.7" stroke="#ee6248" stroke-opacity="0.33" stroke-width="0.9"/>
<path d="M352.0 259.9L354.4 262.1L356.6 264.5L358.8 267.1L360.8 269.7" stroke="#ee6248" stroke-opacity="0.43" stroke-width="0.6"/>
<path d="M260.4 260.1L264.5 263.6L268.4 267.2L272.2 270.7L276.0 274.1" stroke="#a4140a" stroke-opacity="0.34" stroke-width="0.6"/>
<path d="M101.2 290.9L108.5 290.7L115.2 290.5L121.4 290.2L127.0 289.8" stroke="#a4140a" stroke-opacity="0.35" stroke-width="0.9"/>
<path d="M40.1 463.5L40.7 455.9L41.5 448.3L42.5 441.0L43.7 434.2" stroke="#ee6248" stroke-opacity="0.45" stroke-width="0.8"/>
<path d="M325.0 254.4L330.1 258.7L335.1 263.4L339.8 268.7L344.1 274.2" stroke="#ee6248" stroke-opacity="0.43" stroke-width="0.7"/>
<path d="M84.5 504.8L84.2 499.2L83.7 493.7L83.2 488.3L82.5 483.1" stroke="#a4140a" stroke-opacity="0.37" stroke-width="0.8"/>
<path d="M64.5 518.0L63.8 513.5L63.2 508.9L62.8 504.2L62.5 499.5" stroke="#ee6248" stroke-opacity="0.16" stroke-width="0.7"/>
<path d="M264.3 266.8L267.0 269.2L269.5 271.4L272.1 273.6L274.7 275.7" stroke="#ee6248" stroke-opacity="0.22" stroke-width="1.0"/>
<path d="M295.6 260.9L299.0 264.2L302.4 267.5L305.7 270.8L309.0 274.0" stroke="#a4140a" stroke-opacity="0.28" stroke-width="1.0"/>
<path d="M292.7 258.5L295.5 261.2L298.3 263.9L301.1 266.6L303.9 269.4" stroke="#a4140a" stroke-opacity="0.20" stroke-width="0.7"/>
<path d="M57.6 308.9L62.0 307.7L66.3 306.8L70.7 306.1L75.1 305.6" stroke="#a4140a" stroke-opacity="0.21" stroke-width="0.9"/>
<path d="M332.9 254.5L337.5 258.2L341.9 262.4L346.1 267.0L349.9 271.9" stroke="#a4140a" stroke-opacity="0.34" stroke-width="0.8"/>
<path d="M35.8 443.6L37.5 435.0L40.5 427.7L43.4 419.7L46.0 412.4" stroke="#ee6248" stroke-opacity="0.42" stroke-width="0.7"/>
<path d="M402.8 281.6L405.6 285.4L408.2 289.5L410.6 293.8L412.9 298.3" stroke="#ee6248" stroke-opacity="0.18" stroke-width="1.0"/>
<path d="M26.3 364.8L31.7 361.2L37.2 358.1L42.8 355.5L48.3 353.0" stroke="#ee6248" stroke-opacity="0.22" stroke-width="0.7"/>
<path d="M112.1 260.1L117.4 260.2L122.5 260.7L127.7 261.7L132.8 263.0" stroke="#ee6248" stroke-opacity="0.43" stroke-width="0.6"/>
<path d="M509.6 350.9L512.4 355.7L514.7 360.7L516.7 365.8L518.7 371.2" stroke="#ee6248" stroke-opacity="0.43" stroke-width="0.6"/>
<path d="M137.7 270.0L141.2 271.4L144.7 272.8L148.2 274.2L151.5 275.5" stroke="#a4140a" stroke-opacity="0.21" stroke-width="0.9"/>
<path d="M303.5 247.5L309.1 251.1L314.7 255.4L319.9 260.2L325.0 265.4" stroke="#ee6248" stroke-opacity="0.45" stroke-width="0.8"/>
<path d="M48.2 341.8L55.0 339.2L61.6 336.4L67.8 333.7L73.4 331.3" stroke="#a4140a" stroke-opacity="0.23" stroke-width="0.6"/>
<path d="M459.6 344.2L461.9 350.3L464.6 356.0L467.5 361.5L470.8 366.4" stroke="#ee6248" stroke-opacity="0.40" stroke-width="0.9"/>
<path d="M35.4 365.7L41.8 362.2L48.1 359.0L54.1 355.9L59.8 352.6" stroke="#a4140a" stroke-opacity="0.27" stroke-width="1.0"/>
<path d="M275.5 600.4L267.0 594.6L260.1 589.8" stroke="#ee6248" stroke-opacity="0.19" stroke-width="0.9"/>
<path d="M40.4 431.3L42.8 426.2L44.8 420.0L46.5 414.5L48.1 409.5" stroke="#ee6248" stroke-opacity="0.20" stroke-width="0.8"/>
<path d="M208.5 244.6L213.2 247.5L217.9 250.6L222.3 253.9L226.7 257.4" stroke="#ee6248" stroke-opacity="0.44" stroke-width="0.8"/>
<path d="M28.6 388.3L32.1 384.9L35.6 381.7L39.1 378.6L42.4 375.9" stroke="#ee6248" stroke-opacity="0.26" stroke-width="1.0"/>
<path d="M429.1 303.8L431.7 310.0L434.1 316.3L436.3 322.8L438.5 329.2" stroke="#ee6248" stroke-opacity="0.38" stroke-width="0.6"/>
<path d="M70.1 322.5L75.9 321.1L81.4 319.9L86.7 318.4L91.7 316.8" stroke="#a4140a" stroke-opacity="0.30" stroke-width="0.9"/>
<path d="M409.1 281.3L412.6 285.2L415.8 289.6L418.8 294.3L421.5 299.3" stroke="#a4140a" stroke-opacity="0.31" stroke-width="0.6"/>
<path d="M410.4 286.1L413.7 291.2L416.8 296.6L419.5 302.4L422.1 308.3" stroke="#ee6248" stroke-opacity="0.48" stroke-width="0.8"/>
<path d="M403.1 276.2L408.2 280.8L412.8 286.1L416.9 292.1L420.5 298.7" stroke="#ee6248" stroke-opacity="0.26" stroke-width="1.0"/>
<path d="M276.5 603.5L268.5 597.5L261.4 592.4L252.6 587.7" stroke="#ee6248" stroke-opacity="0.24" stroke-width="1.3"/>
<path d="M80.1 274.1L87.3 272.3L95.0 271.1L102.9 270.6L111.0 270.8" stroke="#a4140a" stroke-opacity="0.30" stroke-width="1.0"/>
<path d="M56.7 326.7L62.0 324.9L67.2 323.4L72.2 322.1L77.1 321.0" stroke="#ee6248" stroke-opacity="0.22" stroke-width="1.1"/>
<path d="M14.8 446.5L14.5 440.9L14.8 435.2L15.9 430.3L17.4 426.3" stroke="#ee6248" stroke-opacity="0.40" stroke-width="1.0"/>
<path d="M363.9 273.3L367.8 279.0L371.6 284.9L375.3 290.7L378.9 296.3" stroke="#a4140a" stroke-opacity="0.38" stroke-width="0.7"/>
<path d="M240.1 242.1L243.9 244.3L247.8 246.7L251.8 249.2L255.8 252.0" stroke="#ee6248" stroke-opacity="0.29" stroke-width="0.7"/>
<path d="M61.0 342.1L65.4 339.9L69.5 337.6L73.2 335.5L76.6 333.4" stroke="#a4140a" stroke-opacity="0.34" stroke-width="0.8"/>
<path d="M413.3 304.4L415.0 308.5L416.6 312.5L418.2 316.4L419.8 320.3" stroke="#a4140a" stroke-opacity="0.28" stroke-width="0.7"/>
<path d="M28.9 403.7L31.8 399.4L34.7 395.5L37.8 392.0L40.8 388.8" stroke="#a4140a" stroke-opacity="0.24" stroke-width="0.9"/>
<path d="M103.1 288.9L110.6 288.8L117.6 288.7L124.0 288.6L129.6 288.5" stroke="#ee6248" stroke-opacity="0.35" stroke-width="1.0"/>
<path d="M81.2 314.1L85.6 313.4L89.9 312.5L94.0 311.6L98.0 310.6" stroke="#a4140a" stroke-opacity="0.35" stroke-width="0.7"/>
<path d="M269.1 624.7L261.0 618.0L253.0 610.8L244.7 604.1" stroke="#ee6248" stroke-opacity="0.42" stroke-width="0.9"/>
<path d="M4.9 395.5L8.3 387.8L12.9 380.8L18.1 375.0L23.9 369.7" stroke="#a4140a" stroke-opacity="0.36" stroke-width="0.8"/>
<path d="M280.6 246.3L284.5 249.5L288.2 252.9L291.9 256.4L295.7 259.9" stroke="#ee6248" stroke-opacity="0.27" stroke-width="0.6"/>
<path d="M223.0 258.5L228.0 262.5L232.9 266.3L238.0 269.8L243.2 272.9" stroke="#a4140a" stroke-opacity="0.20" stroke-width="0.6"/>
<path d="M128.7 278.5L132.4 279.2L135.8 280.1L139.1 280.8L142.2 281.6" stroke="#ee6248" stroke-opacity="0.30" stroke-width="0.8"/>
<path d="M107.7 559.5L106.3 554.0L105.1 548.4L104.0 542.7L103.1 537.1" stroke="#a4140a" stroke-opacity="0.39" stroke-width="1.0"/>
<path d="M201.5 239.6L206.7 241.6L211.7 244.2L216.6 247.2L221.3 250.4" stroke="#ee6248" stroke-opacity="0.45" stroke-width="0.9"/>
<path d="M226.7 239.6L231.2 241.9L235.6 244.5L239.9 247.4L244.3 250.5" stroke="#a4140a" stroke-opacity="0.43" stroke-width="0.9"/>
<path d="M126.0 560.0L124.3 552.6L122.7 545.3L121.1 538.2L119.6 531.5" stroke="#ee6248" stroke-opacity="0.30" stroke-width="1.1"/>
<path d="M404.1 302.9L406.5 308.1L408.9 313.2L411.3 318.1L413.7 322.7" stroke="#a4140a" stroke-opacity="0.17" stroke-width="1.0"/>
<path d="M223.1 631.6L216.6 627.2L210.9 622.2L205.9 616.6L201.4 610.7" stroke="#ee6248" stroke-opacity="0.37" stroke-width="0.8"/>
<path d="M20.0 462.7L18.7 455.6L18.1 448.1L18.1 439.3L19.8 430.6" stroke="#a4140a" stroke-opacity="0.26" stroke-width="0.8"/>
<path d="M324.3 255.7L329.4 260.2L334.4 265.2L339.0 270.5L343.3 276.1" stroke="#ee6248" stroke-opacity="0.33" stroke-width="0.6"/>
<path d="M237.6 247.7L241.1 250.2L244.6 252.7L248.2 255.4L251.8 258.1" stroke="#ee6248" stroke-opacity="0.28" stroke-width="0.8"/>
<path d="M501.3 350.6L504.1 356.5L506.6 362.8L508.8 369.2L510.9 375.6" stroke="#a4140a" stroke-opacity="0.42" stroke-width="0.7"/>
<path d="M69.4 472.2L69.1 468.3L68.7 464.6L68.3 461.1L67.8 457.6" stroke="#a4140a" stroke-opacity="0.32" stroke-width="0.9"/>
<path d="M518.0 354.2L520.6 358.2L523.0 362.4L525.3 367.1" stroke="#ee6248" stroke-opacity="0.35" stroke-width="0.6"/>
<path d="M220.0 267.5L225.9 271.5L231.9 274.9L238.1 277.7L244.5 279.7" stroke="#ee6248" stroke-opacity="0.40" stroke-width="0.9"/>
<path d="M108.0 274.6L112.2 274.8L116.3 275.2L120.4 275.8L124.3 276.5" stroke="#ee6248" stroke-opacity="0.20" stroke-width="0.9"/>
<path d="M85.3 281.8L93.2 281.3L101.1 281.2L108.9 281.4L116.4 281.8" stroke="#ee6248" stroke-opacity="0.29" stroke-width="0.7"/>
<path d="M197.7 611.7L195.0 607.8L192.5 603.8L190.0 599.8L187.7 595.7" stroke="#ee6248" stroke-opacity="0.33" stroke-width="1.4"/>
<path d="M166.2 586.0L163.2 579.1L160.4 572.3L157.8 565.7L155.2 559.5" stroke="#a4140a" stroke-opacity="0.19" stroke-width="0.8"/>
<path d="M52.5 343.9L56.7 342.2L60.7 340.3L64.6 338.5L68.3 336.7" stroke="#a4140a" stroke-opacity="0.24" stroke-width="0.7"/>
<path d="M268.1 627.3L263.0 623.1L257.2 618.5L252.1 613.8L246.6 609.3" stroke="#a4140a" stroke-opacity="0.17" stroke-width="0.9"/>
<path d="M270.0 640.1L263.9 636.5L255.8 632.2L249.8 627.3L243.1 622.2" stroke="#ee6248" stroke-opacity="0.26" stroke-width="1.1"/>
<path d="M501.8 371.9L503.8 377.8L506.2 383.5L508.8 388.9" stroke="#a4140a" stroke-opacity="0.16" stroke-width="0.6"/>
<path d="M80.5 280.8L88.4 279.9L96.5 279.5L104.6 279.6L112.6 279.9" stroke="#ee6248" stroke-opacity="0.34" stroke-width="1.0"/>
<path d="M80.7 312.5L85.1 311.8L89.3 311.2L93.5 310.4L97.5 309.5" stroke="#ee6248" stroke-opacity="0.26" stroke-width="0.9"/>
<path d="M76.7 500.4L76.6 495.6L76.4 490.9L76.1 486.2L75.8 481.7" stroke="#ee6248" stroke-opacity="0.45" stroke-width="0.8"/>
<path d="M34.5 351.1L40.4 348.4L46.3 345.9L52.1 343.6L57.9 341.2" stroke="#ee6248" stroke-opacity="0.46" stroke-width="1.1"/>
<path d="M382.5 274.1L386.0 278.5L389.1 283.2L392.1 288.1L394.8 293.1" stroke="#ee6248" stroke-opacity="0.34" stroke-width="1.0"/>
<path d="M30.1 422.7L32.4 417.6L34.8 412.7L37.2 408.1L39.7 403.7" stroke="#a4140a" stroke-opacity="0.25" stroke-width="1.1"/>
<path d="M327.4 273.8L331.0 277.7L334.4 281.6L337.6 285.4L340.7 288.9" stroke="#ee6248" stroke-opacity="0.16" stroke-width="0.7"/>
<path d="M248.0 612.2L241.2 606.6L234.7 601.0L228.9 595.5L224.1 590.4" stroke="#ee6248" stroke-opacity="0.42" stroke-width="1.1"/>
<path d="M238.1 634.6L232.9 631.8L227.9 628.7L223.0 625.1L218.3 621.1" stroke="#ee6248" stroke-opacity="0.17" stroke-width="1.2"/>
<path d="M120.7 269.8L126.0 270.8L131.1 272.1L136.0 273.6L140.5 275.2" stroke="#a4140a" stroke-opacity="0.29" stroke-width="0.6"/>
<path d="M421.8 307.7L424.3 314.2L426.6 320.7L429.1 327.0L431.7 333.0" stroke="#a4140a" stroke-opacity="0.17" stroke-width="0.7"/>
<path d="M215.4 623.3L208.2 615.7L202.1 607.5L196.7 599.1L191.7 590.6" stroke="#ee6248" stroke-opacity="0.32" stroke-width="0.8"/>
<path d="M345.9 284.3L347.9 286.9L349.9 289.5L351.9 292.0L354.0 294.4" stroke="#ee6248" stroke-opacity="0.23" stroke-width="1.0"/>
<path d="M471.1 339.6L473.6 346.7L476.3 353.9L479.2 360.9L482.3 367.5" stroke="#ee6248" stroke-opacity="0.46" stroke-width="0.7"/>
<path d="M76.8 486.1L76.1 478.8L75.2 471.8L73.9 465.3L72.3 459.2" stroke="#ee6248" stroke-opacity="0.45" stroke-width="1.1"/>
<path d="M202.3 261.3L206.0 263.8L209.7 266.3L213.2 268.7L216.8 271.0" stroke="#a4140a" stroke-opacity="0.39" stroke-width="0.6"/>
<path d="M151.2 567.1L148.6 559.8L146.1 552.9L143.5 546.3L140.7 540.3" stroke="#ee6248" stroke-opacity="0.24" stroke-width="0.9"/>
<path d="M428.8 306.7L430.2 310.0L431.4 313.3L432.6 316.6L433.7 320.0" stroke="#a4140a" stroke-opacity="0.21" stroke-width="0.9"/>
<path d="M432.2 308.5L434.3 314.1L436.3 319.7L438.2 325.3L440.2 330.9" stroke="#ee6248" stroke-opacity="0.37" stroke-width="0.9"/>
<path d="M48.7 448.0L49.2 441.4L49.6 435.2L50.3 430.0L51.6 426.3" stroke="#ee6248" stroke-opacity="0.23" stroke-width="1.0"/>
<path d="M46.8 497.8L46.0 493.4L45.3 488.8L44.8 484.1L44.5 479.4" stroke="#a4140a" stroke-opacity="0.33" stroke-width="1.2"/>
<path d="M22.3 390.9L27.2 385.6L32.3 380.9L37.3 376.7L42.3 372.9" stroke="#a4140a" stroke-opacity="0.17" stroke-width="1.0"/>
<path d="M478.1 345.7L479.5 349.6L481.0 353.4L482.5 357.3L484.0 361.0" stroke="#a4140a" stroke-opacity="0.15" stroke-width="0.7"/>
<path d="M454.0 326.9L456.3 333.6L458.6 340.4L460.9 347.1L463.6 353.5" stroke="#a4140a" stroke-opacity="0.40" stroke-width="0.9"/>
<path d="M6.5 421.1L7.9 413.4L10.4 405.8L13.9 398.2L18.4 391.3" stroke="#ee6248" stroke-opacity="0.19" stroke-width="1.0"/>
<path d="M248.7 636.0L241.3 631.7L233.3 626.4L225.4 620.3L218.3 613.4" stroke="#ee6248" stroke-opacity="0.26" stroke-width="0.8"/>
<path d="M511.2 369.7L512.7 374.0L514.1 378.3L515.6 382.6" stroke="#a4140a" stroke-opacity="0.30" stroke-width="0.8"/>
<path d="M185.8 244.5L190.0 246.5L194.1 248.7L198.3 251.1L202.4 253.7" stroke="#ee6248" stroke-opacity="0.24" stroke-width="0.8"/>
<path d="M280.3 241.2L286.3 244.6L291.9 248.6L297.5 253.1L303.2 258.1" stroke="#a4140a" stroke-opacity="0.39" stroke-width="0.9"/>
<path d="M192.8 609.4L188.8 603.2L185.1 596.9L181.6 590.5L178.3 584.2" stroke="#a4140a" stroke-opacity="0.28" stroke-width="1.2"/>
<path d="M267.1 260.2L271.7 264.5L276.0 268.8L280.4 272.9L285.0 276.6" stroke="#ee6248" stroke-opacity="0.42" stroke-width="0.9"/>
<path d="M453.8 316.1L455.5 319.5L457.0 323.1L458.4 326.8L459.8 330.6" stroke="#ee6248" stroke-opacity="0.26" stroke-width="0.9"/>
<path d="M208.5 261.3L212.8 264.4L217.0 267.4L221.2 270.3L225.4 272.9" stroke="#ee6248" stroke-opacity="0.19" stroke-width="0.8"/>
<path d="M99.9 522.4L99.1 515.2L98.2 508.2L97.1 501.6L95.7 495.2" stroke="#a4140a" stroke-opacity="0.30" stroke-width="0.7"/>
<path d="M59.6 494.5L59.4 489.4L59.4 484.3L59.3 479.2L59.4 474.2" stroke="#ee6248" stroke-opacity="0.41" stroke-width="1.1"/>
<path d="M34.4 404.5L37.5 399.9L40.5 395.7L43.5 392.0L46.3 388.6" stroke="#a4140a" stroke-opacity="0.35" stroke-width="1.0"/>
<path d="M85.0 529.2L84.2 520.0L83.6 510.9L83.2 501.8L82.6 493.1" stroke="#ee6248" stroke-opacity="0.45" stroke-width="1.2"/>
<path d="M24.8 410.1L29.3 402.6L34.1 395.9L39.1 390.2L44.0 385.1" stroke="#ee6248" stroke-opacity="0.46" stroke-width="0.8"/>
<path d="M406.4 302.0L408.4 306.3L410.3 310.6L412.2 314.8L414.1 318.9" stroke="#ee6248" stroke-opacity="0.37" stroke-width="0.9"/>
<path d="M383.3 285.0L387.2 291.6L390.7 298.2L394.1 304.7L397.6 310.9" stroke="#a4140a" stroke-opacity="0.21" stroke-width="0.7"/>
<path d="M40.4 398.3L43.0 394.5L45.6 391.2L48.0 387.9L50.3 384.4" stroke="#a4140a" stroke-opacity="0.31" stroke-width="0.7"/>
<path d="M194.7 613.7L191.6 609.3L188.7 604.9L185.9 600.3L183.3 595.7" stroke="#a4140a" stroke-opacity="0.27" stroke-width="1.4"/>
<path d="M472.0 325.6L474.1 329.5L476.1 333.6L478.0 337.9L479.8 342.3" stroke="#ee6248" stroke-opacity="0.35" stroke-width="0.9"/>
<path d="M98.5 275.0L103.4 274.9L108.2 275.0L112.9 275.4L117.5 275.8" stroke="#a4140a" stroke-opacity="0.16" stroke-width="1.0"/>
<path d="M98.6 528.1L98.0 522.1L97.4 516.1L96.8 510.4L96.1 504.7" stroke="#a4140a" stroke-opacity="0.19" stroke-width="0.8"/>
<path d="M436.4 317.6L437.9 322.0L439.4 326.4L441.0 330.8L442.6 335.0" stroke="#ee6248" stroke-opacity="0.23" stroke-width="0.6"/>
<path d="M96.3 515.7L95.4 507.0L94.2 498.8L92.6 491.1L90.4 483.9" stroke="#a4140a" stroke-opacity="0.29" stroke-width="1.2"/>
<path d="M104.2 268.8L109.0 268.8L113.9 269.1L118.7 269.7L123.4 270.5" stroke="#a4140a" stroke-opacity="0.27" stroke-width="0.8"/>
<path d="M63.5 469.1L63.3 463.4L63.1 458.0L62.7 452.8L62.1 447.7" stroke="#ee6248" stroke-opacity="0.40" stroke-width="0.8"/>
<path d="M163.1 576.3L159.8 568.3L156.7 560.8L153.4 553.7L150.0 547.1" stroke="#a4140a" stroke-opacity="0.22" stroke-width="1.1"/>
<path d="M233.7 247.5L236.6 249.6L239.5 251.7L242.4 253.9L245.4 256.1" stroke="#a4140a" stroke-opacity="0.29" stroke-width="0.9"/>
<path d="M52.9 477.7L53.0 471.3L53.3 465.1L53.6 458.9L53.9 452.9" stroke="#ee6248" stroke-opacity="0.19" stroke-width="0.8"/>
<path d="M192.9 620.2L187.3 613.2L182.1 605.6L177.4 597.7L173.1 589.5" stroke="#a4140a" stroke-opacity="0.35" stroke-width="0.8"/>
<path d="M267.9 254.7L271.3 257.8L274.5 260.9L277.6 264.1L280.7 267.2" stroke="#ee6248" stroke-opacity="0.21" stroke-width="1.0"/>
<path d="M493.9 371.9L495.6 376.0L497.4 380.0L499.4 383.8L501.7 387.5" stroke="#a4140a" stroke-opacity="0.31" stroke-width="0.9"/>
<path d="M94.6 282.4L102.0 282.3L109.3 282.5L116.3 282.9L122.7 283.4" stroke="#ee6248" stroke-opacity="0.34" stroke-width="0.8"/>
<path d="M201.0 269.0L205.1 271.3L209.1 273.5L213.1 275.5L217.1 277.2" stroke="#ee6248" stroke-opacity="0.43" stroke-width="0.9"/>
<path d="M43.9 346.6L49.2 344.4L54.5 342.3L59.6 340.1L64.5 337.8" stroke="#ee6248" stroke-opacity="0.31" stroke-width="0.8"/>
<path d="M87.6 501.1L86.8 493.7L85.8 486.6L84.4 479.8L82.5 473.4" stroke="#a4140a" stroke-opacity="0.37" stroke-width="1.0"/>
<path d="M280.3 270.0L285.6 274.7L291.2 278.9L296.7 282.5L302.2 285.4" stroke="#ee6248" stroke-opacity="0.24" stroke-width="0.6"/>
<path d="M503.2 348.0L506.1 353.2L508.7 358.7L510.9 364.5L512.9 370.3" stroke="#ee6248" stroke-opacity="0.22" stroke-width="0.8"/>
<path d="M164.2 601.4L160.3 594.5L156.9 587.4L153.9 580.1L151.2 572.8" stroke="#ee6248" stroke-opacity="0.34" stroke-width="1.1"/>
<path d="M39.9 350.6L46.5 347.7L53.0 345.0L59.3 342.3L65.3 339.3" stroke="#a4140a" stroke-opacity="0.32" stroke-width="0.8"/>
<path d="M206.9 267.0L211.7 270.1L216.5 273.0L221.2 275.5L226.1 277.7" stroke="#a4140a" stroke-opacity="0.28" stroke-width="0.9"/>
<path d="M246.1 607.1L240.2 602.3L234.6 597.5L229.5 592.9L225.1 588.6" stroke="#ee6248" stroke-opacity="0.25" stroke-width="1.1"/>
<path d="M346.8 254.8L351.3 258.0L355.5 261.8L359.3 265.9L362.8 270.3" stroke="#a4140a" stroke-opacity="0.34" stroke-width="1.0"/>
<path d="M199.6 624.8L192.8 617.4L186.7 609.1L181.2 600.3L176.3 591.2" stroke="#a4140a" stroke-opacity="0.33" stroke-width="1.3"/>
<path d="M430.5 326.8L433.4 333.6L436.7 339.9L440.2 345.6L444.1 350.8" stroke="#ee6248" stroke-opacity="0.17" stroke-width="0.6"/>
<path d="M270.4 596.1L265.6 593.5L262.7 591.1L258.8 588.7L253.9 586.6" stroke="#a4140a" stroke-opacity="0.36" stroke-width="1.1"/>
<path d="M14.8 385.5L18.3 381.3L22.1 377.6L26.0 374.1L30.1 370.9" stroke="#a4140a" stroke-opacity="0.37" stroke-width="0.7"/>
<path d="M78.2 285.0L81.8 284.6L85.5 284.3L89.1 284.1L92.8 284.0" stroke="#a4140a" stroke-opacity="0.38" stroke-width="0.8"/>
<path d="M370.3 271.5L373.1 275.2L375.7 279.0L378.3 283.0L380.8 287.0" stroke="#a4140a" stroke-opacity="0.44" stroke-width="0.8"/>
<path d="M472.3 355.7L474.6 360.6L477.0 365.4L479.5 369.8L482.2 373.8" stroke="#ee6248" stroke-opacity="0.40" stroke-width="0.8"/>
<path d="M199.0 268.3L204.6 271.5L209.9 274.3L215.2 276.7L220.6 278.6" stroke="#ee6248" stroke-opacity="0.18" stroke-width="0.7"/>
<path d="M127.0 256.9L134.3 258.5L141.2 261.0L147.7 263.9L153.9 266.9" stroke="#a4140a" stroke-opacity="0.20" stroke-width="1.0"/>
<path d="M476.7 364.0L478.2 366.8L479.8 369.5L481.4 372.1L483.1 374.5" stroke="#ee6248" stroke-opacity="0.15" stroke-width="0.7"/>
<path d="M219.4 626.8L213.6 622.0L208.8 616.8L204.5 611.3L200.6 605.7" stroke="#a4140a" stroke-opacity="0.29" stroke-width="0.9"/>
<path d="M117.0 274.8L120.9 275.4L124.6 276.0L128.2 276.8L131.7 277.5" stroke="#a4140a" stroke-opacity="0.41" stroke-width="1.0"/>
<path d="M440.9 311.1L442.8 315.9L444.5 320.7L446.3 325.7L448.0 330.7" stroke="#ee6248" stroke-opacity="0.23" stroke-width="1.0"/>
<path d="M48.0 448.7L48.7 440.5L49.4 432.9L50.7 427.3L52.3 422.3" stroke="#a4140a" stroke-opacity="0.20" stroke-width="1.1"/>
<path d="M226.2 242.2L230.2 244.6L234.2 247.2L238.1 250.1L242.0 253.0" stroke="#ee6248" stroke-opacity="0.31" stroke-width="0.6"/>
<path d="M102.5 565.0L99.8 557.6L97.5 549.9L95.8 542.0L94.6 533.9" stroke="#a4140a" stroke-opacity="0.41" stroke-width="0.8"/>
<path d="M222.9 237.6L227.7 239.4L232.4 241.8L236.9 244.4L241.4 247.4" stroke="#a4140a" stroke-opacity="0.45" stroke-width="0.6"/>
<path d="M40.8 483.2L40.4 479.1L40.1 475.0L40.1 470.8L40.1 466.6" stroke="#ee6248" stroke-opacity="0.32" stroke-width="0.7"/>
<path d="M41.4 453.8L42.0 448.3L42.7 442.9L43.4 437.7L44.3 433.0" stroke="#ee6248" stroke-opacity="0.36" stroke-width="0.9"/>
<path d="M286.4 255.4L290.7 259.8L295.2 264.2L299.7 268.5L304.1 272.8" stroke="#ee6248" stroke-opacity="0.25" stroke-width="0.6"/>
<path d="M462.3 342.4L464.9 349.5L467.8 356.2L471.0 362.6L474.7 368.3" stroke="#ee6248" stroke-opacity="0.48" stroke-width="1.0"/>
<path d="M25.3 459.3L25.3 452.6L25.7 445.7L26.6 438.4L28.6 431.4" stroke="#ee6248" stroke-opacity="0.30" stroke-width="0.8"/>
<path d="M475.9 337.8L478.6 344.7L481.3 351.7L484.0 358.8L486.9 365.8" stroke="#a4140a" stroke-opacity="0.30" stroke-width="1.0"/>
<path d="M133.6 567.6L131.4 559.5L129.4 551.6L127.5 544.0L125.6 536.7" stroke="#ee6248" stroke-opacity="0.17" stroke-width="1.0"/>
<path d="M91.6 299.7L96.2 299.4L100.8 299.0L105.1 298.5L109.3 297.9" stroke="#ee6248" stroke-opacity="0.23" stroke-width="0.9"/>
<path d="M511.4 351.3L514.8 356.9L517.5 362.7L520.0 368.9L522.3 375.4" stroke="#ee6248" stroke-opacity="0.17" stroke-width="0.6"/>
<path d="M461.2 349.4L463.0 353.5L465.0 357.4L467.0 361.1L469.3 364.6" stroke="#a4140a" stroke-opacity="0.40" stroke-width="0.7"/>
<path d="M90.2 292.2L94.6 292.1L98.8 292.0L103.0 291.9L107.1 291.7" stroke="#ee6248" stroke-opacity="0.24" stroke-width="0.6"/>
<path d="M263.5 255.6L267.3 258.9L270.8 262.3L274.3 265.7L277.6 269.0" stroke="#a4140a" stroke-opacity="0.19" stroke-width="0.7"/>
<path d="M18.4 447.0L18.4 442.1L18.8 437.0L19.8 432.1L21.3 427.8" stroke="#a4140a" stroke-opacity="0.18" stroke-width="1.0"/>
<path d="M141.1 602.4L136.4 596.6L132.3 590.3L128.8 583.6L125.8 576.6" stroke="#a4140a" stroke-opacity="0.41" stroke-width="0.9"/>
<path d="M261.8 608.8L254.4 602.3L246.4 596.7L239.2 591.7L232.9 587.2" stroke="#a4140a" stroke-opacity="0.35" stroke-width="1.3"/>
<path d="M443.9 315.6L445.9 320.9L447.8 326.3L449.6 331.8L451.5 337.2" stroke="#ee6248" stroke-opacity="0.39" stroke-width="0.9"/>
<path d="M129.8 274.3L135.0 275.7L139.7 277.2L144.2 278.7L148.7 279.9" stroke="#a4140a" stroke-opacity="0.23" stroke-width="0.6"/>
<path d="M488.8 361.7L490.4 365.8L492.0 369.7L493.6 373.5L495.3 377.2" stroke="#a4140a" stroke-opacity="0.44" stroke-width="0.6"/>
<path d="M190.3 598.9L187.4 593.8L184.5 588.7L181.8 583.6L179.2 578.8" stroke="#a4140a" stroke-opacity="0.32" stroke-width="1.2"/>
<path d="M156.4 610.1L151.3 604.0L146.6 597.3L142.7 590.0L139.3 582.4" stroke="#ee6248" stroke-opacity="0.18" stroke-width="1.0"/>
<path d="M257.5 240.8L264.2 244.2L270.6 248.4L276.5 253.4L281.8 258.7" stroke="#a4140a" stroke-opacity="0.44" stroke-width="0.9"/>
<path d="M53.4 337.4L58.1 335.6L62.7 333.7L67.1 332.0L71.2 330.4" stroke="#ee6248" stroke-opacity="0.36" stroke-width="0.9"/>
<path d="M433.3 299.7L436.4 305.3L439.0 311.2L441.4 317.4L443.6 323.7" stroke="#a4140a" stroke-opacity="0.15" stroke-width="0.8"/>
<path d="M248.7 267.2L252.0 269.5L255.3 271.7L258.4 273.7L261.3 275.7" stroke="#a4140a" stroke-opacity="0.26" stroke-width="1.0"/>
<path d="M260.0 641.1L251.2 637.0L243.5 632.2L234.5 626.4L225.7 619.5" stroke="#a4140a" stroke-opacity="0.28" stroke-width="0.9"/>
<path d="M242.1 239.0L245.9 240.6L249.8 242.4L253.8 244.5L258.0 247.0" stroke="#ee6248" stroke-opacity="0.36" stroke-width="0.9"/>
<path d="M397.8 306.3L400.6 311.4L403.4 316.3L406.4 320.8L409.4 324.9" stroke="#a4140a" stroke-opacity="0.27" stroke-width="1.0"/>
<path d="M131.5 546.1L130.0 540.7L128.4 535.6L126.7 530.6L124.8 526.0" stroke="#ee6248" stroke-opacity="0.39" stroke-width="0.8"/>
<path d="M109.1 555.3L107.3 546.6L105.9 537.9L104.7 529.4L103.7 521.1" stroke="#a4140a" stroke-opacity="0.19" stroke-width="1.2"/>
<path d="M102.5 296.0L108.2 295.5L113.5 294.9L118.5 294.1L123.1 293.2" stroke="#ee6248" stroke-opacity="0.22" stroke-width="1.0"/>
<path d="M288.8 272.8L292.4 275.8L296.0 278.6L299.6 281.2L303.1 283.5" stroke="#ee6248" stroke-opacity="0.38" stroke-width="0.8"/>
<path d="M60.6 498.9L60.4 493.6L60.3 488.3L60.2 482.9L60.2 477.6" stroke="#a4140a" stroke-opacity="0.45" stroke-width="0.7"/>
<path d="M296.9 251.5L301.4 255.3L305.9 259.3L310.4 263.7L314.8 268.2" stroke="#ee6248" stroke-opacity="0.38" stroke-width="0.7"/>
<path d="M43.3 440.4L44.8 432.6L47.2 426.7L49.2 419.1L50.5 412.3" stroke="#a4140a" stroke-opacity="0.21" stroke-width="1.2"/>
<path d="M328.0 274.8L330.8 278.0L333.5 281.0L336.0 283.9L338.5 286.8" stroke="#a4140a" stroke-opacity="0.22" stroke-width="0.9"/>
<path d="M293.4 267.5L297.1 271.0L300.8 274.4L304.5 277.6L308.0 280.6" stroke="#a4140a" stroke-opacity="0.42" stroke-width="0.8"/>
<path d="M172.6 614.6L169.4 610.8L166.4 606.7L163.6 602.5L161.0 598.0" stroke="#ee6248" stroke-opacity="0.19" stroke-width="1.2"/>
<path d="M246.0 634.8L237.7 629.9L229.2 624.0L221.1 617.1L214.2 609.3" stroke="#a4140a" stroke-opacity="0.33" stroke-width="1.4"/>
<path d="M238.2 596.0L233.7 592.4L229.6 589.0L226.3 586.0L223.0 583.1" stroke="#a4140a" stroke-opacity="0.39" stroke-width="1.3"/>
<path d="M89.9 307.1L94.3 306.5L98.5 305.9L102.6 305.0L106.6 303.9" stroke="#a4140a" stroke-opacity="0.34" stroke-width="1.1"/>
<path d="M252.4 610.0L246.0 604.8L239.8 599.9L234.2 595.2L229.2 590.7" stroke="#ee6248" stroke-opacity="0.24" stroke-width="1.0"/>
<path d="M44.0 494.0L42.7 486.3L42.0 478.1L41.9 469.8L42.2 461.4" stroke="#ee6248" stroke-opacity="0.18" stroke-width="1.1"/>
<path d="M139.2 267.5L144.3 269.7L149.3 271.8L154.2 273.9L158.9 275.8" stroke="#ee6248" stroke-opacity="0.50" stroke-width="0.6"/>
<path d="M458.4 348.5L460.4 353.0L462.6 357.2L465.0 361.2L467.6 364.8" stroke="#ee6248" stroke-opacity="0.37" stroke-width="0.6"/>
<path d="M376.6 271.8L379.4 275.3L382.0 278.9L384.6 282.7L387.0 286.7" stroke="#a4140a" stroke-opacity="0.42" stroke-width="0.8"/>
<path d="M418.9 292.8L422.6 299.4L425.9 306.5L428.7 313.7L431.2 321.0" stroke="#ee6248" stroke-opacity="0.25" stroke-width="0.6"/>
<path d="M507.0 358.6L509.3 364.7L511.4 370.9L513.5 377.2L515.6 383.3" stroke="#a4140a" stroke-opacity="0.37" stroke-width="0.6"/>
<path d="M449.3 340.8L451.3 345.9L453.6 350.7L456.2 355.3L459.2 359.6" stroke="#a4140a" stroke-opacity="0.23" stroke-width="0.8"/>
<path d="M44.0 342.7L48.8 340.7L53.7 338.9L58.4 336.9L63.0 335.0" stroke="#a4140a" stroke-opacity="0.17" stroke-width="0.6"/>
<path d="M227.4 633.9L221.2 630.1L215.0 625.5L209.6 620.4L204.9 614.8" stroke="#a4140a" stroke-opacity="0.18" stroke-width="1.2"/>
<path d="M133.0 255.7L137.2 257.0L141.3 258.4L145.3 260.1L149.2 261.9" stroke="#ee6248" stroke-opacity="0.17" stroke-width="0.9"/>
<path d="M242.2 248.7L247.5 252.5L253.0 256.6L258.4 260.8L263.5 265.1" stroke="#ee6248" stroke-opacity="0.48" stroke-width="1.0"/>
<path d="M249.0 248.1L253.4 251.0L257.8 254.2L262.0 257.6L266.1 261.1" stroke="#ee6248" stroke-opacity="0.48" stroke-width="1.0"/>
<path d="M88.5 284.5L96.4 284.3L104.2 284.3L111.8 284.5L118.9 284.8" stroke="#a4140a" stroke-opacity="0.34" stroke-width="1.0"/>
<path d="M35.4 388.7L40.7 383.6L45.7 378.8L50.1 374.7L54.1 370.8" stroke="#a4140a" stroke-opacity="0.41" stroke-width="1.1"/>
<path d="M380.5 269.1L384.3 272.9L387.9 277.1L391.2 281.7L394.2 286.5" stroke="#a4140a" stroke-opacity="0.38" stroke-width="0.7"/>
<path d="M503.8 350.4L505.9 354.4L507.8 358.7L509.5 363.1L511.1 367.6" stroke="#a4140a" stroke-opacity="0.39" stroke-width="1.0"/>
<path d="M272.7 627.7L268.1 624.0L263.6 620.2L258.7 616.1L254.2 612.0" stroke="#ee6248" stroke-opacity="0.41" stroke-width="1.2"/>
<path d="M74.8 287.9L81.2 287.2L87.7 286.8L94.1 286.6L100.6 286.5" stroke="#ee6248" stroke-opacity="0.34" stroke-width="0.9"/>
<path d="M49.2 346.4L53.7 344.6L58.1 342.7L62.3 340.7L66.4 338.6" stroke="#a4140a" stroke-opacity="0.44" stroke-width="0.6"/>
<path d="M306.4 247.5L310.9 250.2L315.4 253.4L319.7 257.0L323.8 260.9" stroke="#a4140a" stroke-opacity="0.22" stroke-width="1.0"/>
<path d="M213.9 240.7L219.9 243.8L225.6 247.5L231.1 251.6L236.7 256.0" stroke="#ee6248" stroke-opacity="0.34" stroke-width="0.6"/>
<path d="M176.8 243.6L182.4 245.9L187.9 248.7L193.5 251.9L199.0 255.3" stroke="#a4140a" stroke-opacity="0.31" stroke-width="0.9"/>
<path d="M375.6 291.1L378.7 296.1L381.7 300.9L384.7 305.4L387.8 309.6" stroke="#ee6248" stroke-opacity="0.29" stroke-width="0.9"/>
<path d="M288.8 246.3L293.0 249.5L297.3 252.9L301.6 256.6L305.9 260.6" stroke="#a4140a" stroke-opacity="0.20" stroke-width="1.0"/>
<path d="M388.3 287.3L390.0 290.3L391.6 293.3L393.2 296.3L394.7 299.3" stroke="#ee6248" stroke-opacity="0.47" stroke-width="0.6"/>
<path d="M33.4 362.3L37.5 360.0L41.6 357.9L45.7 356.0L49.8 354.1" stroke="#a4140a" stroke-opacity="0.20" stroke-width="0.9"/>
<path d="M212.4 241.8L217.1 244.4L221.7 247.3L226.2 250.5L230.6 254.0" stroke="#ee6248" stroke-opacity="0.42" stroke-width="0.9"/>
<path d="M87.8 293.8L93.7 293.7L99.4 293.5L104.9 293.2L110.1 292.9" stroke="#ee6248" stroke-opacity="0.38" stroke-width="0.7"/>
<path d="M356.4 273.1L360.7 279.7L365.0 286.3L369.4 292.6L373.6 298.5" stroke="#ee6248" stroke-opacity="0.31" stroke-width="1.0"/>
<path d="M198.0 260.3L202.4 263.2L206.7 266.1L210.9 268.9L215.0 271.5" stroke="#a4140a" stroke-opacity="0.43" stroke-width="0.7"/>
<path d="M371.9 298.7L373.7 301.1L375.5 303.3L377.3 305.3L379.1 307.3" stroke="#ee6248" stroke-opacity="0.19" stroke-width="0.9"/>
<path d="M201.3 584.4L197.5 579.4L193.9 574.8L190.4 570.6L186.5 566.7" stroke="#a4140a" stroke-opacity="0.21" stroke-width="1.0"/>
<path d="M403.6 296.6L405.9 301.4L408.1 306.3L410.2 311.0L412.3 315.7" stroke="#ee6248" stroke-opacity="0.35" stroke-width="0.7"/>
<path d="M76.6 537.4L75.3 532.9L74.3 528.4L73.4 523.7L72.8 519.0" stroke="#ee6248" stroke-opacity="0.35" stroke-width="1.2"/>
<path d="M8.3 371.5L11.8 366.4L16.0 361.5L20.6 357.2L25.6 353.5" stroke="#a4140a" stroke-opacity="0.28" stroke-width="1.1"/>
<path d="M465.0 348.7L467.4 354.6L470.1 360.2L473.0 365.4L476.2 370.1" stroke="#ee6248" stroke-opacity="0.39" stroke-width="0.6"/>
<path d="M505.7 346.9L509.4 352.6L512.6 358.9L515.2 365.5L517.6 372.3" stroke="#a4140a" stroke-opacity="0.39" stroke-width="0.7"/>
<path d="M69.1 515.9L68.4 507.3L68.0 498.5L67.8 489.7L67.7 481.1" stroke="#ee6248" stroke-opacity="0.48" stroke-width="0.9"/>
<path d="M211.8 268.4L216.8 271.6L221.8 274.4L226.8 276.9L232.0 278.8" stroke="#ee6248" stroke-opacity="0.31" stroke-width="0.7"/>
<path d="M137.3 252.6L141.1 253.8L144.8 255.1L148.5 256.7L152.0 258.3" stroke="#a4140a" stroke-opacity="0.35" stroke-width="1.0"/>
<path d="M149.0 570.1L146.2 561.4L143.4 553.1L140.5 545.3L137.5 538.2" stroke="#a4140a" stroke-opacity="0.21" stroke-width="0.9"/>
<path d="M50.9 323.6L56.7 321.5L62.6 319.7L68.3 318.4L73.9 317.3" stroke="#ee6248" stroke-opacity="0.44" stroke-width="1.1"/>
<path d="M377.5 294.9L380.4 299.6L383.3 304.0L386.2 308.1L389.2 312.0" stroke="#a4140a" stroke-opacity="0.33" stroke-width="0.8"/>
<path d="M30.5 412.5L32.4 408.9L34.4 405.5L36.4 402.3L38.5 399.3" stroke="#ee6248" stroke-opacity="0.20" stroke-width="1.0"/>
<path d="M96.0 546.0L95.2 541.8L94.4 537.4L93.8 533.1L93.4 528.7" stroke="#ee6248" stroke-opacity="0.49" stroke-width="1.0"/>
<path d="M124.2 569.3L121.5 559.6L119.4 549.9L117.5 540.5L115.7 531.4" stroke="#a4140a" stroke-opacity="0.27" stroke-width="0.9"/>
<path d="M341.9 258.9L345.2 262.1L348.2 265.4L351.1 268.9L353.7 272.5" stroke="#ee6248" stroke-opacity="0.45" stroke-width="0.8"/>
<path d="M160.5 261.9L166.7 265.3L172.8 268.6L178.7 271.6L184.6 274.3" stroke="#ee6248" stroke-opacity="0.21" stroke-width="1.0"/>
<path d="M255.7 598.9L248.7 594.3L242.4 590.4L236.7 586.9L231.8 583.9" stroke="#a4140a" stroke-opacity="0.33" stroke-width="0.9"/>
<path d="M27.6 447.2L28.9 437.8L31.8 429.0L35.5 420.7L39.0 412.9" stroke="#ee6248" stroke-opacity="0.33" stroke-width="0.8"/>
<path d="M341.9 279.3L344.9 283.4L347.8 287.4L350.9 291.2L354.0 294.8" stroke="#ee6248" stroke-opacity="0.17" stroke-width="0.7"/>
<path d="M42.4 466.4L43.0 457.6L43.9 449.0L44.9 440.6L46.0 433.0" stroke="#ee6248" stroke-opacity="0.49" stroke-width="1.0"/>
<path d="M318.1 280.2L321.7 283.4L325.2 286.2L328.6 288.9L331.9 291.2" stroke="#ee6248" stroke-opacity="0.39" stroke-width="0.8"/>
<path d="M12.5 442.1L12.5 435.3L13.6 429.6L15.2 425.0L17.0 419.7" stroke="#a4140a" stroke-opacity="0.34" stroke-width="1.1"/>
<path d="M117.5 255.4L124.0 255.7L130.6 256.7L137.0 258.4L142.9 260.7" stroke="#ee6248" stroke-opacity="0.16" stroke-width="1.0"/>
<path d="M45.6 320.5L52.6 317.6L59.9 315.2L67.1 313.5L74.3 312.4" stroke="#a4140a" stroke-opacity="0.17" stroke-width="0.7"/>
<path d="M10.2 416.5L12.3 410.1L15.1 403.9L18.5 397.8L22.5 392.3" stroke="#a4140a" stroke-opacity="0.41" stroke-width="1.0"/>
<path d="M48.9 502.0L47.5 494.7L46.5 487.0L46.1 479.0L46.1 471.0" stroke="#ee6248" stroke-opacity="0.34" stroke-width="1.1"/>
<path d="M54.6 505.3L54.0 501.4L53.5 497.5L53.2 493.4L52.9 489.3" stroke="#ee6248" stroke-opacity="0.45" stroke-width="0.7"/>
<path d="M56.3 517.7L54.1 511.2L52.4 504.3L51.3 497.2L50.5 489.8" stroke="#ee6248" stroke-opacity="0.29" stroke-width="0.8"/>
<path d="M25.4 356.1L30.9 352.7L36.5 349.9L42.1 347.4L47.8 345.1" stroke="#ee6248" stroke-opacity="0.19" stroke-width="1.0"/>
<path d="M131.2 575.3L129.4 569.6L127.8 563.8L126.3 558.0L125.0 552.3" stroke="#ee6248" stroke-opacity="0.39" stroke-width="1.0"/>
<path d="M89.7 533.5L89.0 527.5L88.5 521.4L88.1 515.4L87.8 509.5" stroke="#a4140a" stroke-opacity="0.22" stroke-width="1.2"/>
<path d="M132.7 261.1L137.1 262.6L141.4 264.3L145.5 266.1L149.5 267.9" stroke="#ee6248" stroke-opacity="0.32" stroke-width="1.0"/>
<path d="M134.3 589.2L130.4 580.9L127.2 572.3L124.6 563.4L122.5 554.6" stroke="#a4140a" stroke-opacity="0.23" stroke-width="0.9"/>
<path d="M51.5 324.8L58.5 322.3L65.4 320.3L72.2 318.8L78.7 317.6" stroke="#a4140a" stroke-opacity="0.35" stroke-width="0.7"/>
<path d="M456.9 341.5L458.5 345.8L460.1 350.0L462.0 354.1L464.0 358.0" stroke="#ee6248" stroke-opacity="0.46" stroke-width="0.6"/>
<path d="M223.7 242.1L229.6 245.6L235.3 249.7L241.0 254.0L246.9 258.4" stroke="#ee6248" stroke-opacity="0.41" stroke-width="0.7"/>
<path d="M101.9 290.6L107.1 290.5L112.2 290.3L116.9 290.2L121.3 290.0" stroke="#ee6248" stroke-opacity="0.38" stroke-width="1.0"/>
<path d="M32.8 462.9L33.2 454.1L34.2 445.3L35.8 436.7L38.5 429.2" stroke="#a4140a" stroke-opacity="0.36" stroke-width="1.0"/>
<path d="M380.2 300.1L381.8 302.6L383.4 304.9L385.0 307.2L386.7 309.4" stroke="#ee6248" stroke-opacity="0.35" stroke-width="0.9"/>
<path d="M181.8 607.8L178.5 602.4L175.4 597.0L172.5 591.4L169.8 585.8" stroke="#ee6248" stroke-opacity="0.32" stroke-width="1.2"/>
<path d="M106.8 276.8L113.1 277.2L119.2 277.8L124.9 278.8L130.3 279.7" stroke="#ee6248" stroke-opacity="0.15" stroke-width="0.7"/>
<path d="M7.4 420.5L9.0 413.6L11.3 406.6L14.5 399.7L18.6 393.3" stroke="#a4140a" stroke-opacity="0.30" stroke-width="0.8"/>
<path d="M247.2 243.8L249.9 245.4L252.7 247.1L255.6 248.9L258.4 250.9" stroke="#a4140a" stroke-opacity="0.28" stroke-width="0.9"/>
<path d="M82.7 547.9L80.6 542.4L78.9 536.8L77.5 531.0L76.6 525.0" stroke="#a4140a" stroke-opacity="0.18" stroke-width="0.8"/>
<path d="M73.7 300.6L81.1 300.0L88.4 299.6L95.5 299.2L102.3 298.7" stroke="#ee6248" stroke-opacity="0.37" stroke-width="0.8"/>
<path d="M258.5 242.5L263.6 245.3L268.6 248.6L273.2 252.4L277.5 256.5" stroke="#ee6248" stroke-opacity="0.16" stroke-width="0.8"/>
<path d="M100.2 535.2L99.4 528.0L98.7 520.9L98.0 514.1L97.2 507.4" stroke="#a4140a" stroke-opacity="0.27" stroke-width="1.3"/>
<path d="M117.9 263.3L125.0 264.4L131.8 266.1L138.3 268.3L144.4 270.8" stroke="#a4140a" stroke-opacity="0.26" stroke-width="0.8"/>
<path d="M87.3 533.0L86.8 528.8L86.4 524.5L86.1 520.2L85.8 516.0" stroke="#ee6248" stroke-opacity="0.25" stroke-width="1.0"/>
<path d="M253.0 617.2L248.1 613.0L243.1 608.9L238.2 604.8L233.6 600.8" stroke="#a4140a" stroke-opacity="0.37" stroke-width="1.1"/>
<path d="M248.3 241.4L255.0 244.9L261.9 249.2L268.5 254.3L274.4 259.9" stroke="#ee6248" stroke-opacity="0.48" stroke-width="0.7"/>
<path d="M110.9 282.9L117.5 283.3L123.6 283.8L129.3 284.3L134.5 284.8" stroke="#a4140a" stroke-opacity="0.28" stroke-width="0.9"/>
<path d="M459.7 326.5L461.6 331.7L463.4 337.0L465.2 342.4L467.1 347.7" stroke="#ee6248" stroke-opacity="0.29" stroke-width="0.8"/>
<path d="M447.1 305.5L450.2 310.3L453.0 315.6L455.6 321.2L457.9 327.2" stroke="#ee6248" stroke-opacity="0.36" stroke-width="0.6"/>
<path d="M117.7 570.0L116.3 565.9L115.2 561.8L114.1 557.6L113.2 553.5" stroke="#a4140a" stroke-opacity="0.41" stroke-width="1.0"/>
<path d="M148.0 261.8L152.3 263.9L156.4 266.0L160.5 268.1L164.6 270.2" stroke="#ee6248" stroke-opacity="0.35" stroke-width="0.9"/>
<path d="M77.8 532.2L76.5 524.2L75.6 516.1L75.2 507.8L74.9 499.6" stroke="#ee6248" stroke-opacity="0.17" stroke-width="0.8"/>
<path d="M88.4 533.0L87.5 525.3L86.9 517.5L86.5 509.9L86.0 502.4" stroke="#a4140a" stroke-opacity="0.42" stroke-width="0.9"/>
<path d="M333.2 257.6L336.9 260.9L340.5 264.6L343.8 268.4L346.9 272.5" stroke="#ee6248" stroke-opacity="0.29" stroke-width="0.7"/>
<path d="M6.7 425.9L7.9 416.9L10.6 408.0L14.6 399.3L19.8 391.3" stroke="#ee6248" stroke-opacity="0.47" stroke-width="1.1"/>
<path d="M81.3 302.5L87.9 302.1L94.3 301.6L100.5 301.0L106.4 300.1" stroke="#ee6248" stroke-opacity="0.33" stroke-width="1.0"/>
<path d="M8.0 433.4L8.6 428.8L9.5 424.1L10.6 418.9L12.2 413.7" stroke="#a4140a" stroke-opacity="0.43" stroke-width="1.0"/>
<path d="M146.3 568.1L144.0 561.0L141.9 554.2L139.7 547.8L137.5 541.7" stroke="#a4140a" stroke-opacity="0.41" stroke-width="1.3"/>
<path d="M242.1 264.5L247.7 268.4L253.2 271.9L258.3 275.1L263.0 278.0" stroke="#a4140a" stroke-opacity="0.41" stroke-width="1.0"/>
<path d="M449.7 320.1L451.0 323.4L452.2 326.8L453.4 330.2L454.5 333.7" stroke="#a4140a" stroke-opacity="0.31" stroke-width="0.8"/>
<path d="M393.1 271.8L398.1 276.3L402.5 281.3L406.5 286.9L410.1 292.9" stroke="#ee6248" stroke-opacity="0.39" stroke-width="0.8"/>
<path d="M235.1 248.2L238.7 250.8L242.4 253.6L246.1 256.4L249.9 259.2" stroke="#ee6248" stroke-opacity="0.46" stroke-width="0.8"/>
<path d="M248.4 247.5L254.9 251.9L261.3 256.8L267.4 262.1L273.0 267.5" stroke="#a4140a" stroke-opacity="0.26" stroke-width="0.9"/>
<path d="M149.6 272.0L153.5 273.6L157.4 275.2L161.1 276.7L164.9 278.0" stroke="#ee6248" stroke-opacity="0.22" stroke-width="0.7"/>
<path d="M415.2 289.7L418.2 294.6L421.0 299.9L423.5 305.5L425.8 311.1" stroke="#a4140a" stroke-opacity="0.27" stroke-width="0.6"/>
<path d="M325.4 256.2L329.2 259.6L332.9 263.2L336.4 267.0L339.8 271.0" stroke="#ee6248" stroke-opacity="0.38" stroke-width="0.6"/>
<path d="M145.1 242.2L152.3 242.8L159.4 244.3L166.5 246.8L173.5 250.0" stroke="#a4140a" stroke-opacity="0.27" stroke-width="0.6"/>
<path d="M280.9 271.9L284.4 275.0L288.1 277.7L291.7 280.3L295.4 282.5" stroke="#a4140a" stroke-opacity="0.24" stroke-width="1.0"/>
<path d="M283.4 258.2L288.8 263.7L294.3 269.0L299.8 274.1L305.2 278.8" stroke="#ee6248" stroke-opacity="0.47" stroke-width="0.9"/>
<path d="M343.6 268.2L348.0 274.1L352.1 280.0L356.0 285.9L360.0 291.6" stroke="#a4140a" stroke-opacity="0.19" stroke-width="0.8"/>
<path d="M51.5 446.0L51.7 441.4L51.8 437.0L51.9 432.9L52.2 429.4" stroke="#ee6248" stroke-opacity="0.17" stroke-width="0.9"/>
<path d="M155.1 255.7L161.9 259.2L168.5 262.8L175.0 266.5L181.5 270.0" stroke="#ee6248" stroke-opacity="0.31" stroke-width="1.0"/>
<path d="M177.4 259.7L181.4 262.1L185.4 264.4L189.3 266.7L193.2 269.0" stroke="#ee6248" stroke-opacity="0.37" stroke-width="0.6"/>
<path d="M249.2 637.4L243.4 634.2L237.1 630.6L230.7 626.3L224.4 621.4" stroke="#ee6248" stroke-opacity="0.37" stroke-width="0.8"/>
<path d="M48.5 481.0L48.5 476.4L48.6 471.7L48.8 467.1L49.0 462.6" stroke="#ee6248" stroke-opacity="0.16" stroke-width="1.2"/>
<path d="M209.9 248.6L212.8 250.5L215.7 252.6L218.5 254.7L221.3 256.9" stroke="#ee6248" stroke-opacity="0.31" stroke-width="1.0"/>
<path d="M39.9 458.3L40.7 450.7L41.6 443.3L42.7 436.2L44.4 430.3" stroke="#ee6248" stroke-opacity="0.33" stroke-width="1.1"/>
<path d="M175.1 590.8L173.0 586.6L171.0 582.5L169.1 578.4L167.4 574.4" stroke="#ee6248" stroke-opacity="0.17" stroke-width="1.1"/>
<path d="M465.8 332.1L467.0 335.4L468.1 338.8L469.3 342.1L470.5 345.5" stroke="#a4140a" stroke-opacity="0.31" stroke-width="0.7"/>
<path d="M480.2 364.3L482.1 368.1L484.0 371.6L486.0 374.9L488.0 378.0" stroke="#ee6248" stroke-opacity="0.36" stroke-width="0.9"/>
<path d="M24.3 396.4L27.3 392.7L30.4 389.3L33.6 386.1L36.7 383.2" stroke="#ee6248" stroke-opacity="0.42" stroke-width="0.7"/>
<path d="M50.0 460.4L50.3 456.5L50.6 452.6L50.9 448.8L51.1 445.1" stroke="#ee6248" stroke-opacity="0.25" stroke-width="0.8"/>
<path d="M39.0 373.2L41.9 371.2L44.7 369.3L47.4 367.5L50.1 365.9" stroke="#ee6248" stroke-opacity="0.37" stroke-width="0.7"/>
<path d="M413.4 306.5L414.9 310.0L416.3 313.4L417.7 316.7L419.1 320.0" stroke="#ee6248" stroke-opacity="0.41" stroke-width="0.7"/>
<path d="M108.4 291.5L112.1 291.4L115.7 291.2L119.3 290.9L122.5 290.7" stroke="#a4140a" stroke-opacity="0.16" stroke-width="0.6"/>
<path d="M79.9 497.5L79.5 491.1L79.0 484.9L78.3 478.9L77.3 473.1" stroke="#a4140a" stroke-opacity="0.20" stroke-width="0.8"/>
<path d="M129.4 271.0L134.5 272.5L139.2 274.2L143.9 275.9L148.4 277.5" stroke="#a4140a" stroke-opacity="0.35" stroke-width="0.7"/>
<path d="M57.2 502.9L56.5 494.9L56.2 486.8L56.1 478.6L56.3 470.5" stroke="#a4140a" stroke-opacity="0.41" stroke-width="0.8"/>
<path d="M49.3 330.5L55.4 328.2L61.4 326.1L67.3 324.3L72.9 322.9" stroke="#ee6248" stroke-opacity="0.19" stroke-width="1.0"/>
<path d="M194.7 591.8L189.8 583.7L185.1 576.0L180.3 568.9L175.7 562.6" stroke="#a4140a" stroke-opacity="0.30" stroke-width="1.2"/>
<path d="M44.8 349.6L51.8 346.7L58.5 343.7L65.0 340.5L70.7 337.3" stroke="#ee6248" stroke-opacity="0.26" stroke-width="0.8"/>
<path d="M29.6 368.2L32.9 366.0L36.2 363.9L39.6 362.1L42.9 360.4" stroke="#a4140a" stroke-opacity="0.21" stroke-width="0.8"/>
<path d="M68.1 294.0L73.6 293.1L79.1 292.5L84.6 292.2L90.1 292.0" stroke="#ee6248" stroke-opacity="0.17" stroke-width="0.9"/>
<path d="M193.4 240.9L197.3 242.5L201.3 244.3L205.2 246.4L209.0 248.7" stroke="#ee6248" stroke-opacity="0.44" stroke-width="0.6"/>
<path d="M155.1 258.5L159.5 260.8L163.8 263.2L168.1 265.5L172.3 267.9" stroke="#ee6248" stroke-opacity="0.49" stroke-width="0.8"/>
<path d="M241.7 250.8L246.8 254.5L252.0 258.4L257.1 262.4L261.9 266.3" stroke="#a4140a" stroke-opacity="0.19" stroke-width="0.7"/>
<path d="M71.4 282.7L76.3 281.5L81.3 280.6L86.5 280.0L91.7 279.6" stroke="#ee6248" stroke-opacity="0.45" stroke-width="0.8"/>
<path d="M63.3 508.1L62.7 500.5L62.5 492.7L62.4 484.9L62.3 477.1" stroke="#ee6248" stroke-opacity="0.21" stroke-width="1.1"/>
<path d="M326.4 265.6L331.5 271.1L336.2 276.7L340.5 282.2L344.7 287.6" stroke="#ee6248" stroke-opacity="0.40" stroke-width="1.0"/>
<path d="M115.4 573.9L112.8 567.2L110.6 560.0L108.9 552.8L107.4 545.5" stroke="#ee6248" stroke-opacity="0.39" stroke-width="0.7"/>
<path d="M122.1 555.2L120.0 545.5L118.1 536.1L116.1 527.3L114.2 519.1" stroke="#a4140a" stroke-opacity="0.42" stroke-width="0.8"/>
<path d="M116.5 581.7L113.1 575.5L110.1 568.9L107.7 562.1L105.7 555.1" stroke="#a4140a" stroke-opacity="0.31" stroke-width="1.2"/>
<path d="M104.5 520.8L103.8 516.1L103.0 511.4L102.2 506.9L101.1 502.5" stroke="#ee6248" stroke-opacity="0.30" stroke-width="1.0"/>
<path d="M501.1 344.1L503.3 347.5L505.5 351.1L507.5 354.9L509.3 358.9" stroke="#ee6248" stroke-opacity="0.29" stroke-width="0.7"/>
<path d="M112.5 260.1L120.5 260.5L128.5 261.8L136.1 264.1L143.2 267.0" stroke="#a4140a" stroke-opacity="0.41" stroke-width="0.6"/>
<path d="M169.6 242.6L176.1 244.9L182.6 247.8L189.0 251.3L195.4 255.2" stroke="#ee6248" stroke-opacity="0.19" stroke-width="0.7"/>
<path d="M36.9 329.5L40.6 327.8L44.3 326.2L48.1 324.6L52.0 323.1" stroke="#ee6248" stroke-opacity="0.26" stroke-width="1.1"/>
<path d="M87.8 510.0L87.5 504.6L87.1 499.3L86.6 494.1L85.9 489.1" stroke="#ee6248" stroke-opacity="0.16" stroke-width="0.8"/>
<path d="M83.4 300.0L90.5 299.7L97.5 299.2L104.1 298.6L110.2 297.7" stroke="#ee6248" stroke-opacity="0.32" stroke-width="1.0"/>
<path d="M405.4 289.0L406.9 291.8L408.5 294.6L409.9 297.5L411.3 300.5" stroke="#ee6248" stroke-opacity="0.41" stroke-width="0.7"/>
<path d="M84.4 273.0L91.5 271.6L98.9 270.8L106.5 270.6L114.3 271.0" stroke="#ee6248" stroke-opacity="0.33" stroke-width="0.7"/>
<path d="M113.9 252.7L118.6 252.1L123.4 251.8L128.3 252.1L133.2 252.8" stroke="#ee6248" stroke-opacity="0.25" stroke-width="0.6"/>
<path d="M126.5 271.4L133.8 273.4L140.4 275.6L146.8 277.8L153.0 279.6" stroke="#ee6248" stroke-opacity="0.36" stroke-width="0.7"/>
<path d="M115.6 579.8L111.9 572.5L108.9 564.7L106.5 556.7L104.6 548.4" stroke="#a4140a" stroke-opacity="0.20" stroke-width="1.0"/>
<path d="M187.3 239.2L193.4 241.1L199.7 243.7L205.9 247.0L211.9 250.9" stroke="#a4140a" stroke-opacity="0.33" stroke-width="0.9"/>
<path d="M502.8 359.1L505.3 365.8L507.5 372.7L509.8 379.4L512.4 385.9" stroke="#ee6248" stroke-opacity="0.38" stroke-width="1.0"/>
<path d="M252.1 244.7L257.4 247.9L262.7 251.6L267.7 255.7L272.3 260.0" stroke="#ee6248" stroke-opacity="0.26" stroke-width="0.9"/>
<path d="M115.1 563.5L112.7 553.9L110.8 544.3L109.3 534.8L107.9 525.7" stroke="#ee6248" stroke-opacity="0.22" stroke-width="1.0"/>
<path d="M394.8 300.3L397.9 306.3L401.0 312.1L404.2 317.5L407.6 322.4" stroke="#ee6248" stroke-opacity="0.24" stroke-width="1.0"/>
<path d="M152.5 591.0L148.7 582.3L145.5 573.4L142.8 564.7L140.2 556.2" stroke="#ee6248" stroke-opacity="0.38" stroke-width="1.0"/>
<path d="M101.0 515.8L100.4 511.1L99.7 506.5L98.8 502.0L97.8 497.8" stroke="#a4140a" stroke-opacity="0.37" stroke-width="1.0"/>
<path d="M223.8 239.9L227.7 241.9L231.6 244.1L235.3 246.6L239.1 249.3" stroke="#a4140a" stroke-opacity="0.27" stroke-width="0.9"/>
<path d="M413.1 285.2L417.2 290.6L420.8 296.7L424.1 303.2L426.9 310.0" stroke="#ee6248" stroke-opacity="0.48" stroke-width="0.8"/>
<path d="M361.6 274.1L364.7 278.9L367.9 283.7L371.0 288.6L374.1 293.2" stroke="#ee6248" stroke-opacity="0.20" stroke-width="0.7"/>
<path d="M60.6 521.4L59.1 516.7L57.9 511.7L57.0 506.7L56.3 501.4" stroke="#ee6248" stroke-opacity="0.46" stroke-width="0.7"/>
<path d="M103.3 537.6L102.1 528.3L101.1 519.2L100.0 510.5L98.6 502.2" stroke="#ee6248" stroke-opacity="0.16" stroke-width="1.2"/>
<path d="M270.5 246.9L274.9 250.4L279.1 254.2L283.0 258.1L286.9 262.1" stroke="#a4140a" stroke-opacity="0.26" stroke-width="1.0"/>
<path d="M305.6 277.3L309.0 280.2L312.4 283.0L316.0 285.5L319.6 287.8" stroke="#a4140a" stroke-opacity="0.29" stroke-width="0.9"/>
<path d="M314.9 273.5L318.4 277.1L322.0 280.4L325.4 283.6L328.8 286.6" stroke="#ee6248" stroke-opacity="0.44" stroke-width="0.9"/>
<path d="M464.0 355.5L465.8 358.9L467.7 362.2L469.7 365.2L471.9 368.1" stroke="#ee6248" stroke-opacity="0.40" stroke-width="0.9"/>
<path d="M201.0 266.8L204.7 269.0L208.2 271.2L211.7 273.2L215.2 275.0" stroke="#ee6248" stroke-opacity="0.32" stroke-width="0.7"/>
<path d="M151.1 264.3L154.9 266.3L158.7 268.2L162.4 270.1L166.1 271.9" stroke="#ee6248" stroke-opacity="0.50" stroke-width="0.7"/>
<path d="M248.9 604.4L242.8 599.7L237.2 595.3L232.0 591.2L227.5 587.3" stroke="#ee6248" stroke-opacity="0.46" stroke-width="1.0"/>
<path d="M468.3 333.8L469.5 337.0L470.6 340.4L471.8 343.8L473.0 347.1" stroke="#ee6248" stroke-opacity="0.27" stroke-width="0.9"/>
<path d="M93.5 545.0L91.9 536.0L90.8 526.9L90.1 517.9L89.5 509.0" stroke="#ee6248" stroke-opacity="0.19" stroke-width="0.7"/>
<path d="M285.1 272.9L290.3 277.1L295.5 280.9L300.7 284.0L305.8 286.6" stroke="#a4140a" stroke-opacity="0.35" stroke-width="0.9"/>
<path d="M243.5 632.9L236.0 628.3L228.5 622.8L221.6 616.6L215.3 609.7" stroke="#a4140a" stroke-opacity="0.35" stroke-width="0.9"/>
<path d="M462.5 352.0L464.0 355.2L465.6 358.3L467.2 361.3L469.0 364.1" stroke="#ee6248" stroke-opacity="0.25" stroke-width="0.9"/>
<path d="M415.6 304.3L417.2 308.2L418.8 312.0L420.3 315.8L421.7 319.5" stroke="#ee6248" stroke-opacity="0.20" stroke-width="1.0"/>
<path d="M340.6 267.1L344.1 271.3L347.3 275.8L350.4 280.2L353.4 284.6" stroke="#ee6248" stroke-opacity="0.26" stroke-width="0.6"/>
<path d="M356.4 275.1L358.8 278.7L361.2 282.4L363.6 286.1L366.0 289.6" stroke="#ee6248" stroke-opacity="0.24" stroke-width="0.7"/>
<path d="M24.7 345.3L30.8 341.5L37.3 338.3L43.9 335.5L50.6 332.9" stroke="#ee6248" stroke-opacity="0.26" stroke-width="1.0"/>
<path d="M468.5 351.1L470.1 355.1L471.9 358.9L473.8 362.6L475.7 366.1" stroke="#ee6248" stroke-opacity="0.22" stroke-width="0.9"/>
<path d="M68.9 484.7L68.7 479.3L68.5 474.1L68.2 469.1L67.8 464.2" stroke="#ee6248" stroke-opacity="0.41" stroke-width="1.1"/>
<path d="M183.8 616.6L177.6 608.4L172.1 599.5L167.3 590.1L163.0 580.7" stroke="#ee6248" stroke-opacity="0.18" stroke-width="1.1"/>
<path d="M472.4 325.0L474.9 329.2L477.1 333.7L479.1 338.4L481.2 343.3" stroke="#a4140a" stroke-opacity="0.20" stroke-width="0.6"/>
<path d="M444.9 303.7L447.0 306.9L449.0 310.3L450.9 313.8L452.6 317.5" stroke="#a4140a" stroke-opacity="0.24" stroke-width="0.5"/>
<path d="M176.1 247.5L179.6 249.2L183.2 251.1L186.7 253.1L190.2 255.2" stroke="#a4140a" stroke-opacity="0.20" stroke-width="0.9"/>
<path d="M431.8 327.6L433.2 331.3L434.8 334.8L436.5 338.2L438.2 341.4" stroke="#ee6248" stroke-opacity="0.16" stroke-width="1.0"/>
<path d="M435.1 318.6L436.3 322.1L437.6 325.7L438.8 329.2L440.1 332.6" stroke="#ee6248" stroke-opacity="0.35" stroke-width="0.7"/>
<path d="M13.8 438.6L14.3 432.7L15.7 428.2L17.3 423.8L19.0 419.1" stroke="#ee6248" stroke-opacity="0.33" stroke-width="0.9"/>
<path d="M517.6 354.7L520.5 359.7L523.3 365.1L525.8 370.9" stroke="#a4140a" stroke-opacity="0.33" stroke-width="0.8"/>
<path d="M434.7 329.2L435.9 332.3L437.2 335.4L438.6 338.3L440.0 341.1" stroke="#a4140a" stroke-opacity="0.15" stroke-width="0.8"/>
<path d="M173.4 266.4L177.8 268.8L182.1 271.1L186.4 273.1L190.7 274.9" stroke="#ee6248" stroke-opacity="0.35" stroke-width="0.6"/>
<path d="M39.6 380.5L45.0 375.8L49.9 371.8L54.4 368.1L58.7 364.1" stroke="#ee6248" stroke-opacity="0.43" stroke-width="1.1"/>
<path d="M469.4 325.5L471.5 330.0L473.6 334.7L475.5 339.6L477.4 344.7" stroke="#a4140a" stroke-opacity="0.35" stroke-width="0.8"/>
<path d="M245.9 245.2L248.7 246.9L251.5 248.7L254.4 250.7L257.3 252.7" stroke="#a4140a" stroke-opacity="0.25" stroke-width="0.8"/>
<path d="M209.4 258.5L212.9 261.0L216.3 263.6L219.7 266.1L223.1 268.6" stroke="#a4140a" stroke-opacity="0.26" stroke-width="0.9"/>
<path d="M489.7 353.7L491.5 358.2L493.2 362.8L494.9 367.3L496.6 371.7" stroke="#a4140a" stroke-opacity="0.30" stroke-width="0.8"/>
<path d="M310.0 276.4L313.8 279.9L317.7 283.2L321.6 286.1L325.3 288.7" stroke="#ee6248" stroke-opacity="0.35" stroke-width="0.7"/>
<path d="M241.5 603.8L236.9 599.9L232.7 596.2L228.8 592.6L225.2 589.1" stroke="#a4140a" stroke-opacity="0.30" stroke-width="1.0"/>
<path d="M6.5 427.2L7.2 420.7L8.6 414.1L10.8 407.5L13.7 400.9" stroke="#a4140a" stroke-opacity="0.18" stroke-width="0.7"/>
<path d="M133.1 265.0L139.3 267.2L145.2 269.7L150.9 272.2L156.4 274.6" stroke="#ee6248" stroke-opacity="0.16" stroke-width="0.8"/>
<path d="M54.4 516.0L52.0 509.6L50.2 502.8L48.9 495.8L48.0 488.4" stroke="#a4140a" stroke-opacity="0.27" stroke-width="0.8"/>
<path d="M154.4 267.3L160.4 270.3L166.4 273.1L172.3 275.6L178.0 277.6" stroke="#a4140a" stroke-opacity="0.28" stroke-width="0.9"/>
<path d="M66.8 521.2L65.5 513.3L64.8 505.1L64.4 496.8L64.2 488.4" stroke="#a4140a" stroke-opacity="0.21" stroke-width="0.8"/>
<path d="M274.6 621.8L270.1 617.9L265.6 614.0L261.1 610.2" stroke="#a4140a" stroke-opacity="0.36" stroke-width="0.9"/>
<path d="M198.6 587.8L195.1 582.5L191.6 577.4L188.1 572.6L184.7 568.3" stroke="#ee6248" stroke-opacity="0.49" stroke-width="1.2"/>
<path d="M5.1 413.8L6.6 407.2L8.9 400.3L12.2 393.8L16.2 387.7" stroke="#ee6248" stroke-opacity="0.16" stroke-width="1.1"/>
<path d="M31.8 353.2L38.7 349.8L45.7 346.8L52.6 344.0L59.3 341.1" stroke="#a4140a" stroke-opacity="0.33" stroke-width="0.8"/>
<path d="M151.3 606.1L147.5 601.3L144.1 596.1L140.9 590.4L138.3 584.7" stroke="#a4140a" stroke-opacity="0.36" stroke-width="0.9"/>
<path d="M187.4 616.6L182.7 610.4L178.3 603.7L174.3 596.8L170.7 589.7" stroke="#a4140a" stroke-opacity="0.31" stroke-width="0.9"/>
<path d="M216.6 242.1L222.0 245.2L227.2 248.8L232.3 252.7L237.4 256.7" stroke="#a4140a" stroke-opacity="0.34" stroke-width="0.8"/>
<path d="M37.3 431.2L40.7 423.5L43.6 415.5L46.3 408.4L48.6 402.1" stroke="#a4140a" stroke-opacity="0.32" stroke-width="0.7"/>
<path d="M16.6 421.8L18.5 416.5L20.9 411.4L23.5 406.5L26.4 401.8" stroke="#ee6248" stroke-opacity="0.36" stroke-width="0.8"/>
<path d="M40.3 490.7L39.2 485.4L38.5 480.1L38.0 474.6L37.9 469.0" stroke="#ee6248" stroke-opacity="0.32" stroke-width="1.2"/>
<path d="M500.5 351.7L503.5 358.6L506.2 365.8L508.6 373.1L511.1 380.3" stroke="#ee6248" stroke-opacity="0.34" stroke-width="0.8"/>
<path d="M485.5 363.9L487.1 367.6L488.8 371.2L490.5 374.7L492.1 377.9" stroke="#ee6248" stroke-opacity="0.21" stroke-width="0.8"/>
<path d="M371.3 264.3L374.0 266.8L376.6 269.5L379.2 272.4L381.7 275.5" stroke="#a4140a" stroke-opacity="0.44" stroke-width="0.8"/>
<path d="M234.0 242.0L240.1 245.7L246.3 249.8L252.6 254.4L259.0 259.2" stroke="#a4140a" stroke-opacity="0.35" stroke-width="0.6"/>
<path d="M405.4 304.2L408.0 309.8L410.6 315.3L413.1 320.5L415.7 325.3" stroke="#a4140a" stroke-opacity="0.20" stroke-width="0.9"/>
<path d="M177.1 585.7L175.2 581.8L173.2 577.9L171.4 574.2L169.7 570.5" stroke="#a4140a" stroke-opacity="0.30" stroke-width="0.9"/>
<path d="M308.3 251.7L313.9 256.2L319.2 261.1L324.4 266.4L329.4 271.9" stroke="#ee6248" stroke-opacity="0.48" stroke-width="1.0"/>
<path d="M37.9 432.3L40.9 425.6L43.6 417.9L46.0 411.3L48.1 405.2" stroke="#ee6248" stroke-opacity="0.28" stroke-width="0.8"/>
<path d="M512.4 353.8L515.6 360.0L518.2 366.4L520.8 373.3" stroke="#ee6248" stroke-opacity="0.48" stroke-width="0.9"/>
<path d="M120.8 560.7L119.0 552.6L117.3 544.6L115.8 536.8L114.4 529.3" stroke="#ee6248" stroke-opacity="0.15" stroke-width="0.9"/>
<path d="M408.6 282.3L410.8 285.0L412.8 287.7L414.8 290.7L416.6 293.7" stroke="#a4140a" stroke-opacity="0.30" stroke-width="0.8"/>
<path d="M27.3 364.8L34.4 360.4L41.5 356.7L48.6 353.5L55.5 350.3" stroke="#ee6248" stroke-opacity="0.45" stroke-width="0.8"/>
<path d="M115.8 278.5L120.2 279.1L124.5 279.7L128.6 280.4L132.6 281.0" stroke="#a4140a" stroke-opacity="0.36" stroke-width="0.9"/>
<path d="M46.3 456.7L46.8 451.5L47.3 446.4L47.8 441.4L48.2 436.6" stroke="#a4140a" stroke-opacity="0.15" stroke-width="0.7"/>
<path d="M159.5 262.7L164.4 265.4L169.3 268.0L174.1 270.5L178.8 272.8" stroke="#a4140a" stroke-opacity="0.44" stroke-width="0.8"/>
<path d="M342.5 265.9L346.6 270.9L350.4 276.2L353.9 281.5L357.4 286.7" stroke="#ee6248" stroke-opacity="0.19" stroke-width="1.0"/>
<path d="M384.2 274.6L387.8 279.3L391.1 284.2L394.1 289.3L396.8 294.6" stroke="#ee6248" stroke-opacity="0.21" stroke-width="0.7"/>
<path d="M11.8 446.5L10.9 439.1L11.3 432.2L12.7 427.0L14.3 421.4" stroke="#a4140a" stroke-opacity="0.40" stroke-width="1.0"/>
<path d="M9.4 425.6L11.4 416.8L14.7 408.1L19.1 399.7L24.6 392.1" stroke="#a4140a" stroke-opacity="0.22" stroke-width="0.8"/>
<path d="M491.9 343.2L493.5 346.3L495.0 349.6L496.4 352.9L497.9 356.3" stroke="#ee6248" stroke-opacity="0.42" stroke-width="0.9"/>
<path d="M70.3 315.9L76.2 314.9L81.8 314.0L87.2 313.1L92.4 312.1" stroke="#ee6248" stroke-opacity="0.19" stroke-width="1.1"/>
<path d="M41.3 464.4L42.0 455.0L43.0 445.8L44.2 437.1L46.1 429.9" stroke="#ee6248" stroke-opacity="0.49" stroke-width="1.0"/>
<path d="M152.1 575.0L148.8 565.5L145.7 556.4L142.7 547.9L139.3 540.0" stroke="#a4140a" stroke-opacity="0.36" stroke-width="0.7"/>
<path d="M511.9 360.1L513.1 363.2L514.2 366.2L515.2 369.3L516.3 372.5" stroke="#a4140a" stroke-opacity="0.44" stroke-width="0.9"/>
<path d="M272.7 635.7L266.3 631.4L259.7 626.7" stroke="#ee6248" stroke-opacity="0.46" stroke-width="1.3"/>
<path d="M499.7 363.9L502.1 370.7L504.4 377.4L507.1 383.8L510.0 389.9" stroke="#ee6248" stroke-opacity="0.19" stroke-width="0.9"/>
<path d="M20.3 437.5L22.3 429.5L25.2 422.8L28.3 416.0L31.7 409.6" stroke="#a4140a" stroke-opacity="0.28" stroke-width="0.9"/>
<path d="M147.9 580.7L145.9 575.1L144.1 569.6L142.4 564.1L140.8 558.8" stroke="#a4140a" stroke-opacity="0.35" stroke-width="0.8"/>
<path d="M501.4 372.2L502.8 376.1L504.3 380.0L506.0 383.8L507.7 387.4" stroke="#ee6248" stroke-opacity="0.32" stroke-width="0.7"/>
<path d="M147.0 261.0L153.3 264.1L159.5 267.2L165.5 270.3L171.5 273.2" stroke="#ee6248" stroke-opacity="0.40" stroke-width="0.7"/>
<path d="M497.2 370.0L499.1 375.2L501.1 380.3L503.5 385.2L506.1 389.7" stroke="#a4140a" stroke-opacity="0.21" stroke-width="0.6"/>
<path d="M114.5 562.5L113.3 557.7L112.2 553.0L111.2 548.2L110.3 543.4" stroke="#ee6248" stroke-opacity="0.37" stroke-width="0.8"/>
<path d="M4.2 390.4L7.2 383.7L11.0 377.9L15.3 372.7L20.1 367.9" stroke="#a4140a" stroke-opacity="0.33" stroke-width="1.1"/>
<path d="M65.1 490.9L65.0 485.2L64.9 479.6L64.8 474.1L64.7 468.7" stroke="#ee6248" stroke-opacity="0.26" stroke-width="0.7"/>
<path d="M481.7 357.4L483.1 360.8L484.5 364.1L485.9 367.4L487.4 370.5" stroke="#a4140a" stroke-opacity="0.26" stroke-width="1.0"/>
<path d="M115.1 285.7L119.1 285.9L122.9 286.0L126.5 286.2L130.1 286.3" stroke="#ee6248" stroke-opacity="0.28" stroke-width="0.6"/>
<path d="M26.0 404.9L29.5 399.6L33.2 394.8L36.9 390.6L40.7 386.7" stroke="#a4140a" stroke-opacity="0.23" stroke-width="0.8"/>
<path d="M23.8 413.6L26.1 409.2L28.6 405.0L31.2 401.0L33.9 397.3" stroke="#ee6248" stroke-opacity="0.48" stroke-width="0.9"/>
<path d="M186.1 239.7L189.6 240.8L193.1 242.1L196.6 243.6L200.1 245.3" stroke="#ee6248" stroke-opacity="0.43" stroke-width="0.6"/>
<path d="M119.3 253.9L124.2 253.9L129.1 254.5L133.9 255.5L138.5 256.9" stroke="#a4140a" stroke-opacity="0.34" stroke-width="1.0"/>
<path d="M195.3 237.4L200.0 238.7L204.8 240.3L209.5 242.4L214.1 244.9" stroke="#ee6248" stroke-opacity="0.26" stroke-width="0.8"/>
<path d="M172.5 244.0L177.8 246.1L183.0 248.6L188.2 251.5L193.3 254.6" stroke="#ee6248" stroke-opacity="0.33" stroke-width="0.7"/>
<path d="M125.0 549.4L123.7 543.5L122.4 537.8L121.0 532.3L119.6 527.1" stroke="#a4140a" stroke-opacity="0.32" stroke-width="1.2"/>
<path d="M433.6 310.0L435.1 313.9L436.5 317.8L437.8 321.8L439.2 325.7" stroke="#a4140a" stroke-opacity="0.34" stroke-width="0.9"/>
<path d="M443.5 329.9L445.5 335.5L447.6 341.0L449.9 346.2L452.4 351.2" stroke="#a4140a" stroke-opacity="0.21" stroke-width="0.8"/>
<path d="M373.5 293.2L377.4 299.0L381.2 304.3L384.9 309.2L389.0 313.7" stroke="#a4140a" stroke-opacity="0.23" stroke-width="0.7"/>
<path d="M511.1 363.7L513.3 370.2L515.6 376.7" stroke="#a4140a" stroke-opacity="0.30" stroke-width="0.7"/>
<path d="M134.2 244.4L141.5 244.7L148.3 245.9L155.1 247.8L161.8 250.5" stroke="#a4140a" stroke-opacity="0.16" stroke-width="0.9"/>
<path d="M125.4 590.0L121.7 584.3L118.5 578.3L115.8 572.1L113.5 565.5" stroke="#a4140a" stroke-opacity="0.18" stroke-width="0.8"/>
<path d="M423.2 316.1L425.6 322.5L428.1 328.6L430.9 334.4L434.0 339.8" stroke="#ee6248" stroke-opacity="0.30" stroke-width="0.7"/>
<path d="M178.3 259.7L184.3 263.4L190.3 266.9L196.1 270.2L201.8 273.1" stroke="#a4140a" stroke-opacity="0.32" stroke-width="0.8"/>
<path d="M12.5 416.9L14.5 411.6L16.8 406.4L19.6 401.4L22.7 396.7" stroke="#a4140a" stroke-opacity="0.38" stroke-width="1.0"/>
<path d="M60.1 516.9L58.5 509.4L57.5 501.5L56.9 493.5L56.7 485.3" stroke="#a4140a" stroke-opacity="0.15" stroke-width="0.8"/>
<path d="M361.9 284.3L364.4 288.0L366.9 291.6L369.4 295.0L371.8 298.3" stroke="#a4140a" stroke-opacity="0.33" stroke-width="0.9"/>
<path d="M79.9 287.6L85.0 287.2L90.1 287.0L95.1 286.9L100.2 286.9" stroke="#ee6248" stroke-opacity="0.18" stroke-width="0.9"/>
<path d="M261.0 262.6L263.6 264.8L266.0 267.0L268.3 269.1L270.7 271.2" stroke="#ee6248" stroke-opacity="0.19" stroke-width="0.8"/>
<path d="M500.4 357.7L502.2 362.4L503.8 367.0L505.4 371.7L507.0 376.4" stroke="#a4140a" stroke-opacity="0.44" stroke-width="0.7"/>
<path d="M367.7 297.6L369.9 300.1L372.0 302.6L374.2 304.8L376.3 306.9" stroke="#ee6248" stroke-opacity="0.43" stroke-width="0.7"/>
<path d="M78.2 309.1L82.1 308.7L85.9 308.3L89.7 307.8L93.3 307.4" stroke="#ee6248" stroke-opacity="0.35" stroke-width="0.7"/>
<path d="M394.9 296.3L398.3 303.0L401.6 309.6L404.9 315.7L408.4 321.4" stroke="#ee6248" stroke-opacity="0.19" stroke-width="1.0"/>
<path d="M394.9 287.7L398.2 293.9L401.3 300.3L404.3 306.5L407.2 312.6" stroke="#a4140a" stroke-opacity="0.38" stroke-width="0.8"/>
<path d="M208.6 263.5L213.5 267.0L218.4 270.3L223.3 273.3L228.3 276.0" stroke="#ee6248" stroke-opacity="0.39" stroke-width="0.8"/>
<path d="M29.7 479.0L28.5 474.4L27.7 469.5L27.1 464.6L26.9 459.6" stroke="#a4140a" stroke-opacity="0.41" stroke-width="1.1"/>
<path d="M157.2 611.3L151.2 604.8L146.1 597.5L141.6 589.5L138.1 581.1" stroke="#ee6248" stroke-opacity="0.25" stroke-width="0.8"/>
<path d="M163.9 610.3L160.7 606.1L157.7 601.6L154.9 597.0L152.3 592.1" stroke="#ee6248" stroke-opacity="0.43" stroke-width="1.3"/>
<path d="M452.2 320.2L454.5 326.1L456.6 332.2L458.6 338.3L460.7 344.4" stroke="#ee6248" stroke-opacity="0.17" stroke-width="0.6"/>
<path d="M71.9 476.9L71.2 469.7L70.3 463.0L69.2 456.7L67.7 450.9" stroke="#ee6248" stroke-opacity="0.40" stroke-width="1.0"/>
<path d="M240.5 629.2L232.7 623.7L225.1 617.4L218.3 610.4L212.6 602.9" stroke="#ee6248" stroke-opacity="0.46" stroke-width="1.4"/>
<path d="M416.6 286.5L419.8 290.7L422.8 295.3L425.6 300.2L428.0 305.4" stroke="#a4140a" stroke-opacity="0.42" stroke-width="0.6"/>
<path d="M384.9 274.7L388.5 279.3L391.8 284.3L394.8 289.4L397.6 294.7" stroke="#a4140a" stroke-opacity="0.38" stroke-width="0.7"/>
<path d="M197.9 241.6L205.0 244.9L212.0 249.1L218.6 253.8L225.1 258.9" stroke="#a4140a" stroke-opacity="0.27" stroke-width="1.0"/>
<path d="M312.1 278.4L314.9 280.9L317.9 283.3L320.7 285.5L323.6 287.5" stroke="#ee6248" stroke-opacity="0.18" stroke-width="0.7"/>
<path d="M35.0 356.3L40.6 353.6L46.1 351.2L51.6 348.8L56.8 346.4" stroke="#a4140a" stroke-opacity="0.23" stroke-width="0.7"/>
<path d="M27.2 354.2L32.5 351.2L37.9 348.6L43.3 346.2L48.8 344.0" stroke="#a4140a" stroke-opacity="0.23" stroke-width="0.8"/>
<path d="M69.3 515.7L68.8 509.6L68.4 503.4L68.2 497.2L68.1 491.0" stroke="#a4140a" stroke-opacity="0.23" stroke-width="0.8"/>
<path d="M301.4 276.2L304.2 278.6L306.9 280.8L309.6 282.8L312.3 284.8" stroke="#ee6248" stroke-opacity="0.20" stroke-width="0.9"/>
<path d="M78.2 508.1L78.0 502.9L77.8 497.8L77.6 492.7L77.4 487.7" stroke="#a4140a" stroke-opacity="0.24" stroke-width="1.1"/>
<path d="M117.7 571.0L115.8 565.3L114.2 559.5L112.8 553.7L111.7 547.8" stroke="#a4140a" stroke-opacity="0.35" stroke-width="1.2"/>
<path d="M105.4 533.8L104.3 525.8L103.4 518.0L102.2 510.6L100.8 503.5" stroke="#a4140a" stroke-opacity="0.35" stroke-width="0.7"/>
<path d="M123.9 573.5L121.4 565.3L119.3 557.0L117.5 548.7L115.9 540.6" stroke="#ee6248" stroke-opacity="0.29" stroke-width="1.0"/>
<path d="M474.6 323.8L478.0 328.6L481.0 333.7L483.8 339.4L486.6 345.4" stroke="#a4140a" stroke-opacity="0.23" stroke-width="1.0"/>
<path d="M41.7 441.6L42.7 435.7L44.1 430.5L46.1 426.5L47.7 421.2" stroke="#a4140a" stroke-opacity="0.22" stroke-width="1.0"/>
<path d="M125.9 564.4L124.1 557.4L122.5 550.4L121.1 543.5L119.7 536.8" stroke="#a4140a" stroke-opacity="0.29" stroke-width="1.2"/>
<path d="M30.8 334.9L37.4 331.4L44.4 328.3L51.5 325.5L58.8 322.9" stroke="#ee6248" stroke-opacity="0.32" stroke-width="0.9"/>
<path d="M384.9 286.9L387.5 291.4L389.9 295.9L392.2 300.3L394.5 304.6" stroke="#ee6248" stroke-opacity="0.40" stroke-width="0.9"/>
<path d="M164.7 600.5L159.8 591.4L155.6 581.8L152.0 572.3L148.8 563.0" stroke="#a4140a" stroke-opacity="0.31" stroke-width="0.8"/>
<path d="M143.0 265.3L146.6 266.9L150.1 268.5L153.6 270.2L157.0 271.8" stroke="#a4140a" stroke-opacity="0.21" stroke-width="0.9"/>
<path d="M25.5 467.5L24.9 462.5L24.7 457.4L24.7 452.2L24.9 446.8" stroke="#ee6248" stroke-opacity="0.31" stroke-width="0.8"/>
<path d="M304.7 269.5L309.5 274.3L314.4 278.9L319.3 283.1L324.0 286.8" stroke="#a4140a" stroke-opacity="0.23" stroke-width="0.7"/>
<path d="M157.2 593.6L155.0 589.0L152.9 584.4L151.1 579.7L149.4 575.0" stroke="#a4140a" stroke-opacity="0.43" stroke-width="1.2"/>
<path d="M143.3 602.8L139.3 597.8L136.0 592.6L133.0 587.2L130.3 581.4" stroke="#a4140a" stroke-opacity="0.24" stroke-width="1.2"/>
<path d="M299.5 261.9L303.1 265.4L306.7 268.9L310.2 272.4L313.6 275.9" stroke="#ee6248" stroke-opacity="0.49" stroke-width="0.6"/>
<path d="M54.7 504.8L53.6 496.2L53.1 487.4L52.9 478.4L53.1 469.4" stroke="#a4140a" stroke-opacity="0.23" stroke-width="0.8"/>
<path d="M426.6 322.1L427.7 325.1L429.0 328.2L430.3 331.1L431.6 334.0" stroke="#a4140a" stroke-opacity="0.33" stroke-width="0.8"/>
<path d="M264.1 239.8L268.6 241.8L272.8 244.2L276.8 247.0L280.5 250.0" stroke="#ee6248" stroke-opacity="0.39" stroke-width="0.8"/>
<path d="M84.6 276.4L91.6 275.5L98.9 275.0L106.3 275.0L113.6 275.5" stroke="#ee6248" stroke-opacity="0.25" stroke-width="0.9"/>
<path d="M359.4 275.6L363.0 281.3L366.7 286.9L370.4 292.3L374.0 297.4" stroke="#ee6248" stroke-opacity="0.24" stroke-width="0.6"/>
<path d="M122.0 287.1L124.7 287.2L127.5 287.2L130.1 287.3L132.6 287.3" stroke="#ee6248" stroke-opacity="0.15" stroke-width="0.9"/>
<path d="M102.9 529.1L102.3 524.2L101.8 519.4L101.2 514.7L100.5 510.1" stroke="#a4140a" stroke-opacity="0.21" stroke-width="0.9"/>
<path d="M75.3 491.8L75.0 485.3L74.5 478.9L73.8 472.7L72.9 466.9" stroke="#a4140a" stroke-opacity="0.19" stroke-width="0.9"/>
<path d="M344.0 285.4L347.6 290.0L351.4 294.3L355.4 298.2L359.7 301.6" stroke="#ee6248" stroke-opacity="0.42" stroke-width="0.6"/>
<path d="M335.3 277.7L338.9 282.0L342.2 286.3L345.6 290.3L349.1 294.0" stroke="#ee6248" stroke-opacity="0.48" stroke-width="0.6"/>
<path d="M271.3 631.3L265.5 626.8L259.1 622.0L253.3 616.8" stroke="#ee6248" stroke-opacity="0.28" stroke-width="1.0"/>
<path d="M93.1 513.1L92.6 507.5L92.0 502.0L91.3 496.7L90.4 491.5" stroke="#ee6248" stroke-opacity="0.43" stroke-width="1.0"/>
<path d="M35.3 323.9L39.9 321.3L44.8 318.7L50.1 316.4L55.6 314.3" stroke="#ee6248" stroke-opacity="0.50" stroke-width="0.8"/>
<path d="M100.9 559.2L99.3 554.1L98.0 549.0L96.8 543.7L95.9 538.4" stroke="#ee6248" stroke-opacity="0.28" stroke-width="0.9"/>
<path d="M431.5 324.5L432.7 327.9L434.1 331.2L435.5 334.5L437.0 337.7" stroke="#a4140a" stroke-opacity="0.18" stroke-width="0.9"/>
<path d="M167.0 240.1L173.6 241.7L180.2 244.0L186.8 247.0L193.4 250.6" stroke="#a4140a" stroke-opacity="0.40" stroke-width="0.7"/>
<path d="M86.9 496.6L85.9 488.7L84.5 481.2L82.5 474.1L80.0 467.6" stroke="#ee6248" stroke-opacity="0.28" stroke-width="1.1"/>
<path d="M126.9 251.5L134.3 252.5L141.2 254.5L147.8 257.1L154.2 260.2" stroke="#ee6248" stroke-opacity="0.15" stroke-width="0.7"/>
<path d="M507.0 370.5L508.3 374.6L509.7 378.6L511.2 382.5L512.7 386.3" stroke="#a4140a" stroke-opacity="0.36" stroke-width="0.8"/>
<path d="M203.8 627.4L196.9 620.4L190.7 612.6L185.2 604.2L180.1 595.5" stroke="#a4140a" stroke-opacity="0.20" stroke-width="0.9"/>
<path d="M166.6 267.8L170.2 269.7L173.8 271.5L177.5 273.2L181.0 274.7" stroke="#ee6248" stroke-opacity="0.28" stroke-width="1.0"/>
<path d="M33.1 478.3L32.5 474.4L32.1 470.3L31.9 466.2L31.8 462.0" stroke="#ee6248" stroke-opacity="0.16" stroke-width="1.0"/>
<path d="M258.7 249.6L264.4 253.8L269.7 258.5L274.6 263.3L279.3 268.1" stroke="#ee6248" stroke-opacity="0.40" stroke-width="0.7"/>
<path d="M321.9 261.2L326.4 265.9L330.9 270.7L335.2 275.7L339.1 280.7" stroke="#ee6248" stroke-opacity="0.33" stroke-width="0.6"/>
<path d="M96.3 266.3L100.3 265.8L104.4 265.4L108.7 265.2L112.9 265.3" stroke="#ee6248" stroke-opacity="0.35" stroke-width="0.7"/>
<path d="M123.1 554.4L121.1 544.8L119.1 535.5L117.1 526.8L114.8 518.7" stroke="#a4140a" stroke-opacity="0.17" stroke-width="1.2"/>
<path d="M210.8 621.8L203.8 613.6L197.8 605.0L192.3 596.1L187.3 587.3" stroke="#ee6248" stroke-opacity="0.19" stroke-width="1.2"/>
<path d="M468.8 330.1L470.3 333.9L471.8 337.8L473.2 341.7L474.7 345.7" stroke="#ee6248" stroke-opacity="0.49" stroke-width="0.8"/>
<path d="M274.5 604.7L270.0 599.6L265.0 595.0L261.4 591.0L256.4 587.2L250.7 584.3" stroke="#8e1007" stroke-opacity="0.8" stroke-width="1.9"/>
<path d="M266.1 642.0L262.0 639.2L256.2 635.5L252.0 631.2L248.0 626.7L243.4 621.8L238.7 616.6L234.2 611.2L230.0 605.7L226.2 600.2L222.9 594.9L220.1 589.9L217.4 585.2L214.4 580.9L211.1 577.0" stroke="#8e1007" stroke-opacity="0.8" stroke-width="1.9"/>
<path d="M213.4 635.8L207.9 631.7L203.2 626.9L199.4 621.6L196.0 615.9L193.0 609.8L190.3 603.5L187.8 597.0L185.5 590.6L183.3 584.3L181.2 578.3L179.1 572.5L177.0 567.3L174.7 562.5L172.6 558.3" stroke="#8e1007" stroke-opacity="0.8" stroke-width="1.9"/>
<path d="M162.2 615.0L158.7 610.3L155.6 605.1L152.9 599.4L150.6 593.1L148.8 586.6L147.4 580.0L146.2 573.3L145.2 566.7L144.4 560.3L143.5 554.2L142.5 548.4L141.4 543.1L140.0 538.2L138.3 533.7" stroke="#8e1007" stroke-opacity="0.8" stroke-width="1.8"/>
<path d="M118.5 585.4L116.2 580.3L114.4 574.8L113.0 569.0L112.0 562.8L111.5 556.5L111.2 550.1L111.1 543.7L111.1 537.3L111.2 531.2L111.2 525.3L111.1 519.6L110.8 514.4L110.1 509.5L109.2 505.0" stroke="#8e1007" stroke-opacity="0.8" stroke-width="1.8"/>
<path d="M83.3 551.3L81.8 546.3L80.8 540.9L80.3 535.1L80.2 529.2L80.5 523.2L81.0 517.0L81.8 510.8L82.5 504.7L83.3 498.6L83.8 492.8L84.2 487.2L84.2 481.9L83.8 476.9L83.0 472.3" stroke="#8e1007" stroke-opacity="0.8" stroke-width="1.7"/>
<path d="M54.2 515.5L53.3 510.6L52.9 505.4L52.9 499.9L53.3 494.3L54.0 488.4L54.9 482.4L55.9 476.4L57.0 470.5L58.2 464.7L59.2 459.2L60.1 453.9L60.7 448.8L61.0 444.1L60.9 439.7" stroke="#8e1007" stroke-opacity="0.8" stroke-width="1.7"/>
<path d="M28.5 478.9L27.9 473.8L27.9 468.6L28.4 463.1L29.4 457.5L30.7 451.8L32.4 446.1L34.2 440.4L36.5 435.0L39.2 430.2L42.2 426.0L44.9 421.2L47.1 416.5L49.0 412.6L50.6 408.8" stroke="#8e1007" stroke-opacity="0.8" stroke-width="1.6"/>
<path d="M6.9 433.5L8.2 428.9L9.9 424.2L12.1 419.0L14.9 413.9L18.2 408.9L21.9 404.2L26.0 399.7L30.2 395.7L34.5 392.2L38.7 389.1L42.7 386.3L46.4 383.5L49.7 380.7L52.4 378.3" stroke="#8e1007" stroke-opacity="0.8" stroke-width="1.6"/>
<path d="M3.5 383.9L6.6 379.1L10.2 375.1L14.3 371.4L19.0 367.9L24.0 364.8L29.3 362.3L34.8 360.2L40.1 358.5L45.4 357.0L50.5 355.6L55.4 354.1L59.9 352.5L64.0 350.7L67.8 348.6" stroke="#8e1007" stroke-opacity="0.8" stroke-width="1.6"/>
<path d="M20.8 338.1L24.8 335.4L29.3 333.2L34.0 331.3L39.1 329.8L44.4 328.5L49.9 327.3L55.5 326.3L61.0 325.5L66.4 324.8L71.5 324.3L76.2 323.9L80.6 323.5L84.7 322.9L88.4 322.1" stroke="#8e1007" stroke-opacity="0.8" stroke-width="1.5"/>
<path d="M45.3 302.6L50.0 300.3L55.0 298.7L60.3 297.7L65.7 297.2L71.1 297.2L76.7 297.5L82.2 298.1L87.7 298.8L93.0 299.5L98.1 300.0L103.0 300.3L107.7 300.4L111.9 300.1L115.8 299.6" stroke="#8e1007" stroke-opacity="0.8" stroke-width="1.5"/>
<path d="M78.1 273.6L82.5 272.9L87.1 272.5L92.0 272.6L97.2 273.0L102.4 273.7L107.6 274.7L112.8 275.9L117.9 277.4L122.6 279.0L127.2 280.5L131.3 282.0L135.3 283.4L138.7 284.6L141.8 285.5" stroke="#8e1007" stroke-opacity="0.8" stroke-width="1.4"/>
<path d="M113.7 251.9L118.4 251.8L123.2 252.4L128.2 253.6L133.2 255.3L137.9 257.6L142.3 260.3L146.6 263.1L150.7 266.1L154.8 269.0L158.7 271.9L162.4 274.5L166.2 276.8L169.9 278.7L173.5 280.2" stroke="#8e1007" stroke-opacity="0.8" stroke-width="1.4"/>
<path d="M154.2 241.0L158.3 242.3L162.3 244.1L166.3 246.4L170.3 249.0L174.3 252.0L178.3 255.3L182.2 258.6L186.1 262.1L189.9 265.4L193.7 268.6L197.5 271.6L201.0 274.2L204.5 276.4L207.7 278.3" stroke="#8e1007" stroke-opacity="0.8" stroke-width="1.4"/>
<path d="M191.8 237.0L195.7 238.6L199.7 240.8L203.7 243.4L207.6 246.5L211.4 249.9L215.1 253.7L218.6 257.5L222.1 261.4L225.6 265.2L229.0 268.8L232.5 272.1L236.2 275.1L239.9 277.6L243.7 279.6" stroke="#8e1007" stroke-opacity="0.8" stroke-width="1.4"/>
<path d="M230.7 237.1L234.2 239.2L237.6 241.7L241.0 244.6L244.4 247.8L248.0 251.3L251.6 255.0L255.1 258.9L258.6 262.8L261.8 266.6L264.9 270.4L267.8 273.8L270.7 277.0L273.6 279.8L276.8 282.2" stroke="#8e1007" stroke-opacity="0.8" stroke-width="1.4"/>
<path d="M268.4 238.8L272.3 241.3L275.9 244.2L279.2 247.6L282.3 251.3L285.2 255.3L288.1 259.5L291.0 263.7L294.0 267.8L297.0 271.9L300.0 275.7L303.0 279.3L305.9 282.5L308.9 285.3L311.9 287.7" stroke="#8e1007" stroke-opacity="0.8" stroke-width="1.4"/>
<path d="M304.6 245.0L308.0 247.4L311.3 250.2L314.5 253.5L317.6 257.2L320.5 261.2L323.4 265.4L326.2 269.7L328.9 274.0L331.4 278.2L333.9 282.3L336.2 286.1L338.5 289.6L340.8 292.8L343.2 295.6" stroke="#8e1007" stroke-opacity="0.8" stroke-width="1.4"/>
<path d="M341.7 252.2L345.3 255.1L348.4 258.5L351.2 262.3L353.8 266.4L356.1 270.8L358.2 275.4L360.2 280.1L362.2 284.8L364.2 289.4L366.3 293.8L368.5 297.9L370.6 301.6L372.8 304.9L375.0 307.7" stroke="#8e1007" stroke-opacity="0.8" stroke-width="1.4"/>
<path d="M377.6 265.0L380.3 268.1L382.8 271.6L385.2 275.6L387.4 279.8L389.4 284.4L391.1 289.1L392.7 293.8L394.1 298.6L395.5 303.3L397.0 307.8L398.5 312.0L400.1 315.9L401.8 319.5L403.8 322.7" stroke="#8e1007" stroke-opacity="0.8" stroke-width="1.4"/>
<path d="M411.5 281.1L413.8 284.5L415.9 288.2L417.7 292.3L419.3 296.7L420.7 301.4L421.9 306.2L422.9 311.1L423.8 316.0L424.7 320.8L425.6 325.4L426.7 329.8L428.0 334.0L429.5 337.8L431.3 341.3" stroke="#8e1007" stroke-opacity="0.8" stroke-width="1.4"/>
<path d="M442.9 300.5L444.8 304.1L446.4 307.9L447.7 312.1L448.8 316.6L449.8 321.2L450.6 326.1L451.4 331.0L452.1 336.0L452.9 340.8L453.8 345.5L454.8 350.0L456.2 354.3L457.8 358.2L459.8 361.7" stroke="#8e1007" stroke-opacity="0.8" stroke-width="1.4"/>
<path d="M471.6 321.0L473.3 324.5L474.7 328.3L476.0 332.4L477.0 336.8L478.0 341.4L478.9 346.2L479.8 351.1L480.8 356.0L481.8 360.8L482.9 365.4L484.2 369.8L485.6 373.9L487.1 377.6L488.8 380.9" stroke="#8e1007" stroke-opacity="0.8" stroke-width="1.4"/>
<path d="M499.5 340.0L501.4 343.4L503.2 347.3L504.7 351.5L506.0 356.0L507.1 360.7L507.9 365.6L508.6 370.6L509.4 375.5L510.2 380.4L511.1 385.1L512.2 389.5" stroke="#8e1007" stroke-opacity="0.8" stroke-width="1.4"/>
<path d="M528.8 360.4L530.5 363.9" stroke="#8e1007" stroke-opacity="0.8" stroke-width="1.4"/>
</g>
<path d="M514.8 345.9C518.1 343.7 523.4 340.6 528.9 338.8C534.4 337.0 541.9 335.6 547.8 335.3C553.7 335.0 559.5 335.2 564.2 337.0C568.9 338.8 572.1 342.4 576.0 345.9C579.9 349.3 583.9 353.4 587.8 357.7C591.7 362.0 596.1 366.7 599.6 371.8C603.1 376.9 606.8 382.8 609.0 388.3C611.2 393.8 612.2 399.3 612.6 404.8C613.0 410.3 612.4 416.2 611.4 421.3C610.4 426.4 609.1 431.0 606.7 435.5C604.3 440.0 601.1 444.5 597.2 448.4C593.3 452.3 588.6 456.4 583.1 459.0C577.6 461.6 570.5 463.4 564.2 464.2C557.9 465.0 551.7 464.8 545.4 463.7C539.1 462.6 532.4 460.8 526.5 457.8C520.6 454.9 515.1 450.5 510.0 446.0C504.9 441.5 500.0 436.0 495.9 430.7C491.8 425.4 487.9 419.4 485.3 414.3C482.8 409.2 481.2 404.1 480.6 400.0C480.0 395.9 480.4 393.2 481.8 389.5C483.2 385.8 485.7 382.2 488.8 377.7C491.9 373.2 497.2 366.7 500.6 362.4C504.0 358.1 506.6 354.8 509.0 352.0C511.4 349.2 511.5 348.1 514.8 345.9Z" fill="url(#capg1)"/>
<clipPath id="ccapg1"><path d="M514.8 345.9C518.1 343.7 523.4 340.6 528.9 338.8C534.4 337.0 541.9 335.6 547.8 335.3C553.7 335.0 559.5 335.2 564.2 337.0C568.9 338.8 572.1 342.4 576.0 345.9C579.9 349.3 583.9 353.4 587.8 357.7C591.7 362.0 596.1 366.7 599.6 371.8C603.1 376.9 606.8 382.8 609.0 388.3C611.2 393.8 612.2 399.3 612.6 404.8C613.0 410.3 612.4 416.2 611.4 421.3C610.4 426.4 609.1 431.0 606.7 435.5C604.3 440.0 601.1 444.5 597.2 448.4C593.3 452.3 588.6 456.4 583.1 459.0C577.6 461.6 570.5 463.4 564.2 464.2C557.9 465.0 551.7 464.8 545.4 463.7C539.1 462.6 532.4 460.8 526.5 457.8C520.6 454.9 515.1 450.5 510.0 446.0C504.9 441.5 500.0 436.0 495.9 430.7C491.8 425.4 487.9 419.4 485.3 414.3C482.8 409.2 481.2 404.1 480.6 400.0C480.0 395.9 480.4 393.2 481.8 389.5C483.2 385.8 485.7 382.2 488.8 377.7C491.9 373.2 497.2 366.7 500.6 362.4C504.0 358.1 506.6 354.8 509.0 352.0C511.4 349.2 511.5 348.1 514.8 345.9Z"/></clipPath>
<g clip-path="url(#ccapg1)"><path d="M483.0 392.0C484.0 389.8 486.1 383.7 489.0 379.0C491.9 374.3 496.3 369.2 500.6 364.0C504.9 358.8 510.1 351.8 515.0 348.0C519.9 344.2 524.5 342.8 530.0 341.0C535.5 339.2 542.3 337.8 548.0 337.5C553.7 337.2 561.3 338.8 564.0 339.0" fill="none" stroke="#6d6d6f" stroke-opacity="0.65" stroke-width="7" stroke-linecap="round" filter="url(#b1)"/></g>
<ellipse cx="533.6" cy="396.6" rx="21.6" ry="16.8" fill="url(#glow)" transform="rotate(-25 533.6 396.6)"/>
<ellipse cx="533.6" cy="396.6" rx="9.0" ry="7.0" fill="url(#hl)" transform="rotate(-25 533.6 396.6)"/>
<ellipse cx="573.7" cy="391.0" rx="18.0" ry="24.0" fill="url(#glow)" transform="rotate(15 573.7 391.0)"/>
<ellipse cx="573.7" cy="391.0" rx="7.5" ry="10.0" fill="url(#hl)" transform="rotate(15 573.7 391.0)"/>
<ellipse cx="587.0" cy="436.1" rx="11.3" ry="13.3" fill="#4a4a4c" transform="rotate(20 587.8 436.6)"/>
<ellipse cx="587.8" cy="436.6" rx="10.5" ry="12.5" fill="#0b0b0c" transform="rotate(20 587.8 436.6)"/>
<path d="M589.8 434.6 q -3 -3 -5 1 t -3 4 q 3 2 5 -1" fill="none" stroke="#5c5c5e" stroke-width="1.6" stroke-linecap="round"/>
<path d="M289.5 544.4C293.2 542.2 296.1 540.5 299.5 539.9C302.9 539.3 305.7 539.8 310.1 540.7C314.5 541.6 321.1 543.7 326.0 545.2C330.9 546.7 334.9 547.7 339.3 549.7C343.7 551.7 348.2 554.1 352.6 557.1C357.0 560.1 361.4 563.5 365.8 567.7C370.2 571.9 375.4 577.2 379.1 582.3C382.9 587.4 385.9 593.1 388.3 598.2C390.7 603.3 392.4 608.2 393.6 612.8C394.8 617.4 395.5 621.1 395.5 626.0C395.5 630.9 395.0 636.7 393.6 642.0C392.2 647.3 389.9 652.6 387.0 657.9C384.1 663.2 380.4 669.2 376.4 673.8C372.4 678.4 368.0 682.5 363.2 685.7C358.4 688.9 352.6 691.2 347.3 692.9C342.0 694.6 337.1 695.5 331.3 696.0C325.6 696.5 318.5 696.6 312.8 696.0C307.1 695.4 301.8 694.0 296.9 692.3C292.0 690.6 287.8 688.6 283.6 685.7C279.4 682.8 275.2 679.3 271.7 675.1C268.2 670.9 264.9 665.6 262.4 660.5C259.9 655.4 258.0 650.4 256.6 644.6C255.2 638.9 254.2 632.2 253.9 626.0C253.6 619.8 254.0 613.2 254.5 607.5C255.0 601.8 256.0 596.7 257.1 591.6C258.2 586.5 259.3 581.6 261.1 577.0C262.9 572.4 265.1 567.7 267.7 563.7C270.3 559.7 273.4 556.3 277.0 553.1C280.6 549.9 285.8 546.6 289.5 544.4Z" fill="url(#capg2)"/>
<clipPath id="ccapg2"><path d="M289.5 544.4C293.2 542.2 296.1 540.5 299.5 539.9C302.9 539.3 305.7 539.8 310.1 540.7C314.5 541.6 321.1 543.7 326.0 545.2C330.9 546.7 334.9 547.7 339.3 549.7C343.7 551.7 348.2 554.1 352.6 557.1C357.0 560.1 361.4 563.5 365.8 567.7C370.2 571.9 375.4 577.2 379.1 582.3C382.9 587.4 385.9 593.1 388.3 598.2C390.7 603.3 392.4 608.2 393.6 612.8C394.8 617.4 395.5 621.1 395.5 626.0C395.5 630.9 395.0 636.7 393.6 642.0C392.2 647.3 389.9 652.6 387.0 657.9C384.1 663.2 380.4 669.2 376.4 673.8C372.4 678.4 368.0 682.5 363.2 685.7C358.4 688.9 352.6 691.2 347.3 692.9C342.0 694.6 337.1 695.5 331.3 696.0C325.6 696.5 318.5 696.6 312.8 696.0C307.1 695.4 301.8 694.0 296.9 692.3C292.0 690.6 287.8 688.6 283.6 685.7C279.4 682.8 275.2 679.3 271.7 675.1C268.2 670.9 264.9 665.6 262.4 660.5C259.9 655.4 258.0 650.4 256.6 644.6C255.2 638.9 254.2 632.2 253.9 626.0C253.6 619.8 254.0 613.2 254.5 607.5C255.0 601.8 256.0 596.7 257.1 591.6C258.2 586.5 259.3 581.6 261.1 577.0C262.9 572.4 265.1 567.7 267.7 563.7C270.3 559.7 273.4 556.3 277.0 553.1C280.6 549.9 285.8 546.6 289.5 544.4Z"/></clipPath>
<g clip-path="url(#ccapg2)"><path d="M256.0 610.0C256.5 605.8 257.3 592.3 259.0 585.0C260.7 577.7 262.8 571.5 266.0 566.0C269.2 560.5 273.8 555.4 278.0 552.0C282.2 548.6 286.0 547.2 291.0 545.5C296.0 543.8 301.3 541.6 308.0 542.0C314.7 542.4 322.8 544.5 331.0 548.0C339.2 551.5 352.7 560.5 357.0 563.0" fill="none" stroke="#6d6d6f" stroke-opacity="0.65" stroke-width="7" stroke-linecap="round" filter="url(#b1)"/></g>
<ellipse cx="303.0" cy="608.5" rx="22.8" ry="19.2" fill="url(#glow)" transform="rotate(-25 303.0 608.5)"/>
<ellipse cx="303.0" cy="608.5" rx="9.5" ry="8.0" fill="url(#hl)" transform="rotate(-25 303.0 608.5)"/>
<ellipse cx="347.0" cy="607.5" rx="19.2" ry="25.2" fill="url(#glow)" transform="rotate(15 347.0 607.5)"/>
<ellipse cx="347.0" cy="607.5" rx="8.0" ry="10.5" fill="url(#hl)" transform="rotate(15 347.0 607.5)"/>
<ellipse cx="388.7" cy="627.5" rx="6.8" ry="15.8" fill="#4a4a4c" transform="rotate(8 389.5 628.0)"/>
<ellipse cx="389.5" cy="628.0" rx="6.0" ry="15.0" fill="#0b0b0c" transform="rotate(8 389.5 628.0)"/>
<path d="M391.5 626.0 q -3 -3 -5 1 t -3 4 q 3 2 5 -1" fill="none" stroke="#5c5c5e" stroke-width="1.6" stroke-linecap="round"/>
<path d="M8.8 261.0C9.6 258.6 11.3 256.0 13.3 254.4C15.3 252.8 18.1 251.3 21.0 251.5C23.9 251.7 26.5 253.2 30.9 255.5C35.3 257.8 41.6 264.0 47.5 265.4C53.4 266.8 60.2 265.5 66.3 263.9C72.4 262.3 79.5 257.5 83.9 255.9C88.3 254.3 90.0 254.5 92.8 254.4C95.6 254.3 97.6 253.8 100.5 255.5C103.4 257.1 107.1 260.6 110.4 264.3C113.7 268.0 117.6 273.2 120.4 277.6C123.2 282.0 126.0 286.4 127.0 290.8C128.0 295.2 128.1 300.3 126.4 304.0C124.7 307.7 120.4 310.3 117.0 312.9C113.6 315.5 110.0 317.2 106.0 319.5C102.0 321.8 96.3 325.1 92.8 326.6C89.3 328.1 86.8 329.2 85.0 328.4C83.2 327.6 83.5 324.6 82.2 321.7C80.9 318.8 79.2 314.2 77.3 310.7C75.4 307.2 73.1 303.5 70.7 300.7C68.3 297.9 65.6 295.9 63.0 294.1C60.4 292.3 57.8 290.4 55.2 289.7C52.6 289.0 49.7 289.1 47.5 289.7C45.3 290.2 44.4 292.1 42.0 293.0C39.6 293.9 37.3 297.2 33.1 295.2C28.9 293.2 20.7 285.3 16.6 280.9C12.6 276.5 10.1 272.0 8.8 268.7C7.5 265.4 8.1 263.4 8.8 261.0Z" fill="url(#chrome1)" stroke="#8f8f8f" stroke-width="0.6"/>
<clipPath id="silclip"><path d="M8.8 261.0C9.6 258.6 11.3 256.0 13.3 254.4C15.3 252.8 18.1 251.3 21.0 251.5C23.9 251.7 26.5 253.2 30.9 255.5C35.3 257.8 41.6 264.0 47.5 265.4C53.4 266.8 60.2 265.5 66.3 263.9C72.4 262.3 79.5 257.5 83.9 255.9C88.3 254.3 90.0 254.5 92.8 254.4C95.6 254.3 97.6 253.8 100.5 255.5C103.4 257.1 107.1 260.6 110.4 264.3C113.7 268.0 117.6 273.2 120.4 277.6C123.2 282.0 126.0 286.4 127.0 290.8C128.0 295.2 128.1 300.3 126.4 304.0C124.7 307.7 120.4 310.3 117.0 312.9C113.6 315.5 110.0 317.2 106.0 319.5C102.0 321.8 96.3 325.1 92.8 326.6C89.3 328.1 86.8 329.2 85.0 328.4C83.2 327.6 83.5 324.6 82.2 321.7C80.9 318.8 79.2 314.2 77.3 310.7C75.4 307.2 73.1 303.5 70.7 300.7C68.3 297.9 65.6 295.9 63.0 294.1C60.4 292.3 57.8 290.4 55.2 289.7C52.6 289.0 49.7 289.1 47.5 289.7C45.3 290.2 44.4 292.1 42.0 293.0C39.6 293.9 37.3 297.2 33.1 295.2C28.9 293.2 20.7 285.3 16.6 280.9C12.6 276.5 10.1 272.0 8.8 268.7C7.5 265.4 8.1 263.4 8.8 261.0Z"/></clipPath><g clip-path="url(#silclip)">
<path d="M88.4 253.7C92.6 252.6 96.8 253.7 100.5 255.5C104.2 257.2 107.1 260.6 110.4 264.3C113.8 268.0 117.6 273.1 120.4 277.6C123.1 282.0 126.0 286.4 127.0 290.8C128.0 295.2 128.0 300.4 126.4 304.1C124.7 307.7 120.5 310.3 117.1 312.9C113.7 315.5 110.1 317.2 106.0 319.5C102.0 321.8 96.3 325.1 92.8 326.6C89.3 328.1 86.8 329.2 85.0 328.4C83.3 327.5 83.5 324.7 82.2 321.7C80.9 318.8 79.2 314.2 77.3 310.7C75.4 307.2 73.1 303.5 70.7 300.7C68.3 298.0 65.5 296.0 63.0 294.1C60.4 292.3 55.0 292.8 55.2 289.7C55.4 286.6 60.7 279.9 64.1 275.3C67.4 270.7 71.1 265.7 75.1 262.1C79.2 258.5 84.1 254.8 88.4 253.7Z" fill="url(#sleeve1)"/>
<path d="M66.3 292.6C67.2 290.6 72.0 289.3 76.2 289.0C80.4 288.8 87.4 290.0 91.7 291.2C96.0 292.5 100.0 293.8 102.1 296.3C104.2 298.8 104.3 302.7 104.3 306.3C104.3 309.8 104.0 314.5 102.1 317.8C100.1 321.0 95.6 323.9 92.8 325.7C89.9 327.5 86.8 329.0 85.0 328.4C83.3 327.7 83.5 324.7 82.2 321.7C80.9 318.8 79.2 314.2 77.3 310.7C75.4 307.2 72.5 303.8 70.7 300.7C68.8 297.7 65.3 294.5 66.3 292.6Z" fill="#7c7c7c" filter="url(#b1)"/>
<path d="M88.4 295.2C89.8 292.5 94.9 293.4 97.2 294.1C99.5 294.9 101.2 296.5 102.1 299.6C102.9 302.8 102.9 309.4 102.1 312.9C101.2 316.4 99.1 319.2 97.2 320.6C95.3 322.1 92.0 323.4 90.6 321.7C89.1 320.1 88.7 315.1 88.4 310.7C88.0 306.3 86.9 298.0 88.4 295.2Z" fill="#b4b4b4" opacity="0.8" filter="url(#b1)"/>
<path d="M106.0 287.5C107.9 283.4 113.8 281.2 117.1 282.0C120.4 282.7 124.5 288.2 125.9 291.9C127.3 295.6 126.9 300.7 125.5 304.1C124.0 307.4 120.1 309.6 117.1 311.8C114.0 314.0 109.0 318.2 107.1 317.3C105.3 316.4 106.2 311.2 106.0 306.3C105.8 301.3 104.2 291.5 106.0 287.5Z" fill="#cfcfcf" filter="url(#b1)"/>
<path d="M50.8 268.7C53.2 266.4 60.7 266.7 66.3 264.7C71.8 262.8 78.4 258.1 83.9 256.8C89.5 255.5 95.0 255.2 99.4 256.8C103.8 258.4 107.3 262.9 110.4 266.5C113.6 270.2 118.9 275.5 118.2 278.7C117.4 281.8 111.0 283.8 106.0 285.3C101.1 286.8 93.9 287.3 88.4 287.5C82.8 287.7 77.7 286.1 72.9 286.4C68.1 286.6 63.5 288.6 59.6 289.0C55.8 289.5 51.0 290.8 49.7 289.0C48.4 287.3 51.7 282.0 51.9 278.7C52.1 275.3 48.4 271.0 50.8 268.7Z" fill="#e0e0e0" filter="url(#b1)"/>
<path d="M87.3 262.1C89.4 260.8 95.2 259.9 98.3 261.0C101.4 262.1 105.4 266.4 106.0 268.7C106.7 271.0 104.6 274.0 102.1 274.9C99.6 275.8 93.7 275.0 91.0 274.0C88.3 273.0 86.3 270.7 85.7 268.7C85.1 266.7 85.2 263.4 87.3 262.1Z" fill="#f4f4f4" filter="url(#b1)"/>
<path d="M8.8 261.0C9.6 258.6 11.2 255.9 13.3 254.4C15.3 252.8 18.0 251.3 21.0 251.5C23.9 251.7 26.5 253.1 30.9 255.5C35.3 257.8 44.0 262.5 47.5 265.4C51.0 268.3 52.1 269.8 52.1 273.1C52.2 276.4 49.4 282.0 47.7 285.3C46.0 288.6 44.4 291.4 42.0 293.0C39.5 294.7 37.4 297.2 33.1 295.2C28.9 293.2 20.6 285.3 16.6 280.9C12.5 276.4 10.1 272.0 8.8 268.7C7.5 265.4 8.1 263.4 8.8 261.0Z" fill="#e3e3e3"/>
<path d="M8.4 267.6C9.6 270.0 11.9 277.2 15.9 282.0C20.0 286.8 28.2 294.4 32.7 296.3C37.2 298.3 41.3 294.1 43.1 293.7" fill="none" stroke="#a3a3a3" stroke-width="2.6" filter="url(#b1)"/>
<path d="M47.7 265.6C48.5 266.9 52.5 269.9 52.6 273.1C52.6 276.4 49.8 282.0 48.2 285.3C46.5 288.6 43.4 291.7 42.4 293.0" fill="none" stroke="#8a8a8a" stroke-width="1.6" filter="url(#b1)"/>
<path d="M9.9 259.9C10.6 259.1 11.9 256.3 13.7 255.0C15.5 253.8 18.1 252.1 21.0 252.4C23.9 252.6 26.6 254.1 30.9 256.3C35.2 258.6 44.2 264.4 46.8 266.1" fill="none" stroke="#ffffff" stroke-width="2.4" filter="url(#b1)"/>
<path d="M42.0 293.2C42.9 292.7 45.3 290.7 47.5 290.1C49.7 289.6 52.6 289.4 55.2 290.1C57.8 290.9 60.4 292.7 63.0 294.6C65.5 296.4 68.3 298.4 70.7 301.2C73.1 303.9 75.4 307.6 77.3 311.1C79.2 314.6 80.9 319.2 82.2 322.2C83.5 325.1 84.6 327.7 85.0 328.8" fill="none" stroke="#fafafa" stroke-width="3"/>
</g>
<ellipse cx="21" cy="273.3" rx="7.2" ry="11.2" fill="#efefef" stroke="#b0b0b0" stroke-width="0.6" transform="rotate(-33 21 273.3)"/>
<ellipse cx="21.6" cy="273.8" rx="4.8" ry="9" fill="#8a8a8a" transform="rotate(-33 21.6 273.8)"/>
<ellipse cx="23" cy="275" rx="2.6" ry="6.5" fill="#c4c4c4" transform="rotate(-33 23 275)"/>
<g stroke="#e01414" stroke-width="1.5" fill="none">
<path d="M256 119.5H295" stroke="#ab1218" stroke-width="1.3"/><path d="M79.7 217V280" stroke="#ab1218" stroke-width="1.3"/><path d="M304.8 261V369.5" stroke="#e32215" stroke-width="1.4"/><path d="M323.6 622H430" stroke="#c5101a" stroke-width="1.2"/>
</g>
<g fill="#e20f14">
<rect x="294.4" y="89.5" width="4.8" height="63.5"/>
<rect x="429.1" y="591.3" width="4.8" height="63.2"/>
<path d="M291.8 369.4H416.8V383H412.2V373.7H291.8Z"/>
<path d="M159.2 441.2H163.7V459.4H180V463.8H159.2Z"/>
</g>
<circle cx="80.0" cy="280.4" r="7.6" fill="#e3231c"/><circle cx="80.0" cy="280.4" r="6.3" fill="#8e0606"/><circle cx="80.0" cy="280.4" r="4.9" fill="#ff0a0a"/>
<circle cx="305" cy="261.4" r="7.4" fill="#e8452a"/><circle cx="305" cy="261.4" r="6.2" fill="#c8260f"/><circle cx="305" cy="261.4" r="4.9" fill="#f4371b"/>
<circle cx="323.6" cy="622.1" r="7.6" fill="#e3231c"/><circle cx="323.6" cy="622.1" r="6.3" fill="#8e0606"/><circle cx="323.6" cy="622.1" r="4.9" fill="#ff0a0a"/>
<g font-family="'Liberation Sans', sans-serif" font-size="23.7" fill="#161616" opacity="0.995">
<text x="311.20" y="115.9" textLength="287.90" lengthAdjust="spacingAndGlyphs">REVOLVING ATTACHMENT</text>
<text x="313.20" y="144.7" textLength="241.30" lengthAdjust="spacingAndGlyphs">WITH CHROME FINISH</text>
<text x="174.20" y="409.4" textLength="231.10" lengthAdjust="spacingAndGlyphs">HEAVY–DUTY NYLON</text>
<text x="174.20" y="438.8" textLength="151.70" lengthAdjust="spacingAndGlyphs">BRAIDED ROPE</text>
<text x="447.20" y="617.6" textLength="230.50" lengthAdjust="spacingAndGlyphs">SECURE PLASTIC END</text>
<text x="448.40" y="644.4" textLength="229.90" lengthAdjust="spacingAndGlyphs">TO PREVENT SLIPPING</text>
</g>
</svg></body></html>
